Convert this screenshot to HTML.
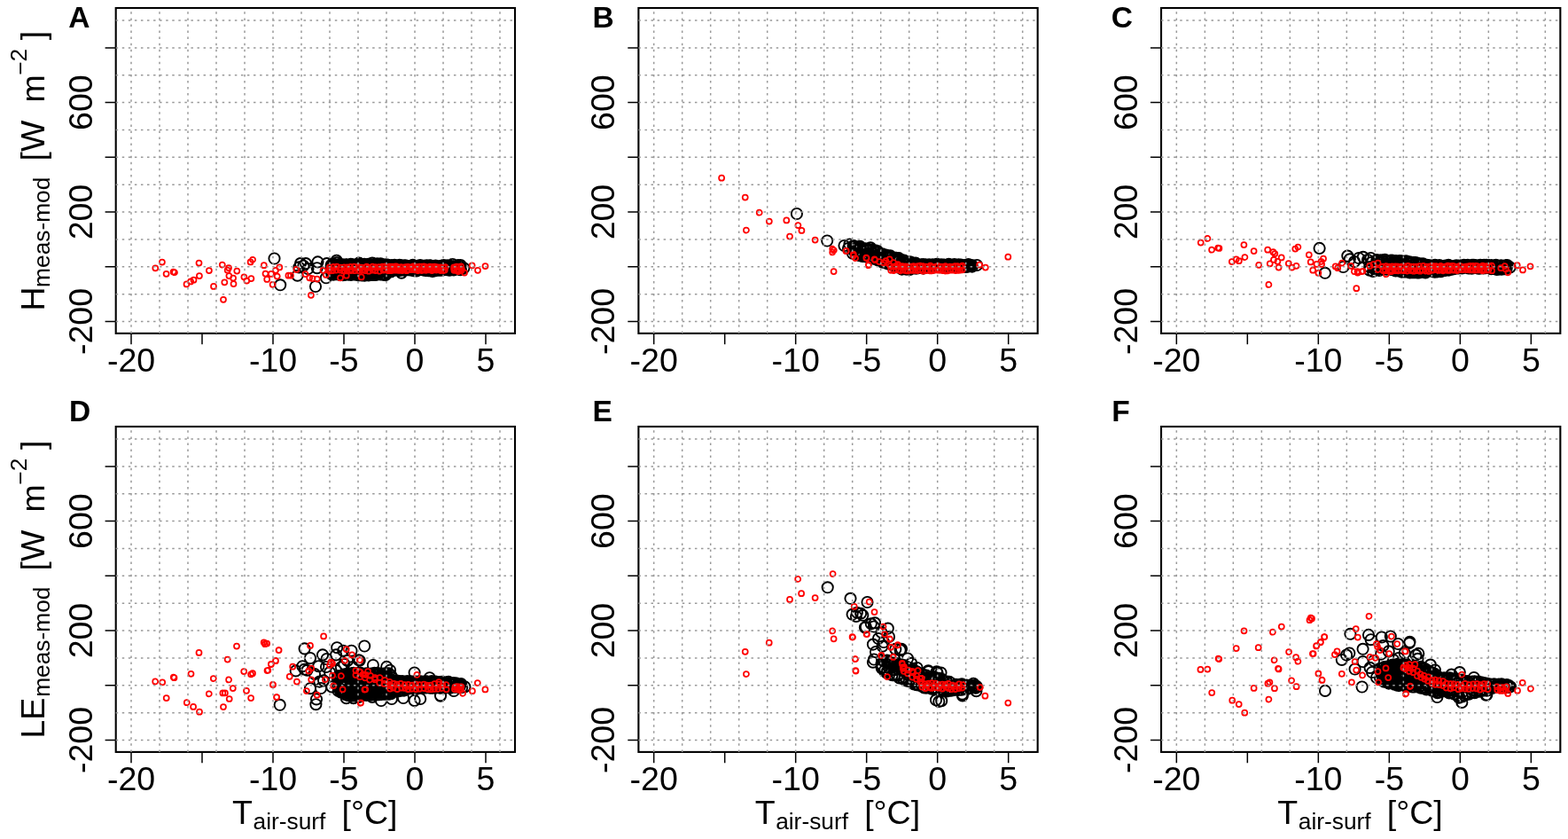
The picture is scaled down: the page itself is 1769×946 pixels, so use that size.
<!DOCTYPE html>
<html><head><meta charset="utf-8"><style>
html,body{margin:0;padding:0;background:#fff;}
svg{display:block;}
.t{font-family:'Liberation Sans', Arial, sans-serif;font-size:37.5px;fill:#000;}
.L{font-family:'Liberation Sans', Arial, sans-serif;font-size:33.5px;font-weight:bold;fill:#000;}
.s{font-family:'Liberation Sans', Arial, sans-serif;font-size:26.3px;fill:#000;}
</style></head><body>
<svg width="1769" height="946" viewBox="0 0 1769 946">
<rect width="1769" height="946" fill="#fff"/>
<path d="M148.00 375.90V388.30M228.00 375.90V388.30M308.00 375.90V388.30M388.00 375.90V388.30M468.00 375.90V388.30M548.00 375.90V388.30M130.70 362.50H118.60M130.70 300.78H118.60M130.70 239.06H118.60M130.70 177.34H118.60M130.70 115.62H118.60M130.70 53.90H118.60" stroke="#000" stroke-width="1.5" fill="none"/>
<rect x="130.70" y="9.00" width="450.30" height="366.90" stroke="#000" stroke-width="2.1" fill="none"/>
<text x="148.00" y="418.50" text-anchor="middle" class="t">-20</text>
<text x="308.00" y="418.50" text-anchor="middle" class="t">-10</text>
<text x="388.00" y="418.50" text-anchor="middle" class="t">-5</text>
<text x="468.00" y="418.50" text-anchor="middle" class="t">0</text>
<text x="548.00" y="418.50" text-anchor="middle" class="t">5</text>
<text transform="translate(103.70 362.50) rotate(-90)" text-anchor="middle" class="t">-200</text>
<text transform="translate(103.70 239.06) rotate(-90)" text-anchor="middle" class="t">200</text>
<text transform="translate(103.70 115.62) rotate(-90)" text-anchor="middle" class="t">600</text>
<path d="M737.67 375.90V388.30M817.67 375.90V388.30M897.67 375.90V388.30M977.67 375.90V388.30M1057.67 375.90V388.30M1137.67 375.90V388.30M720.37 362.50H708.27M720.37 300.78H708.27M720.37 239.06H708.27M720.37 177.34H708.27M720.37 115.62H708.27M720.37 53.90H708.27" stroke="#000" stroke-width="1.5" fill="none"/>
<rect x="720.37" y="9.00" width="450.30" height="366.90" stroke="#000" stroke-width="2.1" fill="none"/>
<text x="737.67" y="418.50" text-anchor="middle" class="t">-20</text>
<text x="897.67" y="418.50" text-anchor="middle" class="t">-10</text>
<text x="977.67" y="418.50" text-anchor="middle" class="t">-5</text>
<text x="1057.67" y="418.50" text-anchor="middle" class="t">0</text>
<text x="1137.67" y="418.50" text-anchor="middle" class="t">5</text>
<text transform="translate(693.37 362.50) rotate(-90)" text-anchor="middle" class="t">-200</text>
<text transform="translate(693.37 239.06) rotate(-90)" text-anchor="middle" class="t">200</text>
<text transform="translate(693.37 115.62) rotate(-90)" text-anchor="middle" class="t">600</text>
<path d="M1327.33 375.90V388.30M1407.33 375.90V388.30M1487.33 375.90V388.30M1567.33 375.90V388.30M1647.33 375.90V388.30M1727.33 375.90V388.30M1310.03 362.50H1297.93M1310.03 300.78H1297.93M1310.03 239.06H1297.93M1310.03 177.34H1297.93M1310.03 115.62H1297.93M1310.03 53.90H1297.93" stroke="#000" stroke-width="1.5" fill="none"/>
<rect x="1310.03" y="9.00" width="450.30" height="366.90" stroke="#000" stroke-width="2.1" fill="none"/>
<text x="1327.33" y="418.50" text-anchor="middle" class="t">-20</text>
<text x="1487.33" y="418.50" text-anchor="middle" class="t">-10</text>
<text x="1567.33" y="418.50" text-anchor="middle" class="t">-5</text>
<text x="1647.33" y="418.50" text-anchor="middle" class="t">0</text>
<text x="1727.33" y="418.50" text-anchor="middle" class="t">5</text>
<text transform="translate(1283.03 362.50) rotate(-90)" text-anchor="middle" class="t">-200</text>
<text transform="translate(1283.03 239.06) rotate(-90)" text-anchor="middle" class="t">200</text>
<text transform="translate(1283.03 115.62) rotate(-90)" text-anchor="middle" class="t">600</text>
<path d="M148.00 847.90V860.30M228.00 847.90V860.30M308.00 847.90V860.30M388.00 847.90V860.30M468.00 847.90V860.30M548.00 847.90V860.30M130.70 834.50H118.60M130.70 772.78H118.60M130.70 711.06H118.60M130.70 649.34H118.60M130.70 587.62H118.60M130.70 525.90H118.60" stroke="#000" stroke-width="1.5" fill="none"/>
<rect x="130.70" y="481.00" width="450.30" height="366.90" stroke="#000" stroke-width="2.1" fill="none"/>
<text x="148.00" y="890.50" text-anchor="middle" class="t">-20</text>
<text x="308.00" y="890.50" text-anchor="middle" class="t">-10</text>
<text x="388.00" y="890.50" text-anchor="middle" class="t">-5</text>
<text x="468.00" y="890.50" text-anchor="middle" class="t">0</text>
<text x="548.00" y="890.50" text-anchor="middle" class="t">5</text>
<text transform="translate(103.70 834.50) rotate(-90)" text-anchor="middle" class="t">-200</text>
<text transform="translate(103.70 711.06) rotate(-90)" text-anchor="middle" class="t">200</text>
<text transform="translate(103.70 587.62) rotate(-90)" text-anchor="middle" class="t">600</text>
<path d="M737.67 847.90V860.30M817.67 847.90V860.30M897.67 847.90V860.30M977.67 847.90V860.30M1057.67 847.90V860.30M1137.67 847.90V860.30M720.37 834.50H708.27M720.37 772.78H708.27M720.37 711.06H708.27M720.37 649.34H708.27M720.37 587.62H708.27M720.37 525.90H708.27" stroke="#000" stroke-width="1.5" fill="none"/>
<rect x="720.37" y="481.00" width="450.30" height="366.90" stroke="#000" stroke-width="2.1" fill="none"/>
<text x="737.67" y="890.50" text-anchor="middle" class="t">-20</text>
<text x="897.67" y="890.50" text-anchor="middle" class="t">-10</text>
<text x="977.67" y="890.50" text-anchor="middle" class="t">-5</text>
<text x="1057.67" y="890.50" text-anchor="middle" class="t">0</text>
<text x="1137.67" y="890.50" text-anchor="middle" class="t">5</text>
<text transform="translate(693.37 834.50) rotate(-90)" text-anchor="middle" class="t">-200</text>
<text transform="translate(693.37 711.06) rotate(-90)" text-anchor="middle" class="t">200</text>
<text transform="translate(693.37 587.62) rotate(-90)" text-anchor="middle" class="t">600</text>
<path d="M1327.33 847.90V860.30M1407.33 847.90V860.30M1487.33 847.90V860.30M1567.33 847.90V860.30M1647.33 847.90V860.30M1727.33 847.90V860.30M1310.03 834.50H1297.93M1310.03 772.78H1297.93M1310.03 711.06H1297.93M1310.03 649.34H1297.93M1310.03 587.62H1297.93M1310.03 525.90H1297.93" stroke="#000" stroke-width="1.5" fill="none"/>
<rect x="1310.03" y="481.00" width="450.30" height="366.90" stroke="#000" stroke-width="2.1" fill="none"/>
<text x="1327.33" y="890.50" text-anchor="middle" class="t">-20</text>
<text x="1487.33" y="890.50" text-anchor="middle" class="t">-10</text>
<text x="1567.33" y="890.50" text-anchor="middle" class="t">-5</text>
<text x="1647.33" y="890.50" text-anchor="middle" class="t">0</text>
<text x="1727.33" y="890.50" text-anchor="middle" class="t">5</text>
<text transform="translate(1283.03 834.50) rotate(-90)" text-anchor="middle" class="t">-200</text>
<text transform="translate(1283.03 711.06) rotate(-90)" text-anchor="middle" class="t">200</text>
<text transform="translate(1283.03 587.62) rotate(-90)" text-anchor="middle" class="t">600</text>
<path d="M303.4 291.5a6.1 6.1 0 1 0 12.2 0a6.1 6.1 0 1 0 -12.2 0M310.1 321.3a6.1 6.1 0 1 0 12.2 0a6.1 6.1 0 1 0 -12.2 0M332.9 297.1a6.1 6.1 0 1 0 12.2 0a6.1 6.1 0 1 0 -12.2 0M336.3 299.7a6.1 6.1 0 1 0 12.2 0a6.1 6.1 0 1 0 -12.2 0M338.9 297.1a6.1 6.1 0 1 0 12.2 0a6.1 6.1 0 1 0 -12.2 0M331.2 301.4a6.1 6.1 0 1 0 12.2 0a6.1 6.1 0 1 0 -12.2 0M329.5 310.7a6.1 6.1 0 1 0 12.2 0a6.1 6.1 0 1 0 -12.2 0M341.4 303.1a6.1 6.1 0 1 0 12.2 0a6.1 6.1 0 1 0 -12.2 0M349.9 323.0a6.1 6.1 0 1 0 12.2 0a6.1 6.1 0 1 0 -12.2 0M352.4 295.4a6.1 6.1 0 1 0 12.2 0a6.1 6.1 0 1 0 -12.2 0M351.6 302.2a6.1 6.1 0 1 0 12.2 0a6.1 6.1 0 1 0 -12.2 0M362.6 297.1a6.1 6.1 0 1 0 12.2 0a6.1 6.1 0 1 0 -12.2 0M361.8 313.3a6.1 6.1 0 1 0 12.2 0a6.1 6.1 0 1 0 -12.2 0M373.6 293.7a6.1 6.1 0 1 0 12.2 0a6.1 6.1 0 1 0 -12.2 0M428.9 306.5a6.1 6.1 0 1 0 12.2 0a6.1 6.1 0 1 0 -12.2 0M444.9 305.0a6.1 6.1 0 1 0 12.2 0a6.1 6.1 0 1 0 -12.2 0M504.5 298.0a6.1 6.1 0 1 0 12.2 0a6.1 6.1 0 1 0 -12.2 0M517.2 302.2a6.1 6.1 0 1 0 12.2 0a6.1 6.1 0 1 0 -12.2 0M513.9 304.0a6.1 6.1 0 1 0 12.2 0a6.1 6.1 0 1 0 -12.2 0M367.5 298.9a6.1 6.1 0 1 0 12.2 0a6.1 6.1 0 1 0 -12.2 0M368.2 309.4a6.1 6.1 0 1 0 12.2 0a6.1 6.1 0 1 0 -12.2 0M367.9 303.5a6.1 6.1 0 1 0 12.2 0a6.1 6.1 0 1 0 -12.2 0M368.4 307.2a6.1 6.1 0 1 0 12.2 0a6.1 6.1 0 1 0 -12.2 0M369.0 297.5a6.1 6.1 0 1 0 12.2 0a6.1 6.1 0 1 0 -12.2 0M369.9 309.7a6.1 6.1 0 1 0 12.2 0a6.1 6.1 0 1 0 -12.2 0M370.3 298.6a6.1 6.1 0 1 0 12.2 0a6.1 6.1 0 1 0 -12.2 0M369.3 306.5a6.1 6.1 0 1 0 12.2 0a6.1 6.1 0 1 0 -12.2 0M370.8 299.1a6.1 6.1 0 1 0 12.2 0a6.1 6.1 0 1 0 -12.2 0M371.6 309.0a6.1 6.1 0 1 0 12.2 0a6.1 6.1 0 1 0 -12.2 0M369.6 304.5a6.1 6.1 0 1 0 12.2 0a6.1 6.1 0 1 0 -12.2 0M372.5 302.8a6.1 6.1 0 1 0 12.2 0a6.1 6.1 0 1 0 -12.2 0M372.4 298.2a6.1 6.1 0 1 0 12.2 0a6.1 6.1 0 1 0 -12.2 0M372.1 309.3a6.1 6.1 0 1 0 12.2 0a6.1 6.1 0 1 0 -12.2 0M372.5 304.0a6.1 6.1 0 1 0 12.2 0a6.1 6.1 0 1 0 -12.2 0M371.8 301.1a6.1 6.1 0 1 0 12.2 0a6.1 6.1 0 1 0 -12.2 0M374.0 298.2a6.1 6.1 0 1 0 12.2 0a6.1 6.1 0 1 0 -12.2 0M374.0 308.9a6.1 6.1 0 1 0 12.2 0a6.1 6.1 0 1 0 -12.2 0M375.4 304.7a6.1 6.1 0 1 0 12.2 0a6.1 6.1 0 1 0 -12.2 0M374.8 300.6a6.1 6.1 0 1 0 12.2 0a6.1 6.1 0 1 0 -12.2 0M376.5 298.9a6.1 6.1 0 1 0 12.2 0a6.1 6.1 0 1 0 -12.2 0M375.4 309.5a6.1 6.1 0 1 0 12.2 0a6.1 6.1 0 1 0 -12.2 0M376.6 306.4a6.1 6.1 0 1 0 12.2 0a6.1 6.1 0 1 0 -12.2 0M377.3 303.2a6.1 6.1 0 1 0 12.2 0a6.1 6.1 0 1 0 -12.2 0M377.9 298.6a6.1 6.1 0 1 0 12.2 0a6.1 6.1 0 1 0 -12.2 0M377.3 310.0a6.1 6.1 0 1 0 12.2 0a6.1 6.1 0 1 0 -12.2 0M378.7 307.8a6.1 6.1 0 1 0 12.2 0a6.1 6.1 0 1 0 -12.2 0M377.5 305.0a6.1 6.1 0 1 0 12.2 0a6.1 6.1 0 1 0 -12.2 0M378.5 297.8a6.1 6.1 0 1 0 12.2 0a6.1 6.1 0 1 0 -12.2 0M379.5 309.6a6.1 6.1 0 1 0 12.2 0a6.1 6.1 0 1 0 -12.2 0M378.1 304.6a6.1 6.1 0 1 0 12.2 0a6.1 6.1 0 1 0 -12.2 0M379.7 306.0a6.1 6.1 0 1 0 12.2 0a6.1 6.1 0 1 0 -12.2 0M380.5 298.2a6.1 6.1 0 1 0 12.2 0a6.1 6.1 0 1 0 -12.2 0M380.7 310.3a6.1 6.1 0 1 0 12.2 0a6.1 6.1 0 1 0 -12.2 0M380.8 302.9a6.1 6.1 0 1 0 12.2 0a6.1 6.1 0 1 0 -12.2 0M380.7 298.9a6.1 6.1 0 1 0 12.2 0a6.1 6.1 0 1 0 -12.2 0M381.8 298.7a6.1 6.1 0 1 0 12.2 0a6.1 6.1 0 1 0 -12.2 0M382.9 310.0a6.1 6.1 0 1 0 12.2 0a6.1 6.1 0 1 0 -12.2 0M382.0 300.5a6.1 6.1 0 1 0 12.2 0a6.1 6.1 0 1 0 -12.2 0M382.3 309.3a6.1 6.1 0 1 0 12.2 0a6.1 6.1 0 1 0 -12.2 0M384.2 298.4a6.1 6.1 0 1 0 12.2 0a6.1 6.1 0 1 0 -12.2 0M384.3 309.3a6.1 6.1 0 1 0 12.2 0a6.1 6.1 0 1 0 -12.2 0M383.9 309.0a6.1 6.1 0 1 0 12.2 0a6.1 6.1 0 1 0 -12.2 0M384.1 303.6a6.1 6.1 0 1 0 12.2 0a6.1 6.1 0 1 0 -12.2 0M385.2 298.4a6.1 6.1 0 1 0 12.2 0a6.1 6.1 0 1 0 -12.2 0M386.0 308.9a6.1 6.1 0 1 0 12.2 0a6.1 6.1 0 1 0 -12.2 0M386.4 307.5a6.1 6.1 0 1 0 12.2 0a6.1 6.1 0 1 0 -12.2 0M386.7 306.7a6.1 6.1 0 1 0 12.2 0a6.1 6.1 0 1 0 -12.2 0M387.5 298.3a6.1 6.1 0 1 0 12.2 0a6.1 6.1 0 1 0 -12.2 0M387.2 309.7a6.1 6.1 0 1 0 12.2 0a6.1 6.1 0 1 0 -12.2 0M385.7 308.1a6.1 6.1 0 1 0 12.2 0a6.1 6.1 0 1 0 -12.2 0M387.3 300.8a6.1 6.1 0 1 0 12.2 0a6.1 6.1 0 1 0 -12.2 0M388.7 298.3a6.1 6.1 0 1 0 12.2 0a6.1 6.1 0 1 0 -12.2 0M388.5 309.5a6.1 6.1 0 1 0 12.2 0a6.1 6.1 0 1 0 -12.2 0M388.8 305.4a6.1 6.1 0 1 0 12.2 0a6.1 6.1 0 1 0 -12.2 0M389.1 303.6a6.1 6.1 0 1 0 12.2 0a6.1 6.1 0 1 0 -12.2 0M389.7 297.8a6.1 6.1 0 1 0 12.2 0a6.1 6.1 0 1 0 -12.2 0M389.9 310.0a6.1 6.1 0 1 0 12.2 0a6.1 6.1 0 1 0 -12.2 0M391.5 307.3a6.1 6.1 0 1 0 12.2 0a6.1 6.1 0 1 0 -12.2 0M391.3 307.5a6.1 6.1 0 1 0 12.2 0a6.1 6.1 0 1 0 -12.2 0M391.6 298.9a6.1 6.1 0 1 0 12.2 0a6.1 6.1 0 1 0 -12.2 0M392.1 309.0a6.1 6.1 0 1 0 12.2 0a6.1 6.1 0 1 0 -12.2 0M390.4 298.8a6.1 6.1 0 1 0 12.2 0a6.1 6.1 0 1 0 -12.2 0M392.7 301.3a6.1 6.1 0 1 0 12.2 0a6.1 6.1 0 1 0 -12.2 0M393.0 298.5a6.1 6.1 0 1 0 12.2 0a6.1 6.1 0 1 0 -12.2 0M393.3 309.0a6.1 6.1 0 1 0 12.2 0a6.1 6.1 0 1 0 -12.2 0M392.4 304.3a6.1 6.1 0 1 0 12.2 0a6.1 6.1 0 1 0 -12.2 0M392.4 301.6a6.1 6.1 0 1 0 12.2 0a6.1 6.1 0 1 0 -12.2 0M395.4 298.2a6.1 6.1 0 1 0 12.2 0a6.1 6.1 0 1 0 -12.2 0M394.9 309.8a6.1 6.1 0 1 0 12.2 0a6.1 6.1 0 1 0 -12.2 0M393.6 302.8a6.1 6.1 0 1 0 12.2 0a6.1 6.1 0 1 0 -12.2 0M394.8 300.6a6.1 6.1 0 1 0 12.2 0a6.1 6.1 0 1 0 -12.2 0M396.2 299.0a6.1 6.1 0 1 0 12.2 0a6.1 6.1 0 1 0 -12.2 0M396.7 309.3a6.1 6.1 0 1 0 12.2 0a6.1 6.1 0 1 0 -12.2 0M397.0 307.5a6.1 6.1 0 1 0 12.2 0a6.1 6.1 0 1 0 -12.2 0M395.2 298.8a6.1 6.1 0 1 0 12.2 0a6.1 6.1 0 1 0 -12.2 0M397.9 298.7a6.1 6.1 0 1 0 12.2 0a6.1 6.1 0 1 0 -12.2 0M397.9 310.2a6.1 6.1 0 1 0 12.2 0a6.1 6.1 0 1 0 -12.2 0M398.9 304.5a6.1 6.1 0 1 0 12.2 0a6.1 6.1 0 1 0 -12.2 0M397.4 309.2a6.1 6.1 0 1 0 12.2 0a6.1 6.1 0 1 0 -12.2 0M400.3 298.3a6.1 6.1 0 1 0 12.2 0a6.1 6.1 0 1 0 -12.2 0M399.6 310.1a6.1 6.1 0 1 0 12.2 0a6.1 6.1 0 1 0 -12.2 0M399.6 304.9a6.1 6.1 0 1 0 12.2 0a6.1 6.1 0 1 0 -12.2 0M399.3 305.5a6.1 6.1 0 1 0 12.2 0a6.1 6.1 0 1 0 -12.2 0M401.0 297.9a6.1 6.1 0 1 0 12.2 0a6.1 6.1 0 1 0 -12.2 0M402.1 310.5a6.1 6.1 0 1 0 12.2 0a6.1 6.1 0 1 0 -12.2 0M400.9 308.0a6.1 6.1 0 1 0 12.2 0a6.1 6.1 0 1 0 -12.2 0M400.9 308.8a6.1 6.1 0 1 0 12.2 0a6.1 6.1 0 1 0 -12.2 0M403.4 298.1a6.1 6.1 0 1 0 12.2 0a6.1 6.1 0 1 0 -12.2 0M402.8 308.9a6.1 6.1 0 1 0 12.2 0a6.1 6.1 0 1 0 -12.2 0M404.3 299.0a6.1 6.1 0 1 0 12.2 0a6.1 6.1 0 1 0 -12.2 0M404.1 309.1a6.1 6.1 0 1 0 12.2 0a6.1 6.1 0 1 0 -12.2 0M404.8 297.7a6.1 6.1 0 1 0 12.2 0a6.1 6.1 0 1 0 -12.2 0M405.1 310.7a6.1 6.1 0 1 0 12.2 0a6.1 6.1 0 1 0 -12.2 0M405.4 304.1a6.1 6.1 0 1 0 12.2 0a6.1 6.1 0 1 0 -12.2 0M404.3 302.4a6.1 6.1 0 1 0 12.2 0a6.1 6.1 0 1 0 -12.2 0M405.9 298.6a6.1 6.1 0 1 0 12.2 0a6.1 6.1 0 1 0 -12.2 0M406.2 309.2a6.1 6.1 0 1 0 12.2 0a6.1 6.1 0 1 0 -12.2 0M405.0 305.9a6.1 6.1 0 1 0 12.2 0a6.1 6.1 0 1 0 -12.2 0M405.6 304.0a6.1 6.1 0 1 0 12.2 0a6.1 6.1 0 1 0 -12.2 0M407.7 299.0a6.1 6.1 0 1 0 12.2 0a6.1 6.1 0 1 0 -12.2 0M408.4 308.9a6.1 6.1 0 1 0 12.2 0a6.1 6.1 0 1 0 -12.2 0M406.9 302.2a6.1 6.1 0 1 0 12.2 0a6.1 6.1 0 1 0 -12.2 0M409.5 307.1a6.1 6.1 0 1 0 12.2 0a6.1 6.1 0 1 0 -12.2 0M409.3 297.8a6.1 6.1 0 1 0 12.2 0a6.1 6.1 0 1 0 -12.2 0M409.7 310.4a6.1 6.1 0 1 0 12.2 0a6.1 6.1 0 1 0 -12.2 0M410.9 302.3a6.1 6.1 0 1 0 12.2 0a6.1 6.1 0 1 0 -12.2 0M410.7 306.1a6.1 6.1 0 1 0 12.2 0a6.1 6.1 0 1 0 -12.2 0M411.1 299.2a6.1 6.1 0 1 0 12.2 0a6.1 6.1 0 1 0 -12.2 0M410.8 310.2a6.1 6.1 0 1 0 12.2 0a6.1 6.1 0 1 0 -12.2 0M409.8 300.4a6.1 6.1 0 1 0 12.2 0a6.1 6.1 0 1 0 -12.2 0M412.4 300.9a6.1 6.1 0 1 0 12.2 0a6.1 6.1 0 1 0 -12.2 0M413.0 298.5a6.1 6.1 0 1 0 12.2 0a6.1 6.1 0 1 0 -12.2 0M413.1 309.6a6.1 6.1 0 1 0 12.2 0a6.1 6.1 0 1 0 -12.2 0M412.2 301.8a6.1 6.1 0 1 0 12.2 0a6.1 6.1 0 1 0 -12.2 0M413.9 305.2a6.1 6.1 0 1 0 12.2 0a6.1 6.1 0 1 0 -12.2 0M414.8 299.0a6.1 6.1 0 1 0 12.2 0a6.1 6.1 0 1 0 -12.2 0M413.9 309.9a6.1 6.1 0 1 0 12.2 0a6.1 6.1 0 1 0 -12.2 0M413.0 299.0a6.1 6.1 0 1 0 12.2 0a6.1 6.1 0 1 0 -12.2 0M412.9 308.0a6.1 6.1 0 1 0 12.2 0a6.1 6.1 0 1 0 -12.2 0M416.2 298.9a6.1 6.1 0 1 0 12.2 0a6.1 6.1 0 1 0 -12.2 0M415.7 310.0a6.1 6.1 0 1 0 12.2 0a6.1 6.1 0 1 0 -12.2 0M416.8 302.7a6.1 6.1 0 1 0 12.2 0a6.1 6.1 0 1 0 -12.2 0M416.1 301.0a6.1 6.1 0 1 0 12.2 0a6.1 6.1 0 1 0 -12.2 0M417.0 297.9a6.1 6.1 0 1 0 12.2 0a6.1 6.1 0 1 0 -12.2 0M418.0 309.9a6.1 6.1 0 1 0 12.2 0a6.1 6.1 0 1 0 -12.2 0M418.9 303.6a6.1 6.1 0 1 0 12.2 0a6.1 6.1 0 1 0 -12.2 0M416.8 307.2a6.1 6.1 0 1 0 12.2 0a6.1 6.1 0 1 0 -12.2 0M419.5 297.4a6.1 6.1 0 1 0 12.2 0a6.1 6.1 0 1 0 -12.2 0M419.3 309.1a6.1 6.1 0 1 0 12.2 0a6.1 6.1 0 1 0 -12.2 0M417.9 308.2a6.1 6.1 0 1 0 12.2 0a6.1 6.1 0 1 0 -12.2 0M417.6 301.2a6.1 6.1 0 1 0 12.2 0a6.1 6.1 0 1 0 -12.2 0M421.3 298.2a6.1 6.1 0 1 0 12.2 0a6.1 6.1 0 1 0 -12.2 0M420.2 309.2a6.1 6.1 0 1 0 12.2 0a6.1 6.1 0 1 0 -12.2 0M419.9 306.7a6.1 6.1 0 1 0 12.2 0a6.1 6.1 0 1 0 -12.2 0M419.4 308.5a6.1 6.1 0 1 0 12.2 0a6.1 6.1 0 1 0 -12.2 0M422.2 299.1a6.1 6.1 0 1 0 12.2 0a6.1 6.1 0 1 0 -12.2 0M422.8 309.4a6.1 6.1 0 1 0 12.2 0a6.1 6.1 0 1 0 -12.2 0M421.5 303.8a6.1 6.1 0 1 0 12.2 0a6.1 6.1 0 1 0 -12.2 0M421.0 305.7a6.1 6.1 0 1 0 12.2 0a6.1 6.1 0 1 0 -12.2 0M423.3 297.4a6.1 6.1 0 1 0 12.2 0a6.1 6.1 0 1 0 -12.2 0M424.5 309.4a6.1 6.1 0 1 0 12.2 0a6.1 6.1 0 1 0 -12.2 0M424.2 303.5a6.1 6.1 0 1 0 12.2 0a6.1 6.1 0 1 0 -12.2 0M423.3 299.3a6.1 6.1 0 1 0 12.2 0a6.1 6.1 0 1 0 -12.2 0M426.0 299.1a6.1 6.1 0 1 0 12.2 0a6.1 6.1 0 1 0 -12.2 0M426.1 309.1a6.1 6.1 0 1 0 12.2 0a6.1 6.1 0 1 0 -12.2 0M424.6 305.3a6.1 6.1 0 1 0 12.2 0a6.1 6.1 0 1 0 -12.2 0M427.0 304.5a6.1 6.1 0 1 0 12.2 0a6.1 6.1 0 1 0 -12.2 0M427.3 298.6a6.1 6.1 0 1 0 12.2 0a6.1 6.1 0 1 0 -12.2 0M426.8 309.9a6.1 6.1 0 1 0 12.2 0a6.1 6.1 0 1 0 -12.2 0M426.5 301.3a6.1 6.1 0 1 0 12.2 0a6.1 6.1 0 1 0 -12.2 0M425.8 301.7a6.1 6.1 0 1 0 12.2 0a6.1 6.1 0 1 0 -12.2 0M429.3 298.2a6.1 6.1 0 1 0 12.2 0a6.1 6.1 0 1 0 -12.2 0M428.9 310.1a6.1 6.1 0 1 0 12.2 0a6.1 6.1 0 1 0 -12.2 0M430.1 302.9a6.1 6.1 0 1 0 12.2 0a6.1 6.1 0 1 0 -12.2 0M428.1 302.2a6.1 6.1 0 1 0 12.2 0a6.1 6.1 0 1 0 -12.2 0M428.7 300.3a6.1 6.1 0 1 0 12.2 0a6.1 6.1 0 1 0 -12.2 0M429.4 303.9a6.1 6.1 0 1 0 12.2 0a6.1 6.1 0 1 0 -12.2 0M428.4 302.2a6.1 6.1 0 1 0 12.2 0a6.1 6.1 0 1 0 -12.2 0M430.6 299.9a6.1 6.1 0 1 0 12.2 0a6.1 6.1 0 1 0 -12.2 0M430.2 303.4a6.1 6.1 0 1 0 12.2 0a6.1 6.1 0 1 0 -12.2 0M429.7 300.3a6.1 6.1 0 1 0 12.2 0a6.1 6.1 0 1 0 -12.2 0M432.2 298.9a6.1 6.1 0 1 0 12.2 0a6.1 6.1 0 1 0 -12.2 0M431.6 304.5a6.1 6.1 0 1 0 12.2 0a6.1 6.1 0 1 0 -12.2 0M431.4 303.2a6.1 6.1 0 1 0 12.2 0a6.1 6.1 0 1 0 -12.2 0M433.7 300.4a6.1 6.1 0 1 0 12.2 0a6.1 6.1 0 1 0 -12.2 0M433.3 304.3a6.1 6.1 0 1 0 12.2 0a6.1 6.1 0 1 0 -12.2 0M434.6 300.3a6.1 6.1 0 1 0 12.2 0a6.1 6.1 0 1 0 -12.2 0M435.8 299.1a6.1 6.1 0 1 0 12.2 0a6.1 6.1 0 1 0 -12.2 0M435.6 305.2a6.1 6.1 0 1 0 12.2 0a6.1 6.1 0 1 0 -12.2 0M436.3 301.3a6.1 6.1 0 1 0 12.2 0a6.1 6.1 0 1 0 -12.2 0M436.4 299.7a6.1 6.1 0 1 0 12.2 0a6.1 6.1 0 1 0 -12.2 0M437.4 303.9a6.1 6.1 0 1 0 12.2 0a6.1 6.1 0 1 0 -12.2 0M438.2 300.6a6.1 6.1 0 1 0 12.2 0a6.1 6.1 0 1 0 -12.2 0M439.0 298.9a6.1 6.1 0 1 0 12.2 0a6.1 6.1 0 1 0 -12.2 0M438.3 305.0a6.1 6.1 0 1 0 12.2 0a6.1 6.1 0 1 0 -12.2 0M439.5 303.6a6.1 6.1 0 1 0 12.2 0a6.1 6.1 0 1 0 -12.2 0M440.5 300.1a6.1 6.1 0 1 0 12.2 0a6.1 6.1 0 1 0 -12.2 0M440.3 303.7a6.1 6.1 0 1 0 12.2 0a6.1 6.1 0 1 0 -12.2 0M439.9 300.6a6.1 6.1 0 1 0 12.2 0a6.1 6.1 0 1 0 -12.2 0M442.0 300.0a6.1 6.1 0 1 0 12.2 0a6.1 6.1 0 1 0 -12.2 0M441.4 303.5a6.1 6.1 0 1 0 12.2 0a6.1 6.1 0 1 0 -12.2 0M443.2 303.2a6.1 6.1 0 1 0 12.2 0a6.1 6.1 0 1 0 -12.2 0M443.4 299.8a6.1 6.1 0 1 0 12.2 0a6.1 6.1 0 1 0 -12.2 0M443.7 304.2a6.1 6.1 0 1 0 12.2 0a6.1 6.1 0 1 0 -12.2 0M443.0 301.4a6.1 6.1 0 1 0 12.2 0a6.1 6.1 0 1 0 -12.2 0M444.6 298.8a6.1 6.1 0 1 0 12.2 0a6.1 6.1 0 1 0 -12.2 0M445.1 304.2a6.1 6.1 0 1 0 12.2 0a6.1 6.1 0 1 0 -12.2 0M445.1 300.2a6.1 6.1 0 1 0 12.2 0a6.1 6.1 0 1 0 -12.2 0M446.3 299.0a6.1 6.1 0 1 0 12.2 0a6.1 6.1 0 1 0 -12.2 0M446.1 303.9a6.1 6.1 0 1 0 12.2 0a6.1 6.1 0 1 0 -12.2 0M447.6 301.6a6.1 6.1 0 1 0 12.2 0a6.1 6.1 0 1 0 -12.2 0M448.0 299.9a6.1 6.1 0 1 0 12.2 0a6.1 6.1 0 1 0 -12.2 0M447.8 303.4a6.1 6.1 0 1 0 12.2 0a6.1 6.1 0 1 0 -12.2 0M448.2 302.0a6.1 6.1 0 1 0 12.2 0a6.1 6.1 0 1 0 -12.2 0M449.9 299.6a6.1 6.1 0 1 0 12.2 0a6.1 6.1 0 1 0 -12.2 0M449.9 304.7a6.1 6.1 0 1 0 12.2 0a6.1 6.1 0 1 0 -12.2 0M448.9 302.0a6.1 6.1 0 1 0 12.2 0a6.1 6.1 0 1 0 -12.2 0M451.3 299.2a6.1 6.1 0 1 0 12.2 0a6.1 6.1 0 1 0 -12.2 0M451.2 304.4a6.1 6.1 0 1 0 12.2 0a6.1 6.1 0 1 0 -12.2 0M452.6 303.7a6.1 6.1 0 1 0 12.2 0a6.1 6.1 0 1 0 -12.2 0M452.6 300.0a6.1 6.1 0 1 0 12.2 0a6.1 6.1 0 1 0 -12.2 0M452.4 303.5a6.1 6.1 0 1 0 12.2 0a6.1 6.1 0 1 0 -12.2 0M452.9 303.5a6.1 6.1 0 1 0 12.2 0a6.1 6.1 0 1 0 -12.2 0M454.1 300.2a6.1 6.1 0 1 0 12.2 0a6.1 6.1 0 1 0 -12.2 0M455.0 304.0a6.1 6.1 0 1 0 12.2 0a6.1 6.1 0 1 0 -12.2 0M455.1 303.4a6.1 6.1 0 1 0 12.2 0a6.1 6.1 0 1 0 -12.2 0M455.9 300.1a6.1 6.1 0 1 0 12.2 0a6.1 6.1 0 1 0 -12.2 0M456.4 304.5a6.1 6.1 0 1 0 12.2 0a6.1 6.1 0 1 0 -12.2 0M457.2 303.6a6.1 6.1 0 1 0 12.2 0a6.1 6.1 0 1 0 -12.2 0M458.3 299.8a6.1 6.1 0 1 0 12.2 0a6.1 6.1 0 1 0 -12.2 0M457.3 303.9a6.1 6.1 0 1 0 12.2 0a6.1 6.1 0 1 0 -12.2 0M456.8 302.3a6.1 6.1 0 1 0 12.2 0a6.1 6.1 0 1 0 -12.2 0M459.6 298.9a6.1 6.1 0 1 0 12.2 0a6.1 6.1 0 1 0 -12.2 0M459.5 304.7a6.1 6.1 0 1 0 12.2 0a6.1 6.1 0 1 0 -12.2 0M458.8 302.1a6.1 6.1 0 1 0 12.2 0a6.1 6.1 0 1 0 -12.2 0M460.5 300.1a6.1 6.1 0 1 0 12.2 0a6.1 6.1 0 1 0 -12.2 0M460.3 305.2a6.1 6.1 0 1 0 12.2 0a6.1 6.1 0 1 0 -12.2 0M461.9 302.5a6.1 6.1 0 1 0 12.2 0a6.1 6.1 0 1 0 -12.2 0M462.2 300.4a6.1 6.1 0 1 0 12.2 0a6.1 6.1 0 1 0 -12.2 0M463.1 303.7a6.1 6.1 0 1 0 12.2 0a6.1 6.1 0 1 0 -12.2 0M463.4 303.4a6.1 6.1 0 1 0 12.2 0a6.1 6.1 0 1 0 -12.2 0M464.3 300.1a6.1 6.1 0 1 0 12.2 0a6.1 6.1 0 1 0 -12.2 0M464.0 305.1a6.1 6.1 0 1 0 12.2 0a6.1 6.1 0 1 0 -12.2 0M465.6 301.5a6.1 6.1 0 1 0 12.2 0a6.1 6.1 0 1 0 -12.2 0M466.1 299.6a6.1 6.1 0 1 0 12.2 0a6.1 6.1 0 1 0 -12.2 0M465.3 304.0a6.1 6.1 0 1 0 12.2 0a6.1 6.1 0 1 0 -12.2 0M464.5 303.6a6.1 6.1 0 1 0 12.2 0a6.1 6.1 0 1 0 -12.2 0M467.9 299.0a6.1 6.1 0 1 0 12.2 0a6.1 6.1 0 1 0 -12.2 0M467.4 304.1a6.1 6.1 0 1 0 12.2 0a6.1 6.1 0 1 0 -12.2 0M466.1 301.2a6.1 6.1 0 1 0 12.2 0a6.1 6.1 0 1 0 -12.2 0M468.6 300.1a6.1 6.1 0 1 0 12.2 0a6.1 6.1 0 1 0 -12.2 0M468.3 303.7a6.1 6.1 0 1 0 12.2 0a6.1 6.1 0 1 0 -12.2 0M468.7 300.1a6.1 6.1 0 1 0 12.2 0a6.1 6.1 0 1 0 -12.2 0M470.7 299.9a6.1 6.1 0 1 0 12.2 0a6.1 6.1 0 1 0 -12.2 0M470.9 303.8a6.1 6.1 0 1 0 12.2 0a6.1 6.1 0 1 0 -12.2 0M469.8 302.2a6.1 6.1 0 1 0 12.2 0a6.1 6.1 0 1 0 -12.2 0M471.8 299.9a6.1 6.1 0 1 0 12.2 0a6.1 6.1 0 1 0 -12.2 0M471.8 304.6a6.1 6.1 0 1 0 12.2 0a6.1 6.1 0 1 0 -12.2 0M473.0 303.2a6.1 6.1 0 1 0 12.2 0a6.1 6.1 0 1 0 -12.2 0M474.3 299.8a6.1 6.1 0 1 0 12.2 0a6.1 6.1 0 1 0 -12.2 0M473.7 304.9a6.1 6.1 0 1 0 12.2 0a6.1 6.1 0 1 0 -12.2 0M474.6 302.3a6.1 6.1 0 1 0 12.2 0a6.1 6.1 0 1 0 -12.2 0M475.2 299.3a6.1 6.1 0 1 0 12.2 0a6.1 6.1 0 1 0 -12.2 0M474.8 304.9a6.1 6.1 0 1 0 12.2 0a6.1 6.1 0 1 0 -12.2 0M474.1 303.0a6.1 6.1 0 1 0 12.2 0a6.1 6.1 0 1 0 -12.2 0M477.0 300.5a6.1 6.1 0 1 0 12.2 0a6.1 6.1 0 1 0 -12.2 0M477.2 305.2a6.1 6.1 0 1 0 12.2 0a6.1 6.1 0 1 0 -12.2 0M475.7 302.0a6.1 6.1 0 1 0 12.2 0a6.1 6.1 0 1 0 -12.2 0M478.6 299.4a6.1 6.1 0 1 0 12.2 0a6.1 6.1 0 1 0 -12.2 0M478.5 304.0a6.1 6.1 0 1 0 12.2 0a6.1 6.1 0 1 0 -12.2 0M478.6 300.0a6.1 6.1 0 1 0 12.2 0a6.1 6.1 0 1 0 -12.2 0M480.0 299.6a6.1 6.1 0 1 0 12.2 0a6.1 6.1 0 1 0 -12.2 0M479.9 304.1a6.1 6.1 0 1 0 12.2 0a6.1 6.1 0 1 0 -12.2 0M481.0 302.7a6.1 6.1 0 1 0 12.2 0a6.1 6.1 0 1 0 -12.2 0M481.7 300.0a6.1 6.1 0 1 0 12.2 0a6.1 6.1 0 1 0 -12.2 0M481.6 303.8a6.1 6.1 0 1 0 12.2 0a6.1 6.1 0 1 0 -12.2 0M480.1 301.1a6.1 6.1 0 1 0 12.2 0a6.1 6.1 0 1 0 -12.2 0M483.4 300.4a6.1 6.1 0 1 0 12.2 0a6.1 6.1 0 1 0 -12.2 0M483.7 304.3a6.1 6.1 0 1 0 12.2 0a6.1 6.1 0 1 0 -12.2 0M484.9 301.8a6.1 6.1 0 1 0 12.2 0a6.1 6.1 0 1 0 -12.2 0M485.3 299.5a6.1 6.1 0 1 0 12.2 0a6.1 6.1 0 1 0 -12.2 0M485.2 305.2a6.1 6.1 0 1 0 12.2 0a6.1 6.1 0 1 0 -12.2 0M484.3 300.7a6.1 6.1 0 1 0 12.2 0a6.1 6.1 0 1 0 -12.2 0M486.6 299.8a6.1 6.1 0 1 0 12.2 0a6.1 6.1 0 1 0 -12.2 0M486.3 303.4a6.1 6.1 0 1 0 12.2 0a6.1 6.1 0 1 0 -12.2 0M486.1 301.7a6.1 6.1 0 1 0 12.2 0a6.1 6.1 0 1 0 -12.2 0M488.0 300.4a6.1 6.1 0 1 0 12.2 0a6.1 6.1 0 1 0 -12.2 0M488.2 304.7a6.1 6.1 0 1 0 12.2 0a6.1 6.1 0 1 0 -12.2 0M489.4 303.0a6.1 6.1 0 1 0 12.2 0a6.1 6.1 0 1 0 -12.2 0M489.7 300.1a6.1 6.1 0 1 0 12.2 0a6.1 6.1 0 1 0 -12.2 0M489.9 304.6a6.1 6.1 0 1 0 12.2 0a6.1 6.1 0 1 0 -12.2 0M490.1 301.6a6.1 6.1 0 1 0 12.2 0a6.1 6.1 0 1 0 -12.2 0M491.5 299.9a6.1 6.1 0 1 0 12.2 0a6.1 6.1 0 1 0 -12.2 0M491.8 304.8a6.1 6.1 0 1 0 12.2 0a6.1 6.1 0 1 0 -12.2 0M492.4 303.1a6.1 6.1 0 1 0 12.2 0a6.1 6.1 0 1 0 -12.2 0M493.3 299.9a6.1 6.1 0 1 0 12.2 0a6.1 6.1 0 1 0 -12.2 0M492.7 303.9a6.1 6.1 0 1 0 12.2 0a6.1 6.1 0 1 0 -12.2 0M493.6 303.5a6.1 6.1 0 1 0 12.2 0a6.1 6.1 0 1 0 -12.2 0M494.6 299.1a6.1 6.1 0 1 0 12.2 0a6.1 6.1 0 1 0 -12.2 0M494.9 304.3a6.1 6.1 0 1 0 12.2 0a6.1 6.1 0 1 0 -12.2 0M494.4 300.2a6.1 6.1 0 1 0 12.2 0a6.1 6.1 0 1 0 -12.2 0M496.1 300.1a6.1 6.1 0 1 0 12.2 0a6.1 6.1 0 1 0 -12.2 0M496.0 304.0a6.1 6.1 0 1 0 12.2 0a6.1 6.1 0 1 0 -12.2 0M496.6 300.1a6.1 6.1 0 1 0 12.2 0a6.1 6.1 0 1 0 -12.2 0M497.7 300.5a6.1 6.1 0 1 0 12.2 0a6.1 6.1 0 1 0 -12.2 0M497.9 304.1a6.1 6.1 0 1 0 12.2 0a6.1 6.1 0 1 0 -12.2 0M498.3 302.4a6.1 6.1 0 1 0 12.2 0a6.1 6.1 0 1 0 -12.2 0M499.0 299.2a6.1 6.1 0 1 0 12.2 0a6.1 6.1 0 1 0 -12.2 0M499.8 303.9a6.1 6.1 0 1 0 12.2 0a6.1 6.1 0 1 0 -12.2 0M497.9 303.3a6.1 6.1 0 1 0 12.2 0a6.1 6.1 0 1 0 -12.2 0M500.9 299.5a6.1 6.1 0 1 0 12.2 0a6.1 6.1 0 1 0 -12.2 0M500.9 304.7a6.1 6.1 0 1 0 12.2 0a6.1 6.1 0 1 0 -12.2 0M499.8 302.6a6.1 6.1 0 1 0 12.2 0a6.1 6.1 0 1 0 -12.2 0M502.8 300.3a6.1 6.1 0 1 0 12.2 0a6.1 6.1 0 1 0 -12.2 0M502.2 304.5a6.1 6.1 0 1 0 12.2 0a6.1 6.1 0 1 0 -12.2 0M501.6 302.2a6.1 6.1 0 1 0 12.2 0a6.1 6.1 0 1 0 -12.2 0M503.5 300.2a6.1 6.1 0 1 0 12.2 0a6.1 6.1 0 1 0 -12.2 0M504.3 303.5a6.1 6.1 0 1 0 12.2 0a6.1 6.1 0 1 0 -12.2 0M505.2 300.5a6.1 6.1 0 1 0 12.2 0a6.1 6.1 0 1 0 -12.2 0M505.7 304.4a6.1 6.1 0 1 0 12.2 0a6.1 6.1 0 1 0 -12.2 0M506.5 300.4a6.1 6.1 0 1 0 12.2 0a6.1 6.1 0 1 0 -12.2 0M507.2 303.5a6.1 6.1 0 1 0 12.2 0a6.1 6.1 0 1 0 -12.2 0M508.6 300.2a6.1 6.1 0 1 0 12.2 0a6.1 6.1 0 1 0 -12.2 0M509.0 303.2a6.1 6.1 0 1 0 12.2 0a6.1 6.1 0 1 0 -12.2 0M510.5 299.1a6.1 6.1 0 1 0 12.2 0a6.1 6.1 0 1 0 -12.2 0M510.9 303.7a6.1 6.1 0 1 0 12.2 0a6.1 6.1 0 1 0 -12.2 0M512.4 300.1a6.1 6.1 0 1 0 12.2 0a6.1 6.1 0 1 0 -12.2 0M512.0 303.4a6.1 6.1 0 1 0 12.2 0a6.1 6.1 0 1 0 -12.2 0M513.5 299.0a6.1 6.1 0 1 0 12.2 0a6.1 6.1 0 1 0 -12.2 0M513.1 304.2a6.1 6.1 0 1 0 12.2 0a6.1 6.1 0 1 0 -12.2 0M446.9 307.7a6.1 6.1 0 1 0 12.2 0a6.1 6.1 0 1 0 -12.2 0M434.9 306.5a6.1 6.1 0 1 0 12.2 0a6.1 6.1 0 1 0 -12.2 0M463.9 305.5a6.1 6.1 0 1 0 12.2 0a6.1 6.1 0 1 0 -12.2 0M481.9 306.0a6.1 6.1 0 1 0 12.2 0a6.1 6.1 0 1 0 -12.2 0M388.9 300.0a6.1 6.1 0 1 0 12.2 0a6.1 6.1 0 1 0 -12.2 0M373.9 296.0a6.1 6.1 0 1 0 12.2 0a6.1 6.1 0 1 0 -12.2 0M398.9 296.5a6.1 6.1 0 1 0 12.2 0a6.1 6.1 0 1 0 -12.2 0M413.9 296.5a6.1 6.1 0 1 0 12.2 0a6.1 6.1 0 1 0 -12.2 0" stroke="#000" stroke-width="1.9" fill="none"/>
<path d="M892.8 241.0a6.1 6.1 0 1 0 12.2 0a6.1 6.1 0 1 0 -12.2 0M927.1 271.5a6.1 6.1 0 1 0 12.2 0a6.1 6.1 0 1 0 -12.2 0M946.4 277.0a6.1 6.1 0 1 0 12.2 0a6.1 6.1 0 1 0 -12.2 0M952.3 275.5a6.1 6.1 0 1 0 12.2 0a6.1 6.1 0 1 0 -12.2 0M956.9 277.0a6.1 6.1 0 1 0 12.2 0a6.1 6.1 0 1 0 -12.2 0M964.1 277.7a6.1 6.1 0 1 0 12.2 0a6.1 6.1 0 1 0 -12.2 0M976.0 279.2a6.1 6.1 0 1 0 12.2 0a6.1 6.1 0 1 0 -12.2 0M950.9 280.0a6.1 6.1 0 1 0 12.2 0a6.1 6.1 0 1 0 -12.2 0M1088.4 299.9a6.1 6.1 0 1 0 12.2 0a6.1 6.1 0 1 0 -12.2 0M1096.0 299.0a6.1 6.1 0 1 0 12.2 0a6.1 6.1 0 1 0 -12.2 0M968.9 282.0a6.1 6.1 0 1 0 12.2 0a6.1 6.1 0 1 0 -12.2 0M983.9 283.0a6.1 6.1 0 1 0 12.2 0a6.1 6.1 0 1 0 -12.2 0M956.4 277.4a6.1 6.1 0 1 0 12.2 0a6.1 6.1 0 1 0 -12.2 0M955.8 285.7a6.1 6.1 0 1 0 12.2 0a6.1 6.1 0 1 0 -12.2 0M958.2 277.7a6.1 6.1 0 1 0 12.2 0a6.1 6.1 0 1 0 -12.2 0M958.8 285.6a6.1 6.1 0 1 0 12.2 0a6.1 6.1 0 1 0 -12.2 0M961.0 278.5a6.1 6.1 0 1 0 12.2 0a6.1 6.1 0 1 0 -12.2 0M961.7 286.8a6.1 6.1 0 1 0 12.2 0a6.1 6.1 0 1 0 -12.2 0M959.1 279.7a6.1 6.1 0 1 0 12.2 0a6.1 6.1 0 1 0 -12.2 0M964.7 279.6a6.1 6.1 0 1 0 12.2 0a6.1 6.1 0 1 0 -12.2 0M963.9 288.2a6.1 6.1 0 1 0 12.2 0a6.1 6.1 0 1 0 -12.2 0M961.6 282.5a6.1 6.1 0 1 0 12.2 0a6.1 6.1 0 1 0 -12.2 0M967.5 280.2a6.1 6.1 0 1 0 12.2 0a6.1 6.1 0 1 0 -12.2 0M966.8 289.0a6.1 6.1 0 1 0 12.2 0a6.1 6.1 0 1 0 -12.2 0M967.6 287.0a6.1 6.1 0 1 0 12.2 0a6.1 6.1 0 1 0 -12.2 0M970.4 280.2a6.1 6.1 0 1 0 12.2 0a6.1 6.1 0 1 0 -12.2 0M970.1 289.2a6.1 6.1 0 1 0 12.2 0a6.1 6.1 0 1 0 -12.2 0M972.4 287.2a6.1 6.1 0 1 0 12.2 0a6.1 6.1 0 1 0 -12.2 0M973.0 281.4a6.1 6.1 0 1 0 12.2 0a6.1 6.1 0 1 0 -12.2 0M973.3 289.4a6.1 6.1 0 1 0 12.2 0a6.1 6.1 0 1 0 -12.2 0M971.0 287.4a6.1 6.1 0 1 0 12.2 0a6.1 6.1 0 1 0 -12.2 0M975.8 281.3a6.1 6.1 0 1 0 12.2 0a6.1 6.1 0 1 0 -12.2 0M975.5 290.5a6.1 6.1 0 1 0 12.2 0a6.1 6.1 0 1 0 -12.2 0M977.6 288.6a6.1 6.1 0 1 0 12.2 0a6.1 6.1 0 1 0 -12.2 0M978.4 281.4a6.1 6.1 0 1 0 12.2 0a6.1 6.1 0 1 0 -12.2 0M978.7 291.4a6.1 6.1 0 1 0 12.2 0a6.1 6.1 0 1 0 -12.2 0M976.6 285.1a6.1 6.1 0 1 0 12.2 0a6.1 6.1 0 1 0 -12.2 0M981.3 282.3a6.1 6.1 0 1 0 12.2 0a6.1 6.1 0 1 0 -12.2 0M980.6 292.0a6.1 6.1 0 1 0 12.2 0a6.1 6.1 0 1 0 -12.2 0M983.3 289.8a6.1 6.1 0 1 0 12.2 0a6.1 6.1 0 1 0 -12.2 0M984.5 284.2a6.1 6.1 0 1 0 12.2 0a6.1 6.1 0 1 0 -12.2 0M984.0 293.2a6.1 6.1 0 1 0 12.2 0a6.1 6.1 0 1 0 -12.2 0M984.0 289.0a6.1 6.1 0 1 0 12.2 0a6.1 6.1 0 1 0 -12.2 0M987.1 285.9a6.1 6.1 0 1 0 12.2 0a6.1 6.1 0 1 0 -12.2 0M986.6 294.2a6.1 6.1 0 1 0 12.2 0a6.1 6.1 0 1 0 -12.2 0M985.6 287.9a6.1 6.1 0 1 0 12.2 0a6.1 6.1 0 1 0 -12.2 0M989.5 286.2a6.1 6.1 0 1 0 12.2 0a6.1 6.1 0 1 0 -12.2 0M989.6 295.7a6.1 6.1 0 1 0 12.2 0a6.1 6.1 0 1 0 -12.2 0M987.6 291.6a6.1 6.1 0 1 0 12.2 0a6.1 6.1 0 1 0 -12.2 0M992.9 287.5a6.1 6.1 0 1 0 12.2 0a6.1 6.1 0 1 0 -12.2 0M992.4 295.4a6.1 6.1 0 1 0 12.2 0a6.1 6.1 0 1 0 -12.2 0M991.8 294.9a6.1 6.1 0 1 0 12.2 0a6.1 6.1 0 1 0 -12.2 0M994.4 287.9a6.1 6.1 0 1 0 12.2 0a6.1 6.1 0 1 0 -12.2 0M994.4 297.0a6.1 6.1 0 1 0 12.2 0a6.1 6.1 0 1 0 -12.2 0M995.4 291.0a6.1 6.1 0 1 0 12.2 0a6.1 6.1 0 1 0 -12.2 0M996.1 288.7a6.1 6.1 0 1 0 12.2 0a6.1 6.1 0 1 0 -12.2 0M995.9 297.6a6.1 6.1 0 1 0 12.2 0a6.1 6.1 0 1 0 -12.2 0M996.0 291.3a6.1 6.1 0 1 0 12.2 0a6.1 6.1 0 1 0 -12.2 0M998.2 288.2a6.1 6.1 0 1 0 12.2 0a6.1 6.1 0 1 0 -12.2 0M998.1 297.9a6.1 6.1 0 1 0 12.2 0a6.1 6.1 0 1 0 -12.2 0M996.2 290.6a6.1 6.1 0 1 0 12.2 0a6.1 6.1 0 1 0 -12.2 0M1000.2 290.2a6.1 6.1 0 1 0 12.2 0a6.1 6.1 0 1 0 -12.2 0M1000.6 298.6a6.1 6.1 0 1 0 12.2 0a6.1 6.1 0 1 0 -12.2 0M1002.7 292.1a6.1 6.1 0 1 0 12.2 0a6.1 6.1 0 1 0 -12.2 0M1002.7 290.6a6.1 6.1 0 1 0 12.2 0a6.1 6.1 0 1 0 -12.2 0M1002.9 299.7a6.1 6.1 0 1 0 12.2 0a6.1 6.1 0 1 0 -12.2 0M1003.9 294.9a6.1 6.1 0 1 0 12.2 0a6.1 6.1 0 1 0 -12.2 0M1005.2 290.8a6.1 6.1 0 1 0 12.2 0a6.1 6.1 0 1 0 -12.2 0M1005.5 301.1a6.1 6.1 0 1 0 12.2 0a6.1 6.1 0 1 0 -12.2 0M1003.1 292.4a6.1 6.1 0 1 0 12.2 0a6.1 6.1 0 1 0 -12.2 0M1007.7 291.0a6.1 6.1 0 1 0 12.2 0a6.1 6.1 0 1 0 -12.2 0M1006.5 301.2a6.1 6.1 0 1 0 12.2 0a6.1 6.1 0 1 0 -12.2 0M1007.0 300.9a6.1 6.1 0 1 0 12.2 0a6.1 6.1 0 1 0 -12.2 0M1009.2 292.6a6.1 6.1 0 1 0 12.2 0a6.1 6.1 0 1 0 -12.2 0M1009.7 301.8a6.1 6.1 0 1 0 12.2 0a6.1 6.1 0 1 0 -12.2 0M1009.8 302.2a6.1 6.1 0 1 0 12.2 0a6.1 6.1 0 1 0 -12.2 0M1011.6 293.0a6.1 6.1 0 1 0 12.2 0a6.1 6.1 0 1 0 -12.2 0M1011.3 303.6a6.1 6.1 0 1 0 12.2 0a6.1 6.1 0 1 0 -12.2 0M1013.6 294.2a6.1 6.1 0 1 0 12.2 0a6.1 6.1 0 1 0 -12.2 0M1013.8 293.6a6.1 6.1 0 1 0 12.2 0a6.1 6.1 0 1 0 -12.2 0M1013.9 302.3a6.1 6.1 0 1 0 12.2 0a6.1 6.1 0 1 0 -12.2 0M1012.7 296.5a6.1 6.1 0 1 0 12.2 0a6.1 6.1 0 1 0 -12.2 0M1015.9 295.1a6.1 6.1 0 1 0 12.2 0a6.1 6.1 0 1 0 -12.2 0M1016.3 303.6a6.1 6.1 0 1 0 12.2 0a6.1 6.1 0 1 0 -12.2 0M1016.7 295.6a6.1 6.1 0 1 0 12.2 0a6.1 6.1 0 1 0 -12.2 0M1018.0 295.8a6.1 6.1 0 1 0 12.2 0a6.1 6.1 0 1 0 -12.2 0M1017.9 303.2a6.1 6.1 0 1 0 12.2 0a6.1 6.1 0 1 0 -12.2 0M1019.9 296.6a6.1 6.1 0 1 0 12.2 0a6.1 6.1 0 1 0 -12.2 0M1020.7 295.3a6.1 6.1 0 1 0 12.2 0a6.1 6.1 0 1 0 -12.2 0M1020.2 303.9a6.1 6.1 0 1 0 12.2 0a6.1 6.1 0 1 0 -12.2 0M1019.0 299.7a6.1 6.1 0 1 0 12.2 0a6.1 6.1 0 1 0 -12.2 0M1022.4 297.2a6.1 6.1 0 1 0 12.2 0a6.1 6.1 0 1 0 -12.2 0M1023.1 302.6a6.1 6.1 0 1 0 12.2 0a6.1 6.1 0 1 0 -12.2 0M1022.5 302.0a6.1 6.1 0 1 0 12.2 0a6.1 6.1 0 1 0 -12.2 0M1024.8 296.5a6.1 6.1 0 1 0 12.2 0a6.1 6.1 0 1 0 -12.2 0M1025.0 302.4a6.1 6.1 0 1 0 12.2 0a6.1 6.1 0 1 0 -12.2 0M1026.9 296.6a6.1 6.1 0 1 0 12.2 0a6.1 6.1 0 1 0 -12.2 0M1027.5 302.8a6.1 6.1 0 1 0 12.2 0a6.1 6.1 0 1 0 -12.2 0M1029.6 298.4a6.1 6.1 0 1 0 12.2 0a6.1 6.1 0 1 0 -12.2 0M1028.8 302.4a6.1 6.1 0 1 0 12.2 0a6.1 6.1 0 1 0 -12.2 0M1031.2 298.2a6.1 6.1 0 1 0 12.2 0a6.1 6.1 0 1 0 -12.2 0M1031.7 301.7a6.1 6.1 0 1 0 12.2 0a6.1 6.1 0 1 0 -12.2 0M1033.2 298.2a6.1 6.1 0 1 0 12.2 0a6.1 6.1 0 1 0 -12.2 0M1033.4 301.3a6.1 6.1 0 1 0 12.2 0a6.1 6.1 0 1 0 -12.2 0M1035.3 298.1a6.1 6.1 0 1 0 12.2 0a6.1 6.1 0 1 0 -12.2 0M1035.8 302.6a6.1 6.1 0 1 0 12.2 0a6.1 6.1 0 1 0 -12.2 0M1037.9 298.4a6.1 6.1 0 1 0 12.2 0a6.1 6.1 0 1 0 -12.2 0M1037.5 301.5a6.1 6.1 0 1 0 12.2 0a6.1 6.1 0 1 0 -12.2 0M1039.8 298.7a6.1 6.1 0 1 0 12.2 0a6.1 6.1 0 1 0 -12.2 0M1039.8 301.0a6.1 6.1 0 1 0 12.2 0a6.1 6.1 0 1 0 -12.2 0M1042.1 298.4a6.1 6.1 0 1 0 12.2 0a6.1 6.1 0 1 0 -12.2 0M1042.1 301.6a6.1 6.1 0 1 0 12.2 0a6.1 6.1 0 1 0 -12.2 0M1044.1 299.2a6.1 6.1 0 1 0 12.2 0a6.1 6.1 0 1 0 -12.2 0M1044.7 301.4a6.1 6.1 0 1 0 12.2 0a6.1 6.1 0 1 0 -12.2 0M1046.2 298.3a6.1 6.1 0 1 0 12.2 0a6.1 6.1 0 1 0 -12.2 0M1046.9 301.5a6.1 6.1 0 1 0 12.2 0a6.1 6.1 0 1 0 -12.2 0M1049.3 299.3a6.1 6.1 0 1 0 12.2 0a6.1 6.1 0 1 0 -12.2 0M1048.7 301.1a6.1 6.1 0 1 0 12.2 0a6.1 6.1 0 1 0 -12.2 0M1050.9 297.9a6.1 6.1 0 1 0 12.2 0a6.1 6.1 0 1 0 -12.2 0M1050.7 300.6a6.1 6.1 0 1 0 12.2 0a6.1 6.1 0 1 0 -12.2 0M1052.8 298.7a6.1 6.1 0 1 0 12.2 0a6.1 6.1 0 1 0 -12.2 0M1053.5 301.1a6.1 6.1 0 1 0 12.2 0a6.1 6.1 0 1 0 -12.2 0M1055.7 298.2a6.1 6.1 0 1 0 12.2 0a6.1 6.1 0 1 0 -12.2 0M1055.1 301.1a6.1 6.1 0 1 0 12.2 0a6.1 6.1 0 1 0 -12.2 0M1058.2 298.5a6.1 6.1 0 1 0 12.2 0a6.1 6.1 0 1 0 -12.2 0M1057.1 300.1a6.1 6.1 0 1 0 12.2 0a6.1 6.1 0 1 0 -12.2 0M1059.7 298.9a6.1 6.1 0 1 0 12.2 0a6.1 6.1 0 1 0 -12.2 0M1059.4 300.4a6.1 6.1 0 1 0 12.2 0a6.1 6.1 0 1 0 -12.2 0M1062.3 299.6a6.1 6.1 0 1 0 12.2 0a6.1 6.1 0 1 0 -12.2 0M1061.9 301.1a6.1 6.1 0 1 0 12.2 0a6.1 6.1 0 1 0 -12.2 0M1064.3 297.9a6.1 6.1 0 1 0 12.2 0a6.1 6.1 0 1 0 -12.2 0M1064.1 300.2a6.1 6.1 0 1 0 12.2 0a6.1 6.1 0 1 0 -12.2 0M1066.2 299.2a6.1 6.1 0 1 0 12.2 0a6.1 6.1 0 1 0 -12.2 0M1066.7 300.0a6.1 6.1 0 1 0 12.2 0a6.1 6.1 0 1 0 -12.2 0M1068.2 299.2a6.1 6.1 0 1 0 12.2 0a6.1 6.1 0 1 0 -12.2 0M1068.2 300.5a6.1 6.1 0 1 0 12.2 0a6.1 6.1 0 1 0 -12.2 0M1070.6 298.0a6.1 6.1 0 1 0 12.2 0a6.1 6.1 0 1 0 -12.2 0M1070.3 300.2a6.1 6.1 0 1 0 12.2 0a6.1 6.1 0 1 0 -12.2 0M1073.0 299.6a6.1 6.1 0 1 0 12.2 0a6.1 6.1 0 1 0 -12.2 0M1073.3 300.4a6.1 6.1 0 1 0 12.2 0a6.1 6.1 0 1 0 -12.2 0M1075.5 298.4a6.1 6.1 0 1 0 12.2 0a6.1 6.1 0 1 0 -12.2 0M1075.3 300.5a6.1 6.1 0 1 0 12.2 0a6.1 6.1 0 1 0 -12.2 0M1078.0 298.6a6.1 6.1 0 1 0 12.2 0a6.1 6.1 0 1 0 -12.2 0M1077.9 301.1a6.1 6.1 0 1 0 12.2 0a6.1 6.1 0 1 0 -12.2 0M1080.1 299.1a6.1 6.1 0 1 0 12.2 0a6.1 6.1 0 1 0 -12.2 0M1080.1 300.6a6.1 6.1 0 1 0 12.2 0a6.1 6.1 0 1 0 -12.2 0M1082.1 299.1a6.1 6.1 0 1 0 12.2 0a6.1 6.1 0 1 0 -12.2 0M1081.9 300.9a6.1 6.1 0 1 0 12.2 0a6.1 6.1 0 1 0 -12.2 0M1084.1 298.7a6.1 6.1 0 1 0 12.2 0a6.1 6.1 0 1 0 -12.2 0M1084.6 301.0a6.1 6.1 0 1 0 12.2 0a6.1 6.1 0 1 0 -12.2 0M1086.4 298.1a6.1 6.1 0 1 0 12.2 0a6.1 6.1 0 1 0 -12.2 0M1086.3 300.2a6.1 6.1 0 1 0 12.2 0a6.1 6.1 0 1 0 -12.2 0M1088.2 298.8a6.1 6.1 0 1 0 12.2 0a6.1 6.1 0 1 0 -12.2 0M1088.6 300.3a6.1 6.1 0 1 0 12.2 0a6.1 6.1 0 1 0 -12.2 0M1090.4 299.0a6.1 6.1 0 1 0 12.2 0a6.1 6.1 0 1 0 -12.2 0M1090.7 300.6a6.1 6.1 0 1 0 12.2 0a6.1 6.1 0 1 0 -12.2 0" stroke="#000" stroke-width="1.9" fill="none"/>
<path d="M1482.5 279.9a6.1 6.1 0 1 0 12.2 0a6.1 6.1 0 1 0 -12.2 0M1488.8 307.8a6.1 6.1 0 1 0 12.2 0a6.1 6.1 0 1 0 -12.2 0M1514.2 288.6a6.1 6.1 0 1 0 12.2 0a6.1 6.1 0 1 0 -12.2 0M1516.7 292.3a6.1 6.1 0 1 0 12.2 0a6.1 6.1 0 1 0 -12.2 0M1509.3 301.0a6.1 6.1 0 1 0 12.2 0a6.1 6.1 0 1 0 -12.2 0M1531.7 289.8a6.1 6.1 0 1 0 12.2 0a6.1 6.1 0 1 0 -12.2 0M1540.4 291.0a6.1 6.1 0 1 0 12.2 0a6.1 6.1 0 1 0 -12.2 0M1539.1 304.7a6.1 6.1 0 1 0 12.2 0a6.1 6.1 0 1 0 -12.2 0M1521.9 295.0a6.1 6.1 0 1 0 12.2 0a6.1 6.1 0 1 0 -12.2 0M1526.9 291.0a6.1 6.1 0 1 0 12.2 0a6.1 6.1 0 1 0 -12.2 0M1697.5 301.4a6.1 6.1 0 1 0 12.2 0a6.1 6.1 0 1 0 -12.2 0M1693.9 299.0a6.1 6.1 0 1 0 12.2 0a6.1 6.1 0 1 0 -12.2 0M1543.9 303.0a6.1 6.1 0 1 0 12.2 0a6.1 6.1 0 1 0 -12.2 0M1551.9 298.0a6.1 6.1 0 1 0 12.2 0a6.1 6.1 0 1 0 -12.2 0M1547.2 293.1a6.1 6.1 0 1 0 12.2 0a6.1 6.1 0 1 0 -12.2 0M1547.3 303.4a6.1 6.1 0 1 0 12.2 0a6.1 6.1 0 1 0 -12.2 0M1545.4 303.2a6.1 6.1 0 1 0 12.2 0a6.1 6.1 0 1 0 -12.2 0M1549.5 293.9a6.1 6.1 0 1 0 12.2 0a6.1 6.1 0 1 0 -12.2 0M1548.5 303.5a6.1 6.1 0 1 0 12.2 0a6.1 6.1 0 1 0 -12.2 0M1549.7 300.7a6.1 6.1 0 1 0 12.2 0a6.1 6.1 0 1 0 -12.2 0M1551.8 293.3a6.1 6.1 0 1 0 12.2 0a6.1 6.1 0 1 0 -12.2 0M1551.2 302.7a6.1 6.1 0 1 0 12.2 0a6.1 6.1 0 1 0 -12.2 0M1552.6 303.1a6.1 6.1 0 1 0 12.2 0a6.1 6.1 0 1 0 -12.2 0M1554.0 293.6a6.1 6.1 0 1 0 12.2 0a6.1 6.1 0 1 0 -12.2 0M1553.3 303.0a6.1 6.1 0 1 0 12.2 0a6.1 6.1 0 1 0 -12.2 0M1554.7 302.6a6.1 6.1 0 1 0 12.2 0a6.1 6.1 0 1 0 -12.2 0M1556.3 292.9a6.1 6.1 0 1 0 12.2 0a6.1 6.1 0 1 0 -12.2 0M1555.8 303.4a6.1 6.1 0 1 0 12.2 0a6.1 6.1 0 1 0 -12.2 0M1555.4 301.2a6.1 6.1 0 1 0 12.2 0a6.1 6.1 0 1 0 -12.2 0M1558.4 294.0a6.1 6.1 0 1 0 12.2 0a6.1 6.1 0 1 0 -12.2 0M1558.1 303.7a6.1 6.1 0 1 0 12.2 0a6.1 6.1 0 1 0 -12.2 0M1558.6 298.8a6.1 6.1 0 1 0 12.2 0a6.1 6.1 0 1 0 -12.2 0M1559.8 294.2a6.1 6.1 0 1 0 12.2 0a6.1 6.1 0 1 0 -12.2 0M1559.6 303.5a6.1 6.1 0 1 0 12.2 0a6.1 6.1 0 1 0 -12.2 0M1559.6 299.0a6.1 6.1 0 1 0 12.2 0a6.1 6.1 0 1 0 -12.2 0M1562.5 293.8a6.1 6.1 0 1 0 12.2 0a6.1 6.1 0 1 0 -12.2 0M1562.9 303.2a6.1 6.1 0 1 0 12.2 0a6.1 6.1 0 1 0 -12.2 0M1560.2 303.0a6.1 6.1 0 1 0 12.2 0a6.1 6.1 0 1 0 -12.2 0M1564.3 293.6a6.1 6.1 0 1 0 12.2 0a6.1 6.1 0 1 0 -12.2 0M1564.4 304.2a6.1 6.1 0 1 0 12.2 0a6.1 6.1 0 1 0 -12.2 0M1566.6 301.0a6.1 6.1 0 1 0 12.2 0a6.1 6.1 0 1 0 -12.2 0M1566.5 294.2a6.1 6.1 0 1 0 12.2 0a6.1 6.1 0 1 0 -12.2 0M1566.6 304.5a6.1 6.1 0 1 0 12.2 0a6.1 6.1 0 1 0 -12.2 0M1566.3 296.1a6.1 6.1 0 1 0 12.2 0a6.1 6.1 0 1 0 -12.2 0M1568.8 294.1a6.1 6.1 0 1 0 12.2 0a6.1 6.1 0 1 0 -12.2 0M1568.5 305.4a6.1 6.1 0 1 0 12.2 0a6.1 6.1 0 1 0 -12.2 0M1568.3 296.1a6.1 6.1 0 1 0 12.2 0a6.1 6.1 0 1 0 -12.2 0M1571.2 295.0a6.1 6.1 0 1 0 12.2 0a6.1 6.1 0 1 0 -12.2 0M1571.4 305.5a6.1 6.1 0 1 0 12.2 0a6.1 6.1 0 1 0 -12.2 0M1572.1 298.1a6.1 6.1 0 1 0 12.2 0a6.1 6.1 0 1 0 -12.2 0M1572.9 294.1a6.1 6.1 0 1 0 12.2 0a6.1 6.1 0 1 0 -12.2 0M1573.1 305.3a6.1 6.1 0 1 0 12.2 0a6.1 6.1 0 1 0 -12.2 0M1573.2 296.4a6.1 6.1 0 1 0 12.2 0a6.1 6.1 0 1 0 -12.2 0M1575.1 294.2a6.1 6.1 0 1 0 12.2 0a6.1 6.1 0 1 0 -12.2 0M1575.1 306.6a6.1 6.1 0 1 0 12.2 0a6.1 6.1 0 1 0 -12.2 0M1575.7 297.1a6.1 6.1 0 1 0 12.2 0a6.1 6.1 0 1 0 -12.2 0M1577.6 295.5a6.1 6.1 0 1 0 12.2 0a6.1 6.1 0 1 0 -12.2 0M1577.8 306.5a6.1 6.1 0 1 0 12.2 0a6.1 6.1 0 1 0 -12.2 0M1577.2 297.3a6.1 6.1 0 1 0 12.2 0a6.1 6.1 0 1 0 -12.2 0M1580.1 294.3a6.1 6.1 0 1 0 12.2 0a6.1 6.1 0 1 0 -12.2 0M1580.2 305.9a6.1 6.1 0 1 0 12.2 0a6.1 6.1 0 1 0 -12.2 0M1581.0 299.6a6.1 6.1 0 1 0 12.2 0a6.1 6.1 0 1 0 -12.2 0M1582.3 295.5a6.1 6.1 0 1 0 12.2 0a6.1 6.1 0 1 0 -12.2 0M1581.7 306.7a6.1 6.1 0 1 0 12.2 0a6.1 6.1 0 1 0 -12.2 0M1580.2 298.2a6.1 6.1 0 1 0 12.2 0a6.1 6.1 0 1 0 -12.2 0M1584.2 295.2a6.1 6.1 0 1 0 12.2 0a6.1 6.1 0 1 0 -12.2 0M1584.5 307.5a6.1 6.1 0 1 0 12.2 0a6.1 6.1 0 1 0 -12.2 0M1583.7 304.7a6.1 6.1 0 1 0 12.2 0a6.1 6.1 0 1 0 -12.2 0M1586.2 296.3a6.1 6.1 0 1 0 12.2 0a6.1 6.1 0 1 0 -12.2 0M1586.3 306.7a6.1 6.1 0 1 0 12.2 0a6.1 6.1 0 1 0 -12.2 0M1584.7 304.6a6.1 6.1 0 1 0 12.2 0a6.1 6.1 0 1 0 -12.2 0M1588.4 296.1a6.1 6.1 0 1 0 12.2 0a6.1 6.1 0 1 0 -12.2 0M1588.4 307.2a6.1 6.1 0 1 0 12.2 0a6.1 6.1 0 1 0 -12.2 0M1589.1 302.5a6.1 6.1 0 1 0 12.2 0a6.1 6.1 0 1 0 -12.2 0M1591.2 296.0a6.1 6.1 0 1 0 12.2 0a6.1 6.1 0 1 0 -12.2 0M1590.4 307.2a6.1 6.1 0 1 0 12.2 0a6.1 6.1 0 1 0 -12.2 0M1590.1 304.5a6.1 6.1 0 1 0 12.2 0a6.1 6.1 0 1 0 -12.2 0M1593.6 296.9a6.1 6.1 0 1 0 12.2 0a6.1 6.1 0 1 0 -12.2 0M1592.6 307.3a6.1 6.1 0 1 0 12.2 0a6.1 6.1 0 1 0 -12.2 0M1593.7 299.3a6.1 6.1 0 1 0 12.2 0a6.1 6.1 0 1 0 -12.2 0M1594.9 297.0a6.1 6.1 0 1 0 12.2 0a6.1 6.1 0 1 0 -12.2 0M1594.8 307.4a6.1 6.1 0 1 0 12.2 0a6.1 6.1 0 1 0 -12.2 0M1596.2 304.7a6.1 6.1 0 1 0 12.2 0a6.1 6.1 0 1 0 -12.2 0M1597.4 298.2a6.1 6.1 0 1 0 12.2 0a6.1 6.1 0 1 0 -12.2 0M1597.1 307.0a6.1 6.1 0 1 0 12.2 0a6.1 6.1 0 1 0 -12.2 0M1596.4 297.7a6.1 6.1 0 1 0 12.2 0a6.1 6.1 0 1 0 -12.2 0M1599.2 297.3a6.1 6.1 0 1 0 12.2 0a6.1 6.1 0 1 0 -12.2 0M1600.0 306.4a6.1 6.1 0 1 0 12.2 0a6.1 6.1 0 1 0 -12.2 0M1599.6 303.2a6.1 6.1 0 1 0 12.2 0a6.1 6.1 0 1 0 -12.2 0M1601.6 298.4a6.1 6.1 0 1 0 12.2 0a6.1 6.1 0 1 0 -12.2 0M1602.1 307.4a6.1 6.1 0 1 0 12.2 0a6.1 6.1 0 1 0 -12.2 0M1601.9 305.2a6.1 6.1 0 1 0 12.2 0a6.1 6.1 0 1 0 -12.2 0M1604.7 299.1a6.1 6.1 0 1 0 12.2 0a6.1 6.1 0 1 0 -12.2 0M1604.0 306.2a6.1 6.1 0 1 0 12.2 0a6.1 6.1 0 1 0 -12.2 0M1602.3 305.1a6.1 6.1 0 1 0 12.2 0a6.1 6.1 0 1 0 -12.2 0M1605.9 299.1a6.1 6.1 0 1 0 12.2 0a6.1 6.1 0 1 0 -12.2 0M1606.2 305.8a6.1 6.1 0 1 0 12.2 0a6.1 6.1 0 1 0 -12.2 0M1605.0 305.1a6.1 6.1 0 1 0 12.2 0a6.1 6.1 0 1 0 -12.2 0M1608.5 300.1a6.1 6.1 0 1 0 12.2 0a6.1 6.1 0 1 0 -12.2 0M1609.0 305.7a6.1 6.1 0 1 0 12.2 0a6.1 6.1 0 1 0 -12.2 0M1609.3 300.0a6.1 6.1 0 1 0 12.2 0a6.1 6.1 0 1 0 -12.2 0M1610.6 299.4a6.1 6.1 0 1 0 12.2 0a6.1 6.1 0 1 0 -12.2 0M1611.2 306.4a6.1 6.1 0 1 0 12.2 0a6.1 6.1 0 1 0 -12.2 0M1609.3 302.9a6.1 6.1 0 1 0 12.2 0a6.1 6.1 0 1 0 -12.2 0M1612.9 298.9a6.1 6.1 0 1 0 12.2 0a6.1 6.1 0 1 0 -12.2 0M1612.7 306.7a6.1 6.1 0 1 0 12.2 0a6.1 6.1 0 1 0 -12.2 0M1615.0 304.4a6.1 6.1 0 1 0 12.2 0a6.1 6.1 0 1 0 -12.2 0M1614.6 300.2a6.1 6.1 0 1 0 12.2 0a6.1 6.1 0 1 0 -12.2 0M1615.1 306.4a6.1 6.1 0 1 0 12.2 0a6.1 6.1 0 1 0 -12.2 0M1613.7 300.6a6.1 6.1 0 1 0 12.2 0a6.1 6.1 0 1 0 -12.2 0M1617.8 299.1a6.1 6.1 0 1 0 12.2 0a6.1 6.1 0 1 0 -12.2 0M1616.8 305.6a6.1 6.1 0 1 0 12.2 0a6.1 6.1 0 1 0 -12.2 0M1620.1 300.1a6.1 6.1 0 1 0 12.2 0a6.1 6.1 0 1 0 -12.2 0M1619.4 306.3a6.1 6.1 0 1 0 12.2 0a6.1 6.1 0 1 0 -12.2 0M1622.1 300.1a6.1 6.1 0 1 0 12.2 0a6.1 6.1 0 1 0 -12.2 0M1621.9 305.0a6.1 6.1 0 1 0 12.2 0a6.1 6.1 0 1 0 -12.2 0M1624.4 299.5a6.1 6.1 0 1 0 12.2 0a6.1 6.1 0 1 0 -12.2 0M1624.4 305.0a6.1 6.1 0 1 0 12.2 0a6.1 6.1 0 1 0 -12.2 0M1626.6 299.5a6.1 6.1 0 1 0 12.2 0a6.1 6.1 0 1 0 -12.2 0M1626.0 304.6a6.1 6.1 0 1 0 12.2 0a6.1 6.1 0 1 0 -12.2 0M1628.1 298.9a6.1 6.1 0 1 0 12.2 0a6.1 6.1 0 1 0 -12.2 0M1628.4 304.6a6.1 6.1 0 1 0 12.2 0a6.1 6.1 0 1 0 -12.2 0M1630.2 300.2a6.1 6.1 0 1 0 12.2 0a6.1 6.1 0 1 0 -12.2 0M1630.8 304.0a6.1 6.1 0 1 0 12.2 0a6.1 6.1 0 1 0 -12.2 0M1632.6 300.4a6.1 6.1 0 1 0 12.2 0a6.1 6.1 0 1 0 -12.2 0M1633.0 303.2a6.1 6.1 0 1 0 12.2 0a6.1 6.1 0 1 0 -12.2 0M1634.4 299.7a6.1 6.1 0 1 0 12.2 0a6.1 6.1 0 1 0 -12.2 0M1634.3 303.3a6.1 6.1 0 1 0 12.2 0a6.1 6.1 0 1 0 -12.2 0M1636.9 299.3a6.1 6.1 0 1 0 12.2 0a6.1 6.1 0 1 0 -12.2 0M1637.2 302.4a6.1 6.1 0 1 0 12.2 0a6.1 6.1 0 1 0 -12.2 0M1639.4 299.5a6.1 6.1 0 1 0 12.2 0a6.1 6.1 0 1 0 -12.2 0M1639.5 302.4a6.1 6.1 0 1 0 12.2 0a6.1 6.1 0 1 0 -12.2 0M1641.4 299.6a6.1 6.1 0 1 0 12.2 0a6.1 6.1 0 1 0 -12.2 0M1641.9 300.9a6.1 6.1 0 1 0 12.2 0a6.1 6.1 0 1 0 -12.2 0M1643.3 299.3a6.1 6.1 0 1 0 12.2 0a6.1 6.1 0 1 0 -12.2 0M1643.4 302.5a6.1 6.1 0 1 0 12.2 0a6.1 6.1 0 1 0 -12.2 0M1645.5 298.9a6.1 6.1 0 1 0 12.2 0a6.1 6.1 0 1 0 -12.2 0M1645.7 301.8a6.1 6.1 0 1 0 12.2 0a6.1 6.1 0 1 0 -12.2 0M1648.5 300.5a6.1 6.1 0 1 0 12.2 0a6.1 6.1 0 1 0 -12.2 0M1648.5 302.0a6.1 6.1 0 1 0 12.2 0a6.1 6.1 0 1 0 -12.2 0M1649.7 298.8a6.1 6.1 0 1 0 12.2 0a6.1 6.1 0 1 0 -12.2 0M1650.5 302.4a6.1 6.1 0 1 0 12.2 0a6.1 6.1 0 1 0 -12.2 0M1652.2 300.4a6.1 6.1 0 1 0 12.2 0a6.1 6.1 0 1 0 -12.2 0M1652.6 302.0a6.1 6.1 0 1 0 12.2 0a6.1 6.1 0 1 0 -12.2 0M1654.8 298.8a6.1 6.1 0 1 0 12.2 0a6.1 6.1 0 1 0 -12.2 0M1654.3 302.7a6.1 6.1 0 1 0 12.2 0a6.1 6.1 0 1 0 -12.2 0M1656.6 298.9a6.1 6.1 0 1 0 12.2 0a6.1 6.1 0 1 0 -12.2 0M1656.6 302.3a6.1 6.1 0 1 0 12.2 0a6.1 6.1 0 1 0 -12.2 0M1658.8 299.1a6.1 6.1 0 1 0 12.2 0a6.1 6.1 0 1 0 -12.2 0M1658.8 301.9a6.1 6.1 0 1 0 12.2 0a6.1 6.1 0 1 0 -12.2 0M1661.6 299.3a6.1 6.1 0 1 0 12.2 0a6.1 6.1 0 1 0 -12.2 0M1661.7 302.8a6.1 6.1 0 1 0 12.2 0a6.1 6.1 0 1 0 -12.2 0M1663.9 298.9a6.1 6.1 0 1 0 12.2 0a6.1 6.1 0 1 0 -12.2 0M1663.3 302.7a6.1 6.1 0 1 0 12.2 0a6.1 6.1 0 1 0 -12.2 0M1666.1 299.0a6.1 6.1 0 1 0 12.2 0a6.1 6.1 0 1 0 -12.2 0M1665.6 301.7a6.1 6.1 0 1 0 12.2 0a6.1 6.1 0 1 0 -12.2 0M1668.2 298.8a6.1 6.1 0 1 0 12.2 0a6.1 6.1 0 1 0 -12.2 0M1667.7 302.4a6.1 6.1 0 1 0 12.2 0a6.1 6.1 0 1 0 -12.2 0M1670.6 298.8a6.1 6.1 0 1 0 12.2 0a6.1 6.1 0 1 0 -12.2 0M1670.2 302.3a6.1 6.1 0 1 0 12.2 0a6.1 6.1 0 1 0 -12.2 0M1672.7 299.5a6.1 6.1 0 1 0 12.2 0a6.1 6.1 0 1 0 -12.2 0M1672.9 301.5a6.1 6.1 0 1 0 12.2 0a6.1 6.1 0 1 0 -12.2 0M1674.0 299.0a6.1 6.1 0 1 0 12.2 0a6.1 6.1 0 1 0 -12.2 0M1674.6 301.5a6.1 6.1 0 1 0 12.2 0a6.1 6.1 0 1 0 -12.2 0M1676.4 299.1a6.1 6.1 0 1 0 12.2 0a6.1 6.1 0 1 0 -12.2 0M1676.2 303.3a6.1 6.1 0 1 0 12.2 0a6.1 6.1 0 1 0 -12.2 0M1678.7 300.5a6.1 6.1 0 1 0 12.2 0a6.1 6.1 0 1 0 -12.2 0M1679.2 302.3a6.1 6.1 0 1 0 12.2 0a6.1 6.1 0 1 0 -12.2 0M1681.6 298.8a6.1 6.1 0 1 0 12.2 0a6.1 6.1 0 1 0 -12.2 0M1681.7 302.3a6.1 6.1 0 1 0 12.2 0a6.1 6.1 0 1 0 -12.2 0M1683.0 299.8a6.1 6.1 0 1 0 12.2 0a6.1 6.1 0 1 0 -12.2 0M1682.7 303.9a6.1 6.1 0 1 0 12.2 0a6.1 6.1 0 1 0 -12.2 0M1685.0 300.3a6.1 6.1 0 1 0 12.2 0a6.1 6.1 0 1 0 -12.2 0M1684.9 303.8a6.1 6.1 0 1 0 12.2 0a6.1 6.1 0 1 0 -12.2 0M1687.4 299.3a6.1 6.1 0 1 0 12.2 0a6.1 6.1 0 1 0 -12.2 0M1687.7 303.8a6.1 6.1 0 1 0 12.2 0a6.1 6.1 0 1 0 -12.2 0M1689.8 300.0a6.1 6.1 0 1 0 12.2 0a6.1 6.1 0 1 0 -12.2 0M1689.5 303.4a6.1 6.1 0 1 0 12.2 0a6.1 6.1 0 1 0 -12.2 0M1692.3 299.4a6.1 6.1 0 1 0 12.2 0a6.1 6.1 0 1 0 -12.2 0M1692.6 303.2a6.1 6.1 0 1 0 12.2 0a6.1 6.1 0 1 0 -12.2 0M1694.3 299.0a6.1 6.1 0 1 0 12.2 0a6.1 6.1 0 1 0 -12.2 0M1693.7 301.9a6.1 6.1 0 1 0 12.2 0a6.1 6.1 0 1 0 -12.2 0M1536.9 293.0a6.1 6.1 0 1 0 12.2 0a6.1 6.1 0 1 0 -12.2 0M1540.9 296.0a6.1 6.1 0 1 0 12.2 0a6.1 6.1 0 1 0 -12.2 0M1544.9 300.0a6.1 6.1 0 1 0 12.2 0a6.1 6.1 0 1 0 -12.2 0M1538.9 301.0a6.1 6.1 0 1 0 12.2 0a6.1 6.1 0 1 0 -12.2 0M1549.9 305.0a6.1 6.1 0 1 0 12.2 0a6.1 6.1 0 1 0 -12.2 0M1542.9 306.0a6.1 6.1 0 1 0 12.2 0a6.1 6.1 0 1 0 -12.2 0" stroke="#000" stroke-width="1.9" fill="none"/>
<path d="M309.6 794.8a6.1 6.1 0 1 0 12.2 0a6.1 6.1 0 1 0 -12.2 0M337.5 731.4a6.1 6.1 0 1 0 12.2 0a6.1 6.1 0 1 0 -12.2 0M335.2 751.2a6.1 6.1 0 1 0 12.2 0a6.1 6.1 0 1 0 -12.2 0M337.5 754.7a6.1 6.1 0 1 0 12.2 0a6.1 6.1 0 1 0 -12.2 0M340.4 755.8a6.1 6.1 0 1 0 12.2 0a6.1 6.1 0 1 0 -12.2 0M327.6 756.4a6.1 6.1 0 1 0 12.2 0a6.1 6.1 0 1 0 -12.2 0M343.9 776.2a6.1 6.1 0 1 0 12.2 0a6.1 6.1 0 1 0 -12.2 0M350.9 788.4a6.1 6.1 0 1 0 12.2 0a6.1 6.1 0 1 0 -12.2 0M350.3 794.2a6.1 6.1 0 1 0 12.2 0a6.1 6.1 0 1 0 -12.2 0M353.2 751.2a6.1 6.1 0 1 0 12.2 0a6.1 6.1 0 1 0 -12.2 0M357.9 738.4a6.1 6.1 0 1 0 12.2 0a6.1 6.1 0 1 0 -12.2 0M362.5 743.0a6.1 6.1 0 1 0 12.2 0a6.1 6.1 0 1 0 -12.2 0M359.0 767.4a6.1 6.1 0 1 0 12.2 0a6.1 6.1 0 1 0 -12.2 0M354.4 768.6a6.1 6.1 0 1 0 12.2 0a6.1 6.1 0 1 0 -12.2 0M374.1 730.2a6.1 6.1 0 1 0 12.2 0a6.1 6.1 0 1 0 -12.2 0M381.1 733.7a6.1 6.1 0 1 0 12.2 0a6.1 6.1 0 1 0 -12.2 0M373.0 738.4a6.1 6.1 0 1 0 12.2 0a6.1 6.1 0 1 0 -12.2 0M390.4 733.7a6.1 6.1 0 1 0 12.2 0a6.1 6.1 0 1 0 -12.2 0M405.1 728.5a6.1 6.1 0 1 0 12.2 0a6.1 6.1 0 1 0 -12.2 0M398.6 744.2a6.1 6.1 0 1 0 12.2 0a6.1 6.1 0 1 0 -12.2 0M378.8 752.3a6.1 6.1 0 1 0 12.2 0a6.1 6.1 0 1 0 -12.2 0M382.3 748.8a6.1 6.1 0 1 0 12.2 0a6.1 6.1 0 1 0 -12.2 0M373.0 755.8a6.1 6.1 0 1 0 12.2 0a6.1 6.1 0 1 0 -12.2 0M366.0 758.1a6.1 6.1 0 1 0 12.2 0a6.1 6.1 0 1 0 -12.2 0M384.6 787.2a6.1 6.1 0 1 0 12.2 0a6.1 6.1 0 1 0 -12.2 0M392.7 787.2a6.1 6.1 0 1 0 12.2 0a6.1 6.1 0 1 0 -12.2 0M398.6 786.0a6.1 6.1 0 1 0 12.2 0a6.1 6.1 0 1 0 -12.2 0M406.7 783.7a6.1 6.1 0 1 0 12.2 0a6.1 6.1 0 1 0 -12.2 0M368.3 774.4a6.1 6.1 0 1 0 12.2 0a6.1 6.1 0 1 0 -12.2 0M375.3 774.4a6.1 6.1 0 1 0 12.2 0a6.1 6.1 0 1 0 -12.2 0M399.6 744.7a6.1 6.1 0 1 0 12.2 0a6.1 6.1 0 1 0 -12.2 0M414.8 750.0a6.1 6.1 0 1 0 12.2 0a6.1 6.1 0 1 0 -12.2 0M430.1 751.9a6.1 6.1 0 1 0 12.2 0a6.1 6.1 0 1 0 -12.2 0M433.9 755.7a6.1 6.1 0 1 0 12.2 0a6.1 6.1 0 1 0 -12.2 0M461.5 758.5a6.1 6.1 0 1 0 12.2 0a6.1 6.1 0 1 0 -12.2 0M478.6 764.2a6.1 6.1 0 1 0 12.2 0a6.1 6.1 0 1 0 -12.2 0M461.5 789.9a6.1 6.1 0 1 0 12.2 0a6.1 6.1 0 1 0 -12.2 0M468.1 788.0a6.1 6.1 0 1 0 12.2 0a6.1 6.1 0 1 0 -12.2 0M490.9 784.2a6.1 6.1 0 1 0 12.2 0a6.1 6.1 0 1 0 -12.2 0M435.8 788.0a6.1 6.1 0 1 0 12.2 0a6.1 6.1 0 1 0 -12.2 0M518.3 774.4a6.1 6.1 0 1 0 12.2 0a6.1 6.1 0 1 0 -12.2 0M490.9 784.8a6.1 6.1 0 1 0 12.2 0a6.1 6.1 0 1 0 -12.2 0M348.9 760.0a6.1 6.1 0 1 0 12.2 0a6.1 6.1 0 1 0 -12.2 0M361.9 752.0a6.1 6.1 0 1 0 12.2 0a6.1 6.1 0 1 0 -12.2 0M385.9 745.0a6.1 6.1 0 1 0 12.2 0a6.1 6.1 0 1 0 -12.2 0M391.9 752.0a6.1 6.1 0 1 0 12.2 0a6.1 6.1 0 1 0 -12.2 0M376.9 765.0a6.1 6.1 0 1 0 12.2 0a6.1 6.1 0 1 0 -12.2 0M388.9 778.0a6.1 6.1 0 1 0 12.2 0a6.1 6.1 0 1 0 -12.2 0M413.9 786.0a6.1 6.1 0 1 0 12.2 0a6.1 6.1 0 1 0 -12.2 0M423.9 790.0a6.1 6.1 0 1 0 12.2 0a6.1 6.1 0 1 0 -12.2 0M448.9 787.0a6.1 6.1 0 1 0 12.2 0a6.1 6.1 0 1 0 -12.2 0M505.9 779.0a6.1 6.1 0 1 0 12.2 0a6.1 6.1 0 1 0 -12.2 0M343.9 742.0a6.1 6.1 0 1 0 12.2 0a6.1 6.1 0 1 0 -12.2 0M355.9 776.0a6.1 6.1 0 1 0 12.2 0a6.1 6.1 0 1 0 -12.2 0M375.6 762.4a6.1 6.1 0 1 0 12.2 0a6.1 6.1 0 1 0 -12.2 0M375.6 779.1a6.1 6.1 0 1 0 12.2 0a6.1 6.1 0 1 0 -12.2 0M374.8 763.6a6.1 6.1 0 1 0 12.2 0a6.1 6.1 0 1 0 -12.2 0M374.9 766.1a6.1 6.1 0 1 0 12.2 0a6.1 6.1 0 1 0 -12.2 0M377.8 761.9a6.1 6.1 0 1 0 12.2 0a6.1 6.1 0 1 0 -12.2 0M378.4 780.6a6.1 6.1 0 1 0 12.2 0a6.1 6.1 0 1 0 -12.2 0M378.5 777.6a6.1 6.1 0 1 0 12.2 0a6.1 6.1 0 1 0 -12.2 0M377.5 769.8a6.1 6.1 0 1 0 12.2 0a6.1 6.1 0 1 0 -12.2 0M376.9 777.0a6.1 6.1 0 1 0 12.2 0a6.1 6.1 0 1 0 -12.2 0M380.6 761.9a6.1 6.1 0 1 0 12.2 0a6.1 6.1 0 1 0 -12.2 0M380.2 780.7a6.1 6.1 0 1 0 12.2 0a6.1 6.1 0 1 0 -12.2 0M378.3 777.1a6.1 6.1 0 1 0 12.2 0a6.1 6.1 0 1 0 -12.2 0M381.7 771.9a6.1 6.1 0 1 0 12.2 0a6.1 6.1 0 1 0 -12.2 0M381.9 779.7a6.1 6.1 0 1 0 12.2 0a6.1 6.1 0 1 0 -12.2 0M382.5 760.2a6.1 6.1 0 1 0 12.2 0a6.1 6.1 0 1 0 -12.2 0M382.1 782.1a6.1 6.1 0 1 0 12.2 0a6.1 6.1 0 1 0 -12.2 0M381.8 770.8a6.1 6.1 0 1 0 12.2 0a6.1 6.1 0 1 0 -12.2 0M380.2 763.4a6.1 6.1 0 1 0 12.2 0a6.1 6.1 0 1 0 -12.2 0M380.8 772.8a6.1 6.1 0 1 0 12.2 0a6.1 6.1 0 1 0 -12.2 0M384.7 760.1a6.1 6.1 0 1 0 12.2 0a6.1 6.1 0 1 0 -12.2 0M383.9 783.2a6.1 6.1 0 1 0 12.2 0a6.1 6.1 0 1 0 -12.2 0M384.8 763.1a6.1 6.1 0 1 0 12.2 0a6.1 6.1 0 1 0 -12.2 0M382.5 774.1a6.1 6.1 0 1 0 12.2 0a6.1 6.1 0 1 0 -12.2 0M383.2 774.8a6.1 6.1 0 1 0 12.2 0a6.1 6.1 0 1 0 -12.2 0M382.9 779.7a6.1 6.1 0 1 0 12.2 0a6.1 6.1 0 1 0 -12.2 0M386.2 759.6a6.1 6.1 0 1 0 12.2 0a6.1 6.1 0 1 0 -12.2 0M386.5 784.2a6.1 6.1 0 1 0 12.2 0a6.1 6.1 0 1 0 -12.2 0M388.1 779.6a6.1 6.1 0 1 0 12.2 0a6.1 6.1 0 1 0 -12.2 0M387.2 761.6a6.1 6.1 0 1 0 12.2 0a6.1 6.1 0 1 0 -12.2 0M385.1 772.4a6.1 6.1 0 1 0 12.2 0a6.1 6.1 0 1 0 -12.2 0M388.4 776.8a6.1 6.1 0 1 0 12.2 0a6.1 6.1 0 1 0 -12.2 0M388.1 759.4a6.1 6.1 0 1 0 12.2 0a6.1 6.1 0 1 0 -12.2 0M389.1 783.7a6.1 6.1 0 1 0 12.2 0a6.1 6.1 0 1 0 -12.2 0M390.1 780.0a6.1 6.1 0 1 0 12.2 0a6.1 6.1 0 1 0 -12.2 0M389.7 774.6a6.1 6.1 0 1 0 12.2 0a6.1 6.1 0 1 0 -12.2 0M389.2 768.0a6.1 6.1 0 1 0 12.2 0a6.1 6.1 0 1 0 -12.2 0M386.9 782.2a6.1 6.1 0 1 0 12.2 0a6.1 6.1 0 1 0 -12.2 0M390.0 759.2a6.1 6.1 0 1 0 12.2 0a6.1 6.1 0 1 0 -12.2 0M390.7 784.7a6.1 6.1 0 1 0 12.2 0a6.1 6.1 0 1 0 -12.2 0M389.4 765.8a6.1 6.1 0 1 0 12.2 0a6.1 6.1 0 1 0 -12.2 0M392.1 767.6a6.1 6.1 0 1 0 12.2 0a6.1 6.1 0 1 0 -12.2 0M390.2 768.4a6.1 6.1 0 1 0 12.2 0a6.1 6.1 0 1 0 -12.2 0M388.7 782.2a6.1 6.1 0 1 0 12.2 0a6.1 6.1 0 1 0 -12.2 0M392.9 758.7a6.1 6.1 0 1 0 12.2 0a6.1 6.1 0 1 0 -12.2 0M392.2 783.4a6.1 6.1 0 1 0 12.2 0a6.1 6.1 0 1 0 -12.2 0M392.1 781.1a6.1 6.1 0 1 0 12.2 0a6.1 6.1 0 1 0 -12.2 0M391.2 765.3a6.1 6.1 0 1 0 12.2 0a6.1 6.1 0 1 0 -12.2 0M391.9 772.1a6.1 6.1 0 1 0 12.2 0a6.1 6.1 0 1 0 -12.2 0M394.4 772.7a6.1 6.1 0 1 0 12.2 0a6.1 6.1 0 1 0 -12.2 0M395.3 759.6a6.1 6.1 0 1 0 12.2 0a6.1 6.1 0 1 0 -12.2 0M394.7 784.8a6.1 6.1 0 1 0 12.2 0a6.1 6.1 0 1 0 -12.2 0M395.1 771.2a6.1 6.1 0 1 0 12.2 0a6.1 6.1 0 1 0 -12.2 0M394.9 768.4a6.1 6.1 0 1 0 12.2 0a6.1 6.1 0 1 0 -12.2 0M394.5 761.6a6.1 6.1 0 1 0 12.2 0a6.1 6.1 0 1 0 -12.2 0M393.6 778.1a6.1 6.1 0 1 0 12.2 0a6.1 6.1 0 1 0 -12.2 0M396.5 759.0a6.1 6.1 0 1 0 12.2 0a6.1 6.1 0 1 0 -12.2 0M396.5 783.8a6.1 6.1 0 1 0 12.2 0a6.1 6.1 0 1 0 -12.2 0M395.0 768.5a6.1 6.1 0 1 0 12.2 0a6.1 6.1 0 1 0 -12.2 0M397.4 776.1a6.1 6.1 0 1 0 12.2 0a6.1 6.1 0 1 0 -12.2 0M398.4 761.9a6.1 6.1 0 1 0 12.2 0a6.1 6.1 0 1 0 -12.2 0M397.5 764.6a6.1 6.1 0 1 0 12.2 0a6.1 6.1 0 1 0 -12.2 0M398.8 759.7a6.1 6.1 0 1 0 12.2 0a6.1 6.1 0 1 0 -12.2 0M399.4 784.3a6.1 6.1 0 1 0 12.2 0a6.1 6.1 0 1 0 -12.2 0M401.0 760.3a6.1 6.1 0 1 0 12.2 0a6.1 6.1 0 1 0 -12.2 0M398.2 771.3a6.1 6.1 0 1 0 12.2 0a6.1 6.1 0 1 0 -12.2 0M397.1 761.1a6.1 6.1 0 1 0 12.2 0a6.1 6.1 0 1 0 -12.2 0M398.4 773.2a6.1 6.1 0 1 0 12.2 0a6.1 6.1 0 1 0 -12.2 0M400.7 758.8a6.1 6.1 0 1 0 12.2 0a6.1 6.1 0 1 0 -12.2 0M400.9 784.4a6.1 6.1 0 1 0 12.2 0a6.1 6.1 0 1 0 -12.2 0M401.4 783.6a6.1 6.1 0 1 0 12.2 0a6.1 6.1 0 1 0 -12.2 0M401.5 781.1a6.1 6.1 0 1 0 12.2 0a6.1 6.1 0 1 0 -12.2 0M401.4 771.3a6.1 6.1 0 1 0 12.2 0a6.1 6.1 0 1 0 -12.2 0M400.7 761.6a6.1 6.1 0 1 0 12.2 0a6.1 6.1 0 1 0 -12.2 0M402.7 759.9a6.1 6.1 0 1 0 12.2 0a6.1 6.1 0 1 0 -12.2 0M403.6 783.1a6.1 6.1 0 1 0 12.2 0a6.1 6.1 0 1 0 -12.2 0M401.9 767.7a6.1 6.1 0 1 0 12.2 0a6.1 6.1 0 1 0 -12.2 0M402.4 779.7a6.1 6.1 0 1 0 12.2 0a6.1 6.1 0 1 0 -12.2 0M402.2 767.2a6.1 6.1 0 1 0 12.2 0a6.1 6.1 0 1 0 -12.2 0M403.1 782.5a6.1 6.1 0 1 0 12.2 0a6.1 6.1 0 1 0 -12.2 0M405.1 759.8a6.1 6.1 0 1 0 12.2 0a6.1 6.1 0 1 0 -12.2 0M404.8 783.8a6.1 6.1 0 1 0 12.2 0a6.1 6.1 0 1 0 -12.2 0M407.1 765.1a6.1 6.1 0 1 0 12.2 0a6.1 6.1 0 1 0 -12.2 0M404.7 775.4a6.1 6.1 0 1 0 12.2 0a6.1 6.1 0 1 0 -12.2 0M405.6 773.6a6.1 6.1 0 1 0 12.2 0a6.1 6.1 0 1 0 -12.2 0M405.8 775.9a6.1 6.1 0 1 0 12.2 0a6.1 6.1 0 1 0 -12.2 0M407.2 759.4a6.1 6.1 0 1 0 12.2 0a6.1 6.1 0 1 0 -12.2 0M407.3 783.9a6.1 6.1 0 1 0 12.2 0a6.1 6.1 0 1 0 -12.2 0M407.7 780.6a6.1 6.1 0 1 0 12.2 0a6.1 6.1 0 1 0 -12.2 0M407.0 770.5a6.1 6.1 0 1 0 12.2 0a6.1 6.1 0 1 0 -12.2 0M408.8 782.9a6.1 6.1 0 1 0 12.2 0a6.1 6.1 0 1 0 -12.2 0M406.3 777.2a6.1 6.1 0 1 0 12.2 0a6.1 6.1 0 1 0 -12.2 0M409.2 760.1a6.1 6.1 0 1 0 12.2 0a6.1 6.1 0 1 0 -12.2 0M408.9 783.8a6.1 6.1 0 1 0 12.2 0a6.1 6.1 0 1 0 -12.2 0M409.8 776.4a6.1 6.1 0 1 0 12.2 0a6.1 6.1 0 1 0 -12.2 0M411.3 778.7a6.1 6.1 0 1 0 12.2 0a6.1 6.1 0 1 0 -12.2 0M409.8 771.6a6.1 6.1 0 1 0 12.2 0a6.1 6.1 0 1 0 -12.2 0M407.5 773.0a6.1 6.1 0 1 0 12.2 0a6.1 6.1 0 1 0 -12.2 0M411.7 760.1a6.1 6.1 0 1 0 12.2 0a6.1 6.1 0 1 0 -12.2 0M411.2 783.9a6.1 6.1 0 1 0 12.2 0a6.1 6.1 0 1 0 -12.2 0M409.7 777.0a6.1 6.1 0 1 0 12.2 0a6.1 6.1 0 1 0 -12.2 0M413.0 770.2a6.1 6.1 0 1 0 12.2 0a6.1 6.1 0 1 0 -12.2 0M412.4 775.5a6.1 6.1 0 1 0 12.2 0a6.1 6.1 0 1 0 -12.2 0M410.8 762.0a6.1 6.1 0 1 0 12.2 0a6.1 6.1 0 1 0 -12.2 0M414.0 759.4a6.1 6.1 0 1 0 12.2 0a6.1 6.1 0 1 0 -12.2 0M413.3 783.6a6.1 6.1 0 1 0 12.2 0a6.1 6.1 0 1 0 -12.2 0M415.1 782.3a6.1 6.1 0 1 0 12.2 0a6.1 6.1 0 1 0 -12.2 0M414.0 782.7a6.1 6.1 0 1 0 12.2 0a6.1 6.1 0 1 0 -12.2 0M412.3 771.5a6.1 6.1 0 1 0 12.2 0a6.1 6.1 0 1 0 -12.2 0M411.6 765.4a6.1 6.1 0 1 0 12.2 0a6.1 6.1 0 1 0 -12.2 0M416.3 758.9a6.1 6.1 0 1 0 12.2 0a6.1 6.1 0 1 0 -12.2 0M416.0 783.7a6.1 6.1 0 1 0 12.2 0a6.1 6.1 0 1 0 -12.2 0M417.8 783.2a6.1 6.1 0 1 0 12.2 0a6.1 6.1 0 1 0 -12.2 0M414.2 766.1a6.1 6.1 0 1 0 12.2 0a6.1 6.1 0 1 0 -12.2 0M417.9 767.7a6.1 6.1 0 1 0 12.2 0a6.1 6.1 0 1 0 -12.2 0M414.5 781.3a6.1 6.1 0 1 0 12.2 0a6.1 6.1 0 1 0 -12.2 0M418.0 759.3a6.1 6.1 0 1 0 12.2 0a6.1 6.1 0 1 0 -12.2 0M418.0 783.5a6.1 6.1 0 1 0 12.2 0a6.1 6.1 0 1 0 -12.2 0M417.7 772.9a6.1 6.1 0 1 0 12.2 0a6.1 6.1 0 1 0 -12.2 0M416.5 774.3a6.1 6.1 0 1 0 12.2 0a6.1 6.1 0 1 0 -12.2 0M419.8 773.8a6.1 6.1 0 1 0 12.2 0a6.1 6.1 0 1 0 -12.2 0M419.1 766.6a6.1 6.1 0 1 0 12.2 0a6.1 6.1 0 1 0 -12.2 0M419.6 758.8a6.1 6.1 0 1 0 12.2 0a6.1 6.1 0 1 0 -12.2 0M420.6 782.9a6.1 6.1 0 1 0 12.2 0a6.1 6.1 0 1 0 -12.2 0M419.5 775.2a6.1 6.1 0 1 0 12.2 0a6.1 6.1 0 1 0 -12.2 0M421.0 774.4a6.1 6.1 0 1 0 12.2 0a6.1 6.1 0 1 0 -12.2 0M419.7 779.0a6.1 6.1 0 1 0 12.2 0a6.1 6.1 0 1 0 -12.2 0M419.8 779.4a6.1 6.1 0 1 0 12.2 0a6.1 6.1 0 1 0 -12.2 0M421.6 760.1a6.1 6.1 0 1 0 12.2 0a6.1 6.1 0 1 0 -12.2 0M421.6 783.3a6.1 6.1 0 1 0 12.2 0a6.1 6.1 0 1 0 -12.2 0M421.9 764.2a6.1 6.1 0 1 0 12.2 0a6.1 6.1 0 1 0 -12.2 0M421.9 779.8a6.1 6.1 0 1 0 12.2 0a6.1 6.1 0 1 0 -12.2 0M420.2 764.5a6.1 6.1 0 1 0 12.2 0a6.1 6.1 0 1 0 -12.2 0M424.1 770.4a6.1 6.1 0 1 0 12.2 0a6.1 6.1 0 1 0 -12.2 0M424.1 760.4a6.1 6.1 0 1 0 12.2 0a6.1 6.1 0 1 0 -12.2 0M424.5 782.9a6.1 6.1 0 1 0 12.2 0a6.1 6.1 0 1 0 -12.2 0M424.6 764.2a6.1 6.1 0 1 0 12.2 0a6.1 6.1 0 1 0 -12.2 0M425.4 772.9a6.1 6.1 0 1 0 12.2 0a6.1 6.1 0 1 0 -12.2 0M425.5 761.5a6.1 6.1 0 1 0 12.2 0a6.1 6.1 0 1 0 -12.2 0M426.0 765.3a6.1 6.1 0 1 0 12.2 0a6.1 6.1 0 1 0 -12.2 0M426.7 759.6a6.1 6.1 0 1 0 12.2 0a6.1 6.1 0 1 0 -12.2 0M426.8 782.7a6.1 6.1 0 1 0 12.2 0a6.1 6.1 0 1 0 -12.2 0M424.4 770.8a6.1 6.1 0 1 0 12.2 0a6.1 6.1 0 1 0 -12.2 0M428.1 770.8a6.1 6.1 0 1 0 12.2 0a6.1 6.1 0 1 0 -12.2 0M426.3 763.8a6.1 6.1 0 1 0 12.2 0a6.1 6.1 0 1 0 -12.2 0M426.5 769.9a6.1 6.1 0 1 0 12.2 0a6.1 6.1 0 1 0 -12.2 0M428.9 760.2a6.1 6.1 0 1 0 12.2 0a6.1 6.1 0 1 0 -12.2 0M428.4 782.7a6.1 6.1 0 1 0 12.2 0a6.1 6.1 0 1 0 -12.2 0M426.9 782.4a6.1 6.1 0 1 0 12.2 0a6.1 6.1 0 1 0 -12.2 0M428.9 765.2a6.1 6.1 0 1 0 12.2 0a6.1 6.1 0 1 0 -12.2 0M429.7 765.0a6.1 6.1 0 1 0 12.2 0a6.1 6.1 0 1 0 -12.2 0M428.2 780.2a6.1 6.1 0 1 0 12.2 0a6.1 6.1 0 1 0 -12.2 0M430.0 759.0a6.1 6.1 0 1 0 12.2 0a6.1 6.1 0 1 0 -12.2 0M430.0 782.7a6.1 6.1 0 1 0 12.2 0a6.1 6.1 0 1 0 -12.2 0M430.0 767.4a6.1 6.1 0 1 0 12.2 0a6.1 6.1 0 1 0 -12.2 0M429.6 760.4a6.1 6.1 0 1 0 12.2 0a6.1 6.1 0 1 0 -12.2 0M430.4 770.3a6.1 6.1 0 1 0 12.2 0a6.1 6.1 0 1 0 -12.2 0M431.5 767.0a6.1 6.1 0 1 0 12.2 0a6.1 6.1 0 1 0 -12.2 0M432.7 759.4a6.1 6.1 0 1 0 12.2 0a6.1 6.1 0 1 0 -12.2 0M432.9 782.7a6.1 6.1 0 1 0 12.2 0a6.1 6.1 0 1 0 -12.2 0M432.6 770.3a6.1 6.1 0 1 0 12.2 0a6.1 6.1 0 1 0 -12.2 0M432.4 772.4a6.1 6.1 0 1 0 12.2 0a6.1 6.1 0 1 0 -12.2 0M432.8 767.3a6.1 6.1 0 1 0 12.2 0a6.1 6.1 0 1 0 -12.2 0M434.0 781.9a6.1 6.1 0 1 0 12.2 0a6.1 6.1 0 1 0 -12.2 0M434.8 761.3a6.1 6.1 0 1 0 12.2 0a6.1 6.1 0 1 0 -12.2 0M435.0 782.3a6.1 6.1 0 1 0 12.2 0a6.1 6.1 0 1 0 -12.2 0M435.1 771.1a6.1 6.1 0 1 0 12.2 0a6.1 6.1 0 1 0 -12.2 0M434.6 769.6a6.1 6.1 0 1 0 12.2 0a6.1 6.1 0 1 0 -12.2 0M434.9 766.0a6.1 6.1 0 1 0 12.2 0a6.1 6.1 0 1 0 -12.2 0M436.5 764.1a6.1 6.1 0 1 0 12.2 0a6.1 6.1 0 1 0 -12.2 0M436.9 780.5a6.1 6.1 0 1 0 12.2 0a6.1 6.1 0 1 0 -12.2 0M438.0 779.2a6.1 6.1 0 1 0 12.2 0a6.1 6.1 0 1 0 -12.2 0M437.9 770.1a6.1 6.1 0 1 0 12.2 0a6.1 6.1 0 1 0 -12.2 0M439.4 767.9a6.1 6.1 0 1 0 12.2 0a6.1 6.1 0 1 0 -12.2 0M438.7 779.5a6.1 6.1 0 1 0 12.2 0a6.1 6.1 0 1 0 -12.2 0M439.6 772.8a6.1 6.1 0 1 0 12.2 0a6.1 6.1 0 1 0 -12.2 0M441.3 768.9a6.1 6.1 0 1 0 12.2 0a6.1 6.1 0 1 0 -12.2 0M440.7 778.5a6.1 6.1 0 1 0 12.2 0a6.1 6.1 0 1 0 -12.2 0M440.6 775.7a6.1 6.1 0 1 0 12.2 0a6.1 6.1 0 1 0 -12.2 0M443.3 767.7a6.1 6.1 0 1 0 12.2 0a6.1 6.1 0 1 0 -12.2 0M443.0 779.4a6.1 6.1 0 1 0 12.2 0a6.1 6.1 0 1 0 -12.2 0M445.0 774.5a6.1 6.1 0 1 0 12.2 0a6.1 6.1 0 1 0 -12.2 0M445.5 769.0a6.1 6.1 0 1 0 12.2 0a6.1 6.1 0 1 0 -12.2 0M444.9 777.6a6.1 6.1 0 1 0 12.2 0a6.1 6.1 0 1 0 -12.2 0M445.7 772.3a6.1 6.1 0 1 0 12.2 0a6.1 6.1 0 1 0 -12.2 0M447.6 768.1a6.1 6.1 0 1 0 12.2 0a6.1 6.1 0 1 0 -12.2 0M447.2 778.6a6.1 6.1 0 1 0 12.2 0a6.1 6.1 0 1 0 -12.2 0M445.6 772.4a6.1 6.1 0 1 0 12.2 0a6.1 6.1 0 1 0 -12.2 0M449.0 768.6a6.1 6.1 0 1 0 12.2 0a6.1 6.1 0 1 0 -12.2 0M449.7 778.6a6.1 6.1 0 1 0 12.2 0a6.1 6.1 0 1 0 -12.2 0M450.5 770.1a6.1 6.1 0 1 0 12.2 0a6.1 6.1 0 1 0 -12.2 0M451.4 768.7a6.1 6.1 0 1 0 12.2 0a6.1 6.1 0 1 0 -12.2 0M451.7 777.8a6.1 6.1 0 1 0 12.2 0a6.1 6.1 0 1 0 -12.2 0M453.5 776.7a6.1 6.1 0 1 0 12.2 0a6.1 6.1 0 1 0 -12.2 0M453.3 768.1a6.1 6.1 0 1 0 12.2 0a6.1 6.1 0 1 0 -12.2 0M454.2 776.5a6.1 6.1 0 1 0 12.2 0a6.1 6.1 0 1 0 -12.2 0M455.6 769.9a6.1 6.1 0 1 0 12.2 0a6.1 6.1 0 1 0 -12.2 0M455.8 768.1a6.1 6.1 0 1 0 12.2 0a6.1 6.1 0 1 0 -12.2 0M455.3 776.5a6.1 6.1 0 1 0 12.2 0a6.1 6.1 0 1 0 -12.2 0M456.9 774.3a6.1 6.1 0 1 0 12.2 0a6.1 6.1 0 1 0 -12.2 0M457.6 768.2a6.1 6.1 0 1 0 12.2 0a6.1 6.1 0 1 0 -12.2 0M457.6 775.9a6.1 6.1 0 1 0 12.2 0a6.1 6.1 0 1 0 -12.2 0M456.7 772.6a6.1 6.1 0 1 0 12.2 0a6.1 6.1 0 1 0 -12.2 0M459.9 769.7a6.1 6.1 0 1 0 12.2 0a6.1 6.1 0 1 0 -12.2 0M459.4 776.2a6.1 6.1 0 1 0 12.2 0a6.1 6.1 0 1 0 -12.2 0M460.2 770.2a6.1 6.1 0 1 0 12.2 0a6.1 6.1 0 1 0 -12.2 0M461.8 768.3a6.1 6.1 0 1 0 12.2 0a6.1 6.1 0 1 0 -12.2 0M462.5 775.6a6.1 6.1 0 1 0 12.2 0a6.1 6.1 0 1 0 -12.2 0M460.2 772.3a6.1 6.1 0 1 0 12.2 0a6.1 6.1 0 1 0 -12.2 0M464.1 769.7a6.1 6.1 0 1 0 12.2 0a6.1 6.1 0 1 0 -12.2 0M464.4 775.0a6.1 6.1 0 1 0 12.2 0a6.1 6.1 0 1 0 -12.2 0M465.8 769.4a6.1 6.1 0 1 0 12.2 0a6.1 6.1 0 1 0 -12.2 0M466.4 768.2a6.1 6.1 0 1 0 12.2 0a6.1 6.1 0 1 0 -12.2 0M466.6 775.0a6.1 6.1 0 1 0 12.2 0a6.1 6.1 0 1 0 -12.2 0M467.4 774.1a6.1 6.1 0 1 0 12.2 0a6.1 6.1 0 1 0 -12.2 0M468.6 768.3a6.1 6.1 0 1 0 12.2 0a6.1 6.1 0 1 0 -12.2 0M468.2 774.8a6.1 6.1 0 1 0 12.2 0a6.1 6.1 0 1 0 -12.2 0M469.2 775.2a6.1 6.1 0 1 0 12.2 0a6.1 6.1 0 1 0 -12.2 0M470.4 769.3a6.1 6.1 0 1 0 12.2 0a6.1 6.1 0 1 0 -12.2 0M470.6 774.8a6.1 6.1 0 1 0 12.2 0a6.1 6.1 0 1 0 -12.2 0M469.9 771.3a6.1 6.1 0 1 0 12.2 0a6.1 6.1 0 1 0 -12.2 0M472.8 768.8a6.1 6.1 0 1 0 12.2 0a6.1 6.1 0 1 0 -12.2 0M472.3 775.6a6.1 6.1 0 1 0 12.2 0a6.1 6.1 0 1 0 -12.2 0M471.3 769.6a6.1 6.1 0 1 0 12.2 0a6.1 6.1 0 1 0 -12.2 0M474.3 768.1a6.1 6.1 0 1 0 12.2 0a6.1 6.1 0 1 0 -12.2 0M474.8 775.4a6.1 6.1 0 1 0 12.2 0a6.1 6.1 0 1 0 -12.2 0M475.1 772.6a6.1 6.1 0 1 0 12.2 0a6.1 6.1 0 1 0 -12.2 0M476.2 769.5a6.1 6.1 0 1 0 12.2 0a6.1 6.1 0 1 0 -12.2 0M477.1 774.5a6.1 6.1 0 1 0 12.2 0a6.1 6.1 0 1 0 -12.2 0M476.4 773.9a6.1 6.1 0 1 0 12.2 0a6.1 6.1 0 1 0 -12.2 0M478.7 769.5a6.1 6.1 0 1 0 12.2 0a6.1 6.1 0 1 0 -12.2 0M479.0 775.7a6.1 6.1 0 1 0 12.2 0a6.1 6.1 0 1 0 -12.2 0M480.5 773.8a6.1 6.1 0 1 0 12.2 0a6.1 6.1 0 1 0 -12.2 0M481.0 768.1a6.1 6.1 0 1 0 12.2 0a6.1 6.1 0 1 0 -12.2 0M480.8 775.7a6.1 6.1 0 1 0 12.2 0a6.1 6.1 0 1 0 -12.2 0M481.0 772.6a6.1 6.1 0 1 0 12.2 0a6.1 6.1 0 1 0 -12.2 0M482.8 769.5a6.1 6.1 0 1 0 12.2 0a6.1 6.1 0 1 0 -12.2 0M482.7 775.6a6.1 6.1 0 1 0 12.2 0a6.1 6.1 0 1 0 -12.2 0M482.7 770.0a6.1 6.1 0 1 0 12.2 0a6.1 6.1 0 1 0 -12.2 0M484.5 768.2a6.1 6.1 0 1 0 12.2 0a6.1 6.1 0 1 0 -12.2 0M484.8 775.3a6.1 6.1 0 1 0 12.2 0a6.1 6.1 0 1 0 -12.2 0M483.1 769.5a6.1 6.1 0 1 0 12.2 0a6.1 6.1 0 1 0 -12.2 0M487.6 769.7a6.1 6.1 0 1 0 12.2 0a6.1 6.1 0 1 0 -12.2 0M487.1 775.3a6.1 6.1 0 1 0 12.2 0a6.1 6.1 0 1 0 -12.2 0M487.6 769.7a6.1 6.1 0 1 0 12.2 0a6.1 6.1 0 1 0 -12.2 0M489.3 769.1a6.1 6.1 0 1 0 12.2 0a6.1 6.1 0 1 0 -12.2 0M489.8 775.6a6.1 6.1 0 1 0 12.2 0a6.1 6.1 0 1 0 -12.2 0M489.5 771.5a6.1 6.1 0 1 0 12.2 0a6.1 6.1 0 1 0 -12.2 0M491.9 768.8a6.1 6.1 0 1 0 12.2 0a6.1 6.1 0 1 0 -12.2 0M491.4 775.7a6.1 6.1 0 1 0 12.2 0a6.1 6.1 0 1 0 -12.2 0M491.1 769.5a6.1 6.1 0 1 0 12.2 0a6.1 6.1 0 1 0 -12.2 0M493.6 769.4a6.1 6.1 0 1 0 12.2 0a6.1 6.1 0 1 0 -12.2 0M493.3 774.5a6.1 6.1 0 1 0 12.2 0a6.1 6.1 0 1 0 -12.2 0M491.8 774.4a6.1 6.1 0 1 0 12.2 0a6.1 6.1 0 1 0 -12.2 0M495.1 769.3a6.1 6.1 0 1 0 12.2 0a6.1 6.1 0 1 0 -12.2 0M495.1 775.2a6.1 6.1 0 1 0 12.2 0a6.1 6.1 0 1 0 -12.2 0M497.3 770.6a6.1 6.1 0 1 0 12.2 0a6.1 6.1 0 1 0 -12.2 0M497.5 769.5a6.1 6.1 0 1 0 12.2 0a6.1 6.1 0 1 0 -12.2 0M497.8 775.2a6.1 6.1 0 1 0 12.2 0a6.1 6.1 0 1 0 -12.2 0M499.7 768.8a6.1 6.1 0 1 0 12.2 0a6.1 6.1 0 1 0 -12.2 0M499.9 774.6a6.1 6.1 0 1 0 12.2 0a6.1 6.1 0 1 0 -12.2 0M502.0 769.8a6.1 6.1 0 1 0 12.2 0a6.1 6.1 0 1 0 -12.2 0M501.6 775.7a6.1 6.1 0 1 0 12.2 0a6.1 6.1 0 1 0 -12.2 0M503.8 771.1a6.1 6.1 0 1 0 12.2 0a6.1 6.1 0 1 0 -12.2 0M504.0 774.8a6.1 6.1 0 1 0 12.2 0a6.1 6.1 0 1 0 -12.2 0M505.8 770.0a6.1 6.1 0 1 0 12.2 0a6.1 6.1 0 1 0 -12.2 0M506.3 774.6a6.1 6.1 0 1 0 12.2 0a6.1 6.1 0 1 0 -12.2 0M508.3 770.3a6.1 6.1 0 1 0 12.2 0a6.1 6.1 0 1 0 -12.2 0M508.2 774.8a6.1 6.1 0 1 0 12.2 0a6.1 6.1 0 1 0 -12.2 0M510.6 771.5a6.1 6.1 0 1 0 12.2 0a6.1 6.1 0 1 0 -12.2 0M510.2 774.8a6.1 6.1 0 1 0 12.2 0a6.1 6.1 0 1 0 -12.2 0M512.5 771.5a6.1 6.1 0 1 0 12.2 0a6.1 6.1 0 1 0 -12.2 0M512.6 774.0a6.1 6.1 0 1 0 12.2 0a6.1 6.1 0 1 0 -12.2 0M514.0 771.1a6.1 6.1 0 1 0 12.2 0a6.1 6.1 0 1 0 -12.2 0M515.1 775.0a6.1 6.1 0 1 0 12.2 0a6.1 6.1 0 1 0 -12.2 0" stroke="#000" stroke-width="1.9" fill="none"/>
<path d="M927.6 662.3a6.1 6.1 0 1 0 12.2 0a6.1 6.1 0 1 0 -12.2 0M970.8 707.0a6.1 6.1 0 1 0 12.2 0a6.1 6.1 0 1 0 -12.2 0M953.4 674.8a6.1 6.1 0 1 0 12.2 0a6.1 6.1 0 1 0 -12.2 0M972.4 679.0a6.1 6.1 0 1 0 12.2 0a6.1 6.1 0 1 0 -12.2 0M955.5 692.8a6.1 6.1 0 1 0 12.2 0a6.1 6.1 0 1 0 -12.2 0M960.8 690.7a6.1 6.1 0 1 0 12.2 0a6.1 6.1 0 1 0 -12.2 0M965.0 691.7a6.1 6.1 0 1 0 12.2 0a6.1 6.1 0 1 0 -12.2 0M967.2 693.8a6.1 6.1 0 1 0 12.2 0a6.1 6.1 0 1 0 -12.2 0M959.8 694.9a6.1 6.1 0 1 0 12.2 0a6.1 6.1 0 1 0 -12.2 0M969.8 707.6a6.1 6.1 0 1 0 12.2 0a6.1 6.1 0 1 0 -12.2 0M976.7 703.3a6.1 6.1 0 1 0 12.2 0a6.1 6.1 0 1 0 -12.2 0M980.9 702.3a6.1 6.1 0 1 0 12.2 0a6.1 6.1 0 1 0 -12.2 0M979.8 706.5a6.1 6.1 0 1 0 12.2 0a6.1 6.1 0 1 0 -12.2 0M988.3 712.9a6.1 6.1 0 1 0 12.2 0a6.1 6.1 0 1 0 -12.2 0M995.7 708.6a6.1 6.1 0 1 0 12.2 0a6.1 6.1 0 1 0 -12.2 0M978.8 726.6a6.1 6.1 0 1 0 12.2 0a6.1 6.1 0 1 0 -12.2 0M989.4 728.7a6.1 6.1 0 1 0 12.2 0a6.1 6.1 0 1 0 -12.2 0M1009.5 733.0a6.1 6.1 0 1 0 12.2 0a6.1 6.1 0 1 0 -12.2 0M1004.2 731.9a6.1 6.1 0 1 0 12.2 0a6.1 6.1 0 1 0 -12.2 0M979.9 743.5a6.1 6.1 0 1 0 12.2 0a6.1 6.1 0 1 0 -12.2 0M978.8 746.7a6.1 6.1 0 1 0 12.2 0a6.1 6.1 0 1 0 -12.2 0M988.3 748.8a6.1 6.1 0 1 0 12.2 0a6.1 6.1 0 1 0 -12.2 0M994.7 744.6a6.1 6.1 0 1 0 12.2 0a6.1 6.1 0 1 0 -12.2 0M1003.1 743.5a6.1 6.1 0 1 0 12.2 0a6.1 6.1 0 1 0 -12.2 0M1017.9 742.5a6.1 6.1 0 1 0 12.2 0a6.1 6.1 0 1 0 -12.2 0M1022.1 747.8a6.1 6.1 0 1 0 12.2 0a6.1 6.1 0 1 0 -12.2 0M1028.5 753.0a6.1 6.1 0 1 0 12.2 0a6.1 6.1 0 1 0 -12.2 0M1041.2 756.2a6.1 6.1 0 1 0 12.2 0a6.1 6.1 0 1 0 -12.2 0M1050.7 757.3a6.1 6.1 0 1 0 12.2 0a6.1 6.1 0 1 0 -12.2 0M996.8 753.0a6.1 6.1 0 1 0 12.2 0a6.1 6.1 0 1 0 -12.2 0M1003.1 755.2a6.1 6.1 0 1 0 12.2 0a6.1 6.1 0 1 0 -12.2 0M1009.5 750.9a6.1 6.1 0 1 0 12.2 0a6.1 6.1 0 1 0 -12.2 0M1041.4 757.2a6.1 6.1 0 1 0 12.2 0a6.1 6.1 0 1 0 -12.2 0M1051.6 758.9a6.1 6.1 0 1 0 12.2 0a6.1 6.1 0 1 0 -12.2 0M1049.9 789.3a6.1 6.1 0 1 0 12.2 0a6.1 6.1 0 1 0 -12.2 0M1053.2 791.0a6.1 6.1 0 1 0 12.2 0a6.1 6.1 0 1 0 -12.2 0M1079.5 782.6a6.1 6.1 0 1 0 12.2 0a6.1 6.1 0 1 0 -12.2 0M1094.7 775.8a6.1 6.1 0 1 0 12.2 0a6.1 6.1 0 1 0 -12.2 0M1092.1 770.7a6.1 6.1 0 1 0 12.2 0a6.1 6.1 0 1 0 -12.2 0M1010.9 731.8a6.1 6.1 0 1 0 12.2 0a6.1 6.1 0 1 0 -12.2 0M1079.8 784.4a6.1 6.1 0 1 0 12.2 0a6.1 6.1 0 1 0 -12.2 0M1093.9 774.8a6.1 6.1 0 1 0 12.2 0a6.1 6.1 0 1 0 -12.2 0M1095.3 779.2a6.1 6.1 0 1 0 12.2 0a6.1 6.1 0 1 0 -12.2 0M1055.4 758.5a6.1 6.1 0 1 0 12.2 0a6.1 6.1 0 1 0 -12.2 0M1056.1 790.3a6.1 6.1 0 1 0 12.2 0a6.1 6.1 0 1 0 -12.2 0M981.9 735.0a6.1 6.1 0 1 0 12.2 0a6.1 6.1 0 1 0 -12.2 0M984.9 720.0a6.1 6.1 0 1 0 12.2 0a6.1 6.1 0 1 0 -12.2 0M990.9 724.0a6.1 6.1 0 1 0 12.2 0a6.1 6.1 0 1 0 -12.2 0M996.9 718.0a6.1 6.1 0 1 0 12.2 0a6.1 6.1 0 1 0 -12.2 0M989.0 744.2a6.1 6.1 0 1 0 12.2 0a6.1 6.1 0 1 0 -12.2 0M988.7 753.5a6.1 6.1 0 1 0 12.2 0a6.1 6.1 0 1 0 -12.2 0M989.4 752.1a6.1 6.1 0 1 0 12.2 0a6.1 6.1 0 1 0 -12.2 0M991.6 745.4a6.1 6.1 0 1 0 12.2 0a6.1 6.1 0 1 0 -12.2 0M991.6 756.5a6.1 6.1 0 1 0 12.2 0a6.1 6.1 0 1 0 -12.2 0M992.4 755.2a6.1 6.1 0 1 0 12.2 0a6.1 6.1 0 1 0 -12.2 0M994.1 745.2a6.1 6.1 0 1 0 12.2 0a6.1 6.1 0 1 0 -12.2 0M994.3 758.7a6.1 6.1 0 1 0 12.2 0a6.1 6.1 0 1 0 -12.2 0M995.3 748.6a6.1 6.1 0 1 0 12.2 0a6.1 6.1 0 1 0 -12.2 0M997.0 746.6a6.1 6.1 0 1 0 12.2 0a6.1 6.1 0 1 0 -12.2 0M997.0 760.1a6.1 6.1 0 1 0 12.2 0a6.1 6.1 0 1 0 -12.2 0M995.1 756.5a6.1 6.1 0 1 0 12.2 0a6.1 6.1 0 1 0 -12.2 0M999.7 747.4a6.1 6.1 0 1 0 12.2 0a6.1 6.1 0 1 0 -12.2 0M1000.4 761.3a6.1 6.1 0 1 0 12.2 0a6.1 6.1 0 1 0 -12.2 0M1002.4 747.6a6.1 6.1 0 1 0 12.2 0a6.1 6.1 0 1 0 -12.2 0M1003.1 748.3a6.1 6.1 0 1 0 12.2 0a6.1 6.1 0 1 0 -12.2 0M1003.2 761.4a6.1 6.1 0 1 0 12.2 0a6.1 6.1 0 1 0 -12.2 0M1004.3 751.6a6.1 6.1 0 1 0 12.2 0a6.1 6.1 0 1 0 -12.2 0M1006.1 748.0a6.1 6.1 0 1 0 12.2 0a6.1 6.1 0 1 0 -12.2 0M1006.3 761.7a6.1 6.1 0 1 0 12.2 0a6.1 6.1 0 1 0 -12.2 0M1006.2 750.3a6.1 6.1 0 1 0 12.2 0a6.1 6.1 0 1 0 -12.2 0M1008.8 749.7a6.1 6.1 0 1 0 12.2 0a6.1 6.1 0 1 0 -12.2 0M1008.5 764.4a6.1 6.1 0 1 0 12.2 0a6.1 6.1 0 1 0 -12.2 0M1007.0 749.6a6.1 6.1 0 1 0 12.2 0a6.1 6.1 0 1 0 -12.2 0M1010.2 755.1a6.1 6.1 0 1 0 12.2 0a6.1 6.1 0 1 0 -12.2 0M1010.8 749.9a6.1 6.1 0 1 0 12.2 0a6.1 6.1 0 1 0 -12.2 0M1011.8 764.2a6.1 6.1 0 1 0 12.2 0a6.1 6.1 0 1 0 -12.2 0M1011.9 755.0a6.1 6.1 0 1 0 12.2 0a6.1 6.1 0 1 0 -12.2 0M1008.7 751.0a6.1 6.1 0 1 0 12.2 0a6.1 6.1 0 1 0 -12.2 0M1013.6 750.0a6.1 6.1 0 1 0 12.2 0a6.1 6.1 0 1 0 -12.2 0M1013.9 766.3a6.1 6.1 0 1 0 12.2 0a6.1 6.1 0 1 0 -12.2 0M1014.8 763.6a6.1 6.1 0 1 0 12.2 0a6.1 6.1 0 1 0 -12.2 0M1016.1 753.2a6.1 6.1 0 1 0 12.2 0a6.1 6.1 0 1 0 -12.2 0M1017.1 751.9a6.1 6.1 0 1 0 12.2 0a6.1 6.1 0 1 0 -12.2 0M1016.6 767.6a6.1 6.1 0 1 0 12.2 0a6.1 6.1 0 1 0 -12.2 0M1019.6 761.4a6.1 6.1 0 1 0 12.2 0a6.1 6.1 0 1 0 -12.2 0M1018.0 756.4a6.1 6.1 0 1 0 12.2 0a6.1 6.1 0 1 0 -12.2 0M1020.3 753.2a6.1 6.1 0 1 0 12.2 0a6.1 6.1 0 1 0 -12.2 0M1019.5 768.2a6.1 6.1 0 1 0 12.2 0a6.1 6.1 0 1 0 -12.2 0M1016.9 760.3a6.1 6.1 0 1 0 12.2 0a6.1 6.1 0 1 0 -12.2 0M1021.8 765.0a6.1 6.1 0 1 0 12.2 0a6.1 6.1 0 1 0 -12.2 0M1022.1 753.6a6.1 6.1 0 1 0 12.2 0a6.1 6.1 0 1 0 -12.2 0M1022.1 769.3a6.1 6.1 0 1 0 12.2 0a6.1 6.1 0 1 0 -12.2 0M1020.8 756.8a6.1 6.1 0 1 0 12.2 0a6.1 6.1 0 1 0 -12.2 0M1022.8 768.1a6.1 6.1 0 1 0 12.2 0a6.1 6.1 0 1 0 -12.2 0M1025.7 756.0a6.1 6.1 0 1 0 12.2 0a6.1 6.1 0 1 0 -12.2 0M1025.1 771.5a6.1 6.1 0 1 0 12.2 0a6.1 6.1 0 1 0 -12.2 0M1023.7 756.6a6.1 6.1 0 1 0 12.2 0a6.1 6.1 0 1 0 -12.2 0M1023.7 767.5a6.1 6.1 0 1 0 12.2 0a6.1 6.1 0 1 0 -12.2 0M1028.3 757.4a6.1 6.1 0 1 0 12.2 0a6.1 6.1 0 1 0 -12.2 0M1027.8 772.2a6.1 6.1 0 1 0 12.2 0a6.1 6.1 0 1 0 -12.2 0M1028.2 768.8a6.1 6.1 0 1 0 12.2 0a6.1 6.1 0 1 0 -12.2 0M1030.8 759.0a6.1 6.1 0 1 0 12.2 0a6.1 6.1 0 1 0 -12.2 0M1030.4 772.6a6.1 6.1 0 1 0 12.2 0a6.1 6.1 0 1 0 -12.2 0M1031.0 769.1a6.1 6.1 0 1 0 12.2 0a6.1 6.1 0 1 0 -12.2 0M1033.8 759.7a6.1 6.1 0 1 0 12.2 0a6.1 6.1 0 1 0 -12.2 0M1034.2 774.1a6.1 6.1 0 1 0 12.2 0a6.1 6.1 0 1 0 -12.2 0M1033.9 763.4a6.1 6.1 0 1 0 12.2 0a6.1 6.1 0 1 0 -12.2 0M1036.2 761.0a6.1 6.1 0 1 0 12.2 0a6.1 6.1 0 1 0 -12.2 0M1036.6 775.5a6.1 6.1 0 1 0 12.2 0a6.1 6.1 0 1 0 -12.2 0M1035.2 766.2a6.1 6.1 0 1 0 12.2 0a6.1 6.1 0 1 0 -12.2 0M1039.0 761.5a6.1 6.1 0 1 0 12.2 0a6.1 6.1 0 1 0 -12.2 0M1038.7 775.8a6.1 6.1 0 1 0 12.2 0a6.1 6.1 0 1 0 -12.2 0M1042.0 763.2a6.1 6.1 0 1 0 12.2 0a6.1 6.1 0 1 0 -12.2 0M1041.6 763.1a6.1 6.1 0 1 0 12.2 0a6.1 6.1 0 1 0 -12.2 0M1041.9 775.4a6.1 6.1 0 1 0 12.2 0a6.1 6.1 0 1 0 -12.2 0M1044.2 765.8a6.1 6.1 0 1 0 12.2 0a6.1 6.1 0 1 0 -12.2 0M1044.5 764.6a6.1 6.1 0 1 0 12.2 0a6.1 6.1 0 1 0 -12.2 0M1045.0 776.8a6.1 6.1 0 1 0 12.2 0a6.1 6.1 0 1 0 -12.2 0M1045.8 764.5a6.1 6.1 0 1 0 12.2 0a6.1 6.1 0 1 0 -12.2 0M1048.3 763.5a6.1 6.1 0 1 0 12.2 0a6.1 6.1 0 1 0 -12.2 0M1047.4 776.9a6.1 6.1 0 1 0 12.2 0a6.1 6.1 0 1 0 -12.2 0M1049.6 776.1a6.1 6.1 0 1 0 12.2 0a6.1 6.1 0 1 0 -12.2 0M1049.9 764.2a6.1 6.1 0 1 0 12.2 0a6.1 6.1 0 1 0 -12.2 0M1049.9 776.8a6.1 6.1 0 1 0 12.2 0a6.1 6.1 0 1 0 -12.2 0M1052.8 766.2a6.1 6.1 0 1 0 12.2 0a6.1 6.1 0 1 0 -12.2 0M1053.3 764.8a6.1 6.1 0 1 0 12.2 0a6.1 6.1 0 1 0 -12.2 0M1052.7 777.6a6.1 6.1 0 1 0 12.2 0a6.1 6.1 0 1 0 -12.2 0M1052.0 772.2a6.1 6.1 0 1 0 12.2 0a6.1 6.1 0 1 0 -12.2 0M1056.5 765.9a6.1 6.1 0 1 0 12.2 0a6.1 6.1 0 1 0 -12.2 0M1056.1 778.1a6.1 6.1 0 1 0 12.2 0a6.1 6.1 0 1 0 -12.2 0M1054.3 771.9a6.1 6.1 0 1 0 12.2 0a6.1 6.1 0 1 0 -12.2 0M1058.8 767.9a6.1 6.1 0 1 0 12.2 0a6.1 6.1 0 1 0 -12.2 0M1058.5 778.2a6.1 6.1 0 1 0 12.2 0a6.1 6.1 0 1 0 -12.2 0M1056.4 771.0a6.1 6.1 0 1 0 12.2 0a6.1 6.1 0 1 0 -12.2 0M1061.4 768.2a6.1 6.1 0 1 0 12.2 0a6.1 6.1 0 1 0 -12.2 0M1062.2 779.4a6.1 6.1 0 1 0 12.2 0a6.1 6.1 0 1 0 -12.2 0M1062.2 777.1a6.1 6.1 0 1 0 12.2 0a6.1 6.1 0 1 0 -12.2 0M1065.0 768.9a6.1 6.1 0 1 0 12.2 0a6.1 6.1 0 1 0 -12.2 0M1064.7 778.0a6.1 6.1 0 1 0 12.2 0a6.1 6.1 0 1 0 -12.2 0M1064.0 773.3a6.1 6.1 0 1 0 12.2 0a6.1 6.1 0 1 0 -12.2 0M1067.0 770.2a6.1 6.1 0 1 0 12.2 0a6.1 6.1 0 1 0 -12.2 0M1066.9 778.8a6.1 6.1 0 1 0 12.2 0a6.1 6.1 0 1 0 -12.2 0M1070.6 772.5a6.1 6.1 0 1 0 12.2 0a6.1 6.1 0 1 0 -12.2 0M1069.5 778.2a6.1 6.1 0 1 0 12.2 0a6.1 6.1 0 1 0 -12.2 0M1072.5 771.9a6.1 6.1 0 1 0 12.2 0a6.1 6.1 0 1 0 -12.2 0M1072.9 777.1a6.1 6.1 0 1 0 12.2 0a6.1 6.1 0 1 0 -12.2 0M1075.2 772.0a6.1 6.1 0 1 0 12.2 0a6.1 6.1 0 1 0 -12.2 0M1075.2 778.0a6.1 6.1 0 1 0 12.2 0a6.1 6.1 0 1 0 -12.2 0M1079.0 771.3a6.1 6.1 0 1 0 12.2 0a6.1 6.1 0 1 0 -12.2 0M1078.9 777.7a6.1 6.1 0 1 0 12.2 0a6.1 6.1 0 1 0 -12.2 0M1080.7 772.4a6.1 6.1 0 1 0 12.2 0a6.1 6.1 0 1 0 -12.2 0M1081.3 776.1a6.1 6.1 0 1 0 12.2 0a6.1 6.1 0 1 0 -12.2 0M1084.5 772.5a6.1 6.1 0 1 0 12.2 0a6.1 6.1 0 1 0 -12.2 0M1084.5 777.2a6.1 6.1 0 1 0 12.2 0a6.1 6.1 0 1 0 -12.2 0M1087.5 772.8a6.1 6.1 0 1 0 12.2 0a6.1 6.1 0 1 0 -12.2 0M1087.3 775.3a6.1 6.1 0 1 0 12.2 0a6.1 6.1 0 1 0 -12.2 0M1089.5 772.5a6.1 6.1 0 1 0 12.2 0a6.1 6.1 0 1 0 -12.2 0M1089.7 775.5a6.1 6.1 0 1 0 12.2 0a6.1 6.1 0 1 0 -12.2 0M1092.9 772.8a6.1 6.1 0 1 0 12.2 0a6.1 6.1 0 1 0 -12.2 0M1092.9 775.3a6.1 6.1 0 1 0 12.2 0a6.1 6.1 0 1 0 -12.2 0M1095.8 773.9a6.1 6.1 0 1 0 12.2 0a6.1 6.1 0 1 0 -12.2 0M1095.9 774.8a6.1 6.1 0 1 0 12.2 0a6.1 6.1 0 1 0 -12.2 0" stroke="#000" stroke-width="1.9" fill="none"/>
<path d="M1488.9 778.9a6.1 6.1 0 1 0 12.2 0a6.1 6.1 0 1 0 -12.2 0M1517.3 714.8a6.1 6.1 0 1 0 12.2 0a6.1 6.1 0 1 0 -12.2 0M1537.9 715.9a6.1 6.1 0 1 0 12.2 0a6.1 6.1 0 1 0 -12.2 0M1540.5 721.2a6.1 6.1 0 1 0 12.2 0a6.1 6.1 0 1 0 -12.2 0M1552.7 718.5a6.1 6.1 0 1 0 12.2 0a6.1 6.1 0 1 0 -12.2 0M1562.7 717.5a6.1 6.1 0 1 0 12.2 0a6.1 6.1 0 1 0 -12.2 0M1584.4 723.8a6.1 6.1 0 1 0 12.2 0a6.1 6.1 0 1 0 -12.2 0M1571.2 726.0a6.1 6.1 0 1 0 12.2 0a6.1 6.1 0 1 0 -12.2 0M1531.5 731.8a6.1 6.1 0 1 0 12.2 0a6.1 6.1 0 1 0 -12.2 0M1516.2 736.5a6.1 6.1 0 1 0 12.2 0a6.1 6.1 0 1 0 -12.2 0M1513.0 738.6a6.1 6.1 0 1 0 12.2 0a6.1 6.1 0 1 0 -12.2 0M1507.7 743.9a6.1 6.1 0 1 0 12.2 0a6.1 6.1 0 1 0 -12.2 0M1522.5 754.5a6.1 6.1 0 1 0 12.2 0a6.1 6.1 0 1 0 -12.2 0M1531.5 746.0a6.1 6.1 0 1 0 12.2 0a6.1 6.1 0 1 0 -12.2 0M1539.5 752.9a6.1 6.1 0 1 0 12.2 0a6.1 6.1 0 1 0 -12.2 0M1530.5 774.5a6.1 6.1 0 1 0 12.2 0a6.1 6.1 0 1 0 -12.2 0M1554.3 728.1a6.1 6.1 0 1 0 12.2 0a6.1 6.1 0 1 0 -12.2 0M1552.1 737.6a6.1 6.1 0 1 0 12.2 0a6.1 6.1 0 1 0 -12.2 0M1560.6 734.4a6.1 6.1 0 1 0 12.2 0a6.1 6.1 0 1 0 -12.2 0M1578.6 736.5a6.1 6.1 0 1 0 12.2 0a6.1 6.1 0 1 0 -12.2 0M1591.3 738.6a6.1 6.1 0 1 0 12.2 0a6.1 6.1 0 1 0 -12.2 0M1552.1 759.8a6.1 6.1 0 1 0 12.2 0a6.1 6.1 0 1 0 -12.2 0M1556.4 763.0a6.1 6.1 0 1 0 12.2 0a6.1 6.1 0 1 0 -12.2 0M1584.0 725.1a6.1 6.1 0 1 0 12.2 0a6.1 6.1 0 1 0 -12.2 0M1594.2 736.9a6.1 6.1 0 1 0 12.2 0a6.1 6.1 0 1 0 -12.2 0M1593.4 742.8a6.1 6.1 0 1 0 12.2 0a6.1 6.1 0 1 0 -12.2 0M1607.7 749.6a6.1 6.1 0 1 0 12.2 0a6.1 6.1 0 1 0 -12.2 0M1612.8 755.5a6.1 6.1 0 1 0 12.2 0a6.1 6.1 0 1 0 -12.2 0M1631.4 760.6a6.1 6.1 0 1 0 12.2 0a6.1 6.1 0 1 0 -12.2 0M1640.7 758.1a6.1 6.1 0 1 0 12.2 0a6.1 6.1 0 1 0 -12.2 0M1656.8 764.0a6.1 6.1 0 1 0 12.2 0a6.1 6.1 0 1 0 -12.2 0M1615.3 786.0a6.1 6.1 0 1 0 12.2 0a6.1 6.1 0 1 0 -12.2 0M1639.9 786.8a6.1 6.1 0 1 0 12.2 0a6.1 6.1 0 1 0 -12.2 0M1643.2 791.9a6.1 6.1 0 1 0 12.2 0a6.1 6.1 0 1 0 -12.2 0M1671.2 783.4a6.1 6.1 0 1 0 12.2 0a6.1 6.1 0 1 0 -12.2 0M1670.4 783.8a6.1 6.1 0 1 0 12.2 0a6.1 6.1 0 1 0 -12.2 0M1697.9 774.2a6.1 6.1 0 1 0 12.2 0a6.1 6.1 0 1 0 -12.2 0M1693.9 772.0a6.1 6.1 0 1 0 12.2 0a6.1 6.1 0 1 0 -12.2 0M1543.9 745.0a6.1 6.1 0 1 0 12.2 0a6.1 6.1 0 1 0 -12.2 0M1546.9 764.0a6.1 6.1 0 1 0 12.2 0a6.1 6.1 0 1 0 -12.2 0M1541.9 758.0a6.1 6.1 0 1 0 12.2 0a6.1 6.1 0 1 0 -12.2 0M1565.9 744.0a6.1 6.1 0 1 0 12.2 0a6.1 6.1 0 1 0 -12.2 0M1571.9 742.0a6.1 6.1 0 1 0 12.2 0a6.1 6.1 0 1 0 -12.2 0M1550.3 754.0a6.1 6.1 0 1 0 12.2 0a6.1 6.1 0 1 0 -12.2 0M1551.0 764.8a6.1 6.1 0 1 0 12.2 0a6.1 6.1 0 1 0 -12.2 0M1552.5 756.7a6.1 6.1 0 1 0 12.2 0a6.1 6.1 0 1 0 -12.2 0M1553.8 753.3a6.1 6.1 0 1 0 12.2 0a6.1 6.1 0 1 0 -12.2 0M1553.9 766.8a6.1 6.1 0 1 0 12.2 0a6.1 6.1 0 1 0 -12.2 0M1554.9 761.3a6.1 6.1 0 1 0 12.2 0a6.1 6.1 0 1 0 -12.2 0M1554.3 758.8a6.1 6.1 0 1 0 12.2 0a6.1 6.1 0 1 0 -12.2 0M1555.7 752.0a6.1 6.1 0 1 0 12.2 0a6.1 6.1 0 1 0 -12.2 0M1555.5 768.7a6.1 6.1 0 1 0 12.2 0a6.1 6.1 0 1 0 -12.2 0M1553.7 765.2a6.1 6.1 0 1 0 12.2 0a6.1 6.1 0 1 0 -12.2 0M1556.9 755.1a6.1 6.1 0 1 0 12.2 0a6.1 6.1 0 1 0 -12.2 0M1558.0 752.5a6.1 6.1 0 1 0 12.2 0a6.1 6.1 0 1 0 -12.2 0M1558.1 768.9a6.1 6.1 0 1 0 12.2 0a6.1 6.1 0 1 0 -12.2 0M1558.1 755.0a6.1 6.1 0 1 0 12.2 0a6.1 6.1 0 1 0 -12.2 0M1560.5 764.5a6.1 6.1 0 1 0 12.2 0a6.1 6.1 0 1 0 -12.2 0M1560.2 751.2a6.1 6.1 0 1 0 12.2 0a6.1 6.1 0 1 0 -12.2 0M1560.7 770.6a6.1 6.1 0 1 0 12.2 0a6.1 6.1 0 1 0 -12.2 0M1560.7 756.8a6.1 6.1 0 1 0 12.2 0a6.1 6.1 0 1 0 -12.2 0M1559.8 761.5a6.1 6.1 0 1 0 12.2 0a6.1 6.1 0 1 0 -12.2 0M1563.4 751.3a6.1 6.1 0 1 0 12.2 0a6.1 6.1 0 1 0 -12.2 0M1562.6 770.0a6.1 6.1 0 1 0 12.2 0a6.1 6.1 0 1 0 -12.2 0M1563.7 756.3a6.1 6.1 0 1 0 12.2 0a6.1 6.1 0 1 0 -12.2 0M1564.7 754.3a6.1 6.1 0 1 0 12.2 0a6.1 6.1 0 1 0 -12.2 0M1565.3 766.7a6.1 6.1 0 1 0 12.2 0a6.1 6.1 0 1 0 -12.2 0M1565.0 749.6a6.1 6.1 0 1 0 12.2 0a6.1 6.1 0 1 0 -12.2 0M1565.7 770.7a6.1 6.1 0 1 0 12.2 0a6.1 6.1 0 1 0 -12.2 0M1563.6 758.6a6.1 6.1 0 1 0 12.2 0a6.1 6.1 0 1 0 -12.2 0M1563.7 752.7a6.1 6.1 0 1 0 12.2 0a6.1 6.1 0 1 0 -12.2 0M1565.5 764.1a6.1 6.1 0 1 0 12.2 0a6.1 6.1 0 1 0 -12.2 0M1568.0 749.2a6.1 6.1 0 1 0 12.2 0a6.1 6.1 0 1 0 -12.2 0M1567.2 771.7a6.1 6.1 0 1 0 12.2 0a6.1 6.1 0 1 0 -12.2 0M1568.9 754.7a6.1 6.1 0 1 0 12.2 0a6.1 6.1 0 1 0 -12.2 0M1568.2 752.6a6.1 6.1 0 1 0 12.2 0a6.1 6.1 0 1 0 -12.2 0M1569.6 768.7a6.1 6.1 0 1 0 12.2 0a6.1 6.1 0 1 0 -12.2 0M1570.6 749.3a6.1 6.1 0 1 0 12.2 0a6.1 6.1 0 1 0 -12.2 0M1569.6 772.6a6.1 6.1 0 1 0 12.2 0a6.1 6.1 0 1 0 -12.2 0M1569.8 757.5a6.1 6.1 0 1 0 12.2 0a6.1 6.1 0 1 0 -12.2 0M1569.8 765.3a6.1 6.1 0 1 0 12.2 0a6.1 6.1 0 1 0 -12.2 0M1571.2 759.3a6.1 6.1 0 1 0 12.2 0a6.1 6.1 0 1 0 -12.2 0M1572.2 748.4a6.1 6.1 0 1 0 12.2 0a6.1 6.1 0 1 0 -12.2 0M1572.0 773.1a6.1 6.1 0 1 0 12.2 0a6.1 6.1 0 1 0 -12.2 0M1574.7 750.8a6.1 6.1 0 1 0 12.2 0a6.1 6.1 0 1 0 -12.2 0M1572.9 771.4a6.1 6.1 0 1 0 12.2 0a6.1 6.1 0 1 0 -12.2 0M1572.9 771.3a6.1 6.1 0 1 0 12.2 0a6.1 6.1 0 1 0 -12.2 0M1574.5 748.9a6.1 6.1 0 1 0 12.2 0a6.1 6.1 0 1 0 -12.2 0M1575.3 771.9a6.1 6.1 0 1 0 12.2 0a6.1 6.1 0 1 0 -12.2 0M1573.5 771.0a6.1 6.1 0 1 0 12.2 0a6.1 6.1 0 1 0 -12.2 0M1573.6 763.3a6.1 6.1 0 1 0 12.2 0a6.1 6.1 0 1 0 -12.2 0M1576.9 765.5a6.1 6.1 0 1 0 12.2 0a6.1 6.1 0 1 0 -12.2 0M1577.6 747.7a6.1 6.1 0 1 0 12.2 0a6.1 6.1 0 1 0 -12.2 0M1577.7 772.1a6.1 6.1 0 1 0 12.2 0a6.1 6.1 0 1 0 -12.2 0M1576.8 760.1a6.1 6.1 0 1 0 12.2 0a6.1 6.1 0 1 0 -12.2 0M1578.3 749.1a6.1 6.1 0 1 0 12.2 0a6.1 6.1 0 1 0 -12.2 0M1575.3 757.2a6.1 6.1 0 1 0 12.2 0a6.1 6.1 0 1 0 -12.2 0M1575.6 770.3a6.1 6.1 0 1 0 12.2 0a6.1 6.1 0 1 0 -12.2 0M1579.6 747.9a6.1 6.1 0 1 0 12.2 0a6.1 6.1 0 1 0 -12.2 0M1579.6 773.7a6.1 6.1 0 1 0 12.2 0a6.1 6.1 0 1 0 -12.2 0M1581.7 770.3a6.1 6.1 0 1 0 12.2 0a6.1 6.1 0 1 0 -12.2 0M1577.7 763.1a6.1 6.1 0 1 0 12.2 0a6.1 6.1 0 1 0 -12.2 0M1581.0 770.7a6.1 6.1 0 1 0 12.2 0a6.1 6.1 0 1 0 -12.2 0M1580.0 759.6a6.1 6.1 0 1 0 12.2 0a6.1 6.1 0 1 0 -12.2 0M1581.7 750.8a6.1 6.1 0 1 0 12.2 0a6.1 6.1 0 1 0 -12.2 0M1581.5 772.9a6.1 6.1 0 1 0 12.2 0a6.1 6.1 0 1 0 -12.2 0M1583.2 760.4a6.1 6.1 0 1 0 12.2 0a6.1 6.1 0 1 0 -12.2 0M1582.3 757.7a6.1 6.1 0 1 0 12.2 0a6.1 6.1 0 1 0 -12.2 0M1584.4 771.3a6.1 6.1 0 1 0 12.2 0a6.1 6.1 0 1 0 -12.2 0M1584.2 751.9a6.1 6.1 0 1 0 12.2 0a6.1 6.1 0 1 0 -12.2 0M1584.0 773.3a6.1 6.1 0 1 0 12.2 0a6.1 6.1 0 1 0 -12.2 0M1583.3 767.5a6.1 6.1 0 1 0 12.2 0a6.1 6.1 0 1 0 -12.2 0M1583.6 766.7a6.1 6.1 0 1 0 12.2 0a6.1 6.1 0 1 0 -12.2 0M1582.2 767.1a6.1 6.1 0 1 0 12.2 0a6.1 6.1 0 1 0 -12.2 0M1587.1 751.8a6.1 6.1 0 1 0 12.2 0a6.1 6.1 0 1 0 -12.2 0M1587.2 774.4a6.1 6.1 0 1 0 12.2 0a6.1 6.1 0 1 0 -12.2 0M1588.8 767.0a6.1 6.1 0 1 0 12.2 0a6.1 6.1 0 1 0 -12.2 0M1586.6 764.7a6.1 6.1 0 1 0 12.2 0a6.1 6.1 0 1 0 -12.2 0M1588.2 759.1a6.1 6.1 0 1 0 12.2 0a6.1 6.1 0 1 0 -12.2 0M1589.8 752.7a6.1 6.1 0 1 0 12.2 0a6.1 6.1 0 1 0 -12.2 0M1589.5 774.5a6.1 6.1 0 1 0 12.2 0a6.1 6.1 0 1 0 -12.2 0M1587.1 769.7a6.1 6.1 0 1 0 12.2 0a6.1 6.1 0 1 0 -12.2 0M1589.0 767.0a6.1 6.1 0 1 0 12.2 0a6.1 6.1 0 1 0 -12.2 0M1590.0 761.4a6.1 6.1 0 1 0 12.2 0a6.1 6.1 0 1 0 -12.2 0M1592.0 752.8a6.1 6.1 0 1 0 12.2 0a6.1 6.1 0 1 0 -12.2 0M1592.3 773.5a6.1 6.1 0 1 0 12.2 0a6.1 6.1 0 1 0 -12.2 0M1593.7 769.2a6.1 6.1 0 1 0 12.2 0a6.1 6.1 0 1 0 -12.2 0M1592.2 768.9a6.1 6.1 0 1 0 12.2 0a6.1 6.1 0 1 0 -12.2 0M1591.0 761.2a6.1 6.1 0 1 0 12.2 0a6.1 6.1 0 1 0 -12.2 0M1593.5 752.9a6.1 6.1 0 1 0 12.2 0a6.1 6.1 0 1 0 -12.2 0M1594.5 774.8a6.1 6.1 0 1 0 12.2 0a6.1 6.1 0 1 0 -12.2 0M1594.6 770.6a6.1 6.1 0 1 0 12.2 0a6.1 6.1 0 1 0 -12.2 0M1592.5 765.0a6.1 6.1 0 1 0 12.2 0a6.1 6.1 0 1 0 -12.2 0M1595.2 765.3a6.1 6.1 0 1 0 12.2 0a6.1 6.1 0 1 0 -12.2 0M1597.1 751.7a6.1 6.1 0 1 0 12.2 0a6.1 6.1 0 1 0 -12.2 0M1596.7 775.8a6.1 6.1 0 1 0 12.2 0a6.1 6.1 0 1 0 -12.2 0M1596.0 773.6a6.1 6.1 0 1 0 12.2 0a6.1 6.1 0 1 0 -12.2 0M1596.1 755.8a6.1 6.1 0 1 0 12.2 0a6.1 6.1 0 1 0 -12.2 0M1594.9 761.3a6.1 6.1 0 1 0 12.2 0a6.1 6.1 0 1 0 -12.2 0M1599.5 752.9a6.1 6.1 0 1 0 12.2 0a6.1 6.1 0 1 0 -12.2 0M1599.4 776.1a6.1 6.1 0 1 0 12.2 0a6.1 6.1 0 1 0 -12.2 0M1598.9 767.2a6.1 6.1 0 1 0 12.2 0a6.1 6.1 0 1 0 -12.2 0M1599.4 774.4a6.1 6.1 0 1 0 12.2 0a6.1 6.1 0 1 0 -12.2 0M1598.4 761.5a6.1 6.1 0 1 0 12.2 0a6.1 6.1 0 1 0 -12.2 0M1601.6 754.0a6.1 6.1 0 1 0 12.2 0a6.1 6.1 0 1 0 -12.2 0M1601.6 775.6a6.1 6.1 0 1 0 12.2 0a6.1 6.1 0 1 0 -12.2 0M1601.9 759.7a6.1 6.1 0 1 0 12.2 0a6.1 6.1 0 1 0 -12.2 0M1600.2 759.4a6.1 6.1 0 1 0 12.2 0a6.1 6.1 0 1 0 -12.2 0M1598.9 756.4a6.1 6.1 0 1 0 12.2 0a6.1 6.1 0 1 0 -12.2 0M1603.9 755.6a6.1 6.1 0 1 0 12.2 0a6.1 6.1 0 1 0 -12.2 0M1603.2 777.5a6.1 6.1 0 1 0 12.2 0a6.1 6.1 0 1 0 -12.2 0M1603.5 771.9a6.1 6.1 0 1 0 12.2 0a6.1 6.1 0 1 0 -12.2 0M1601.5 757.1a6.1 6.1 0 1 0 12.2 0a6.1 6.1 0 1 0 -12.2 0M1605.2 757.4a6.1 6.1 0 1 0 12.2 0a6.1 6.1 0 1 0 -12.2 0M1603.3 755.5a6.1 6.1 0 1 0 12.2 0a6.1 6.1 0 1 0 -12.2 0M1603.4 776.6a6.1 6.1 0 1 0 12.2 0a6.1 6.1 0 1 0 -12.2 0M1605.7 757.9a6.1 6.1 0 1 0 12.2 0a6.1 6.1 0 1 0 -12.2 0M1605.8 774.6a6.1 6.1 0 1 0 12.2 0a6.1 6.1 0 1 0 -12.2 0M1607.3 757.3a6.1 6.1 0 1 0 12.2 0a6.1 6.1 0 1 0 -12.2 0M1607.1 776.7a6.1 6.1 0 1 0 12.2 0a6.1 6.1 0 1 0 -12.2 0M1607.1 774.6a6.1 6.1 0 1 0 12.2 0a6.1 6.1 0 1 0 -12.2 0M1608.7 760.8a6.1 6.1 0 1 0 12.2 0a6.1 6.1 0 1 0 -12.2 0M1609.9 758.8a6.1 6.1 0 1 0 12.2 0a6.1 6.1 0 1 0 -12.2 0M1609.5 778.8a6.1 6.1 0 1 0 12.2 0a6.1 6.1 0 1 0 -12.2 0M1610.4 765.4a6.1 6.1 0 1 0 12.2 0a6.1 6.1 0 1 0 -12.2 0M1611.5 776.7a6.1 6.1 0 1 0 12.2 0a6.1 6.1 0 1 0 -12.2 0M1612.7 759.9a6.1 6.1 0 1 0 12.2 0a6.1 6.1 0 1 0 -12.2 0M1611.7 779.5a6.1 6.1 0 1 0 12.2 0a6.1 6.1 0 1 0 -12.2 0M1610.1 762.6a6.1 6.1 0 1 0 12.2 0a6.1 6.1 0 1 0 -12.2 0M1614.4 761.9a6.1 6.1 0 1 0 12.2 0a6.1 6.1 0 1 0 -12.2 0M1614.8 761.8a6.1 6.1 0 1 0 12.2 0a6.1 6.1 0 1 0 -12.2 0M1615.6 781.3a6.1 6.1 0 1 0 12.2 0a6.1 6.1 0 1 0 -12.2 0M1616.7 770.6a6.1 6.1 0 1 0 12.2 0a6.1 6.1 0 1 0 -12.2 0M1613.0 779.6a6.1 6.1 0 1 0 12.2 0a6.1 6.1 0 1 0 -12.2 0M1617.6 763.8a6.1 6.1 0 1 0 12.2 0a6.1 6.1 0 1 0 -12.2 0M1618.2 780.6a6.1 6.1 0 1 0 12.2 0a6.1 6.1 0 1 0 -12.2 0M1620.1 779.3a6.1 6.1 0 1 0 12.2 0a6.1 6.1 0 1 0 -12.2 0M1617.1 775.5a6.1 6.1 0 1 0 12.2 0a6.1 6.1 0 1 0 -12.2 0M1620.2 764.6a6.1 6.1 0 1 0 12.2 0a6.1 6.1 0 1 0 -12.2 0M1620.9 779.6a6.1 6.1 0 1 0 12.2 0a6.1 6.1 0 1 0 -12.2 0M1620.0 776.2a6.1 6.1 0 1 0 12.2 0a6.1 6.1 0 1 0 -12.2 0M1619.1 778.6a6.1 6.1 0 1 0 12.2 0a6.1 6.1 0 1 0 -12.2 0M1623.1 764.3a6.1 6.1 0 1 0 12.2 0a6.1 6.1 0 1 0 -12.2 0M1623.6 779.0a6.1 6.1 0 1 0 12.2 0a6.1 6.1 0 1 0 -12.2 0M1625.4 770.1a6.1 6.1 0 1 0 12.2 0a6.1 6.1 0 1 0 -12.2 0M1621.4 774.5a6.1 6.1 0 1 0 12.2 0a6.1 6.1 0 1 0 -12.2 0M1626.2 765.0a6.1 6.1 0 1 0 12.2 0a6.1 6.1 0 1 0 -12.2 0M1625.8 779.0a6.1 6.1 0 1 0 12.2 0a6.1 6.1 0 1 0 -12.2 0M1625.2 772.5a6.1 6.1 0 1 0 12.2 0a6.1 6.1 0 1 0 -12.2 0M1624.6 768.1a6.1 6.1 0 1 0 12.2 0a6.1 6.1 0 1 0 -12.2 0M1629.5 764.3a6.1 6.1 0 1 0 12.2 0a6.1 6.1 0 1 0 -12.2 0M1628.9 781.5a6.1 6.1 0 1 0 12.2 0a6.1 6.1 0 1 0 -12.2 0M1631.9 777.0a6.1 6.1 0 1 0 12.2 0a6.1 6.1 0 1 0 -12.2 0M1627.1 776.9a6.1 6.1 0 1 0 12.2 0a6.1 6.1 0 1 0 -12.2 0M1631.4 765.3a6.1 6.1 0 1 0 12.2 0a6.1 6.1 0 1 0 -12.2 0M1631.6 781.3a6.1 6.1 0 1 0 12.2 0a6.1 6.1 0 1 0 -12.2 0M1631.5 767.4a6.1 6.1 0 1 0 12.2 0a6.1 6.1 0 1 0 -12.2 0M1632.8 778.6a6.1 6.1 0 1 0 12.2 0a6.1 6.1 0 1 0 -12.2 0M1634.9 765.7a6.1 6.1 0 1 0 12.2 0a6.1 6.1 0 1 0 -12.2 0M1634.3 782.4a6.1 6.1 0 1 0 12.2 0a6.1 6.1 0 1 0 -12.2 0M1636.6 771.0a6.1 6.1 0 1 0 12.2 0a6.1 6.1 0 1 0 -12.2 0M1636.1 775.1a6.1 6.1 0 1 0 12.2 0a6.1 6.1 0 1 0 -12.2 0M1637.1 765.4a6.1 6.1 0 1 0 12.2 0a6.1 6.1 0 1 0 -12.2 0M1638.0 784.5a6.1 6.1 0 1 0 12.2 0a6.1 6.1 0 1 0 -12.2 0M1638.0 766.4a6.1 6.1 0 1 0 12.2 0a6.1 6.1 0 1 0 -12.2 0M1634.8 782.4a6.1 6.1 0 1 0 12.2 0a6.1 6.1 0 1 0 -12.2 0M1640.7 766.9a6.1 6.1 0 1 0 12.2 0a6.1 6.1 0 1 0 -12.2 0M1640.0 785.5a6.1 6.1 0 1 0 12.2 0a6.1 6.1 0 1 0 -12.2 0M1637.9 779.0a6.1 6.1 0 1 0 12.2 0a6.1 6.1 0 1 0 -12.2 0M1641.4 773.4a6.1 6.1 0 1 0 12.2 0a6.1 6.1 0 1 0 -12.2 0M1643.5 766.7a6.1 6.1 0 1 0 12.2 0a6.1 6.1 0 1 0 -12.2 0M1643.7 785.5a6.1 6.1 0 1 0 12.2 0a6.1 6.1 0 1 0 -12.2 0M1642.2 773.2a6.1 6.1 0 1 0 12.2 0a6.1 6.1 0 1 0 -12.2 0M1644.8 773.4a6.1 6.1 0 1 0 12.2 0a6.1 6.1 0 1 0 -12.2 0M1646.0 768.4a6.1 6.1 0 1 0 12.2 0a6.1 6.1 0 1 0 -12.2 0M1646.4 784.3a6.1 6.1 0 1 0 12.2 0a6.1 6.1 0 1 0 -12.2 0M1644.6 773.7a6.1 6.1 0 1 0 12.2 0a6.1 6.1 0 1 0 -12.2 0M1643.5 780.6a6.1 6.1 0 1 0 12.2 0a6.1 6.1 0 1 0 -12.2 0M1649.1 768.2a6.1 6.1 0 1 0 12.2 0a6.1 6.1 0 1 0 -12.2 0M1648.7 782.7a6.1 6.1 0 1 0 12.2 0a6.1 6.1 0 1 0 -12.2 0M1647.5 769.4a6.1 6.1 0 1 0 12.2 0a6.1 6.1 0 1 0 -12.2 0M1651.6 769.7a6.1 6.1 0 1 0 12.2 0a6.1 6.1 0 1 0 -12.2 0M1651.1 782.7a6.1 6.1 0 1 0 12.2 0a6.1 6.1 0 1 0 -12.2 0M1653.0 776.0a6.1 6.1 0 1 0 12.2 0a6.1 6.1 0 1 0 -12.2 0M1654.7 768.5a6.1 6.1 0 1 0 12.2 0a6.1 6.1 0 1 0 -12.2 0M1654.4 780.9a6.1 6.1 0 1 0 12.2 0a6.1 6.1 0 1 0 -12.2 0M1652.4 776.2a6.1 6.1 0 1 0 12.2 0a6.1 6.1 0 1 0 -12.2 0M1657.5 768.3a6.1 6.1 0 1 0 12.2 0a6.1 6.1 0 1 0 -12.2 0M1657.6 781.2a6.1 6.1 0 1 0 12.2 0a6.1 6.1 0 1 0 -12.2 0M1656.6 778.2a6.1 6.1 0 1 0 12.2 0a6.1 6.1 0 1 0 -12.2 0M1660.4 769.2a6.1 6.1 0 1 0 12.2 0a6.1 6.1 0 1 0 -12.2 0M1660.1 780.1a6.1 6.1 0 1 0 12.2 0a6.1 6.1 0 1 0 -12.2 0M1658.8 775.2a6.1 6.1 0 1 0 12.2 0a6.1 6.1 0 1 0 -12.2 0M1662.1 768.6a6.1 6.1 0 1 0 12.2 0a6.1 6.1 0 1 0 -12.2 0M1663.0 779.6a6.1 6.1 0 1 0 12.2 0a6.1 6.1 0 1 0 -12.2 0M1663.5 772.5a6.1 6.1 0 1 0 12.2 0a6.1 6.1 0 1 0 -12.2 0M1665.1 769.3a6.1 6.1 0 1 0 12.2 0a6.1 6.1 0 1 0 -12.2 0M1665.3 779.1a6.1 6.1 0 1 0 12.2 0a6.1 6.1 0 1 0 -12.2 0M1664.4 778.5a6.1 6.1 0 1 0 12.2 0a6.1 6.1 0 1 0 -12.2 0M1668.4 770.1a6.1 6.1 0 1 0 12.2 0a6.1 6.1 0 1 0 -12.2 0M1668.0 778.4a6.1 6.1 0 1 0 12.2 0a6.1 6.1 0 1 0 -12.2 0M1670.0 773.1a6.1 6.1 0 1 0 12.2 0a6.1 6.1 0 1 0 -12.2 0M1670.7 770.5a6.1 6.1 0 1 0 12.2 0a6.1 6.1 0 1 0 -12.2 0M1671.3 778.8a6.1 6.1 0 1 0 12.2 0a6.1 6.1 0 1 0 -12.2 0M1674.3 771.2a6.1 6.1 0 1 0 12.2 0a6.1 6.1 0 1 0 -12.2 0M1673.5 777.8a6.1 6.1 0 1 0 12.2 0a6.1 6.1 0 1 0 -12.2 0M1676.1 771.7a6.1 6.1 0 1 0 12.2 0a6.1 6.1 0 1 0 -12.2 0M1677.3 776.0a6.1 6.1 0 1 0 12.2 0a6.1 6.1 0 1 0 -12.2 0M1679.5 771.3a6.1 6.1 0 1 0 12.2 0a6.1 6.1 0 1 0 -12.2 0M1679.4 775.1a6.1 6.1 0 1 0 12.2 0a6.1 6.1 0 1 0 -12.2 0M1682.4 772.2a6.1 6.1 0 1 0 12.2 0a6.1 6.1 0 1 0 -12.2 0M1681.9 774.3a6.1 6.1 0 1 0 12.2 0a6.1 6.1 0 1 0 -12.2 0M1684.8 771.6a6.1 6.1 0 1 0 12.2 0a6.1 6.1 0 1 0 -12.2 0M1685.0 774.9a6.1 6.1 0 1 0 12.2 0a6.1 6.1 0 1 0 -12.2 0M1687.9 771.2a6.1 6.1 0 1 0 12.2 0a6.1 6.1 0 1 0 -12.2 0M1687.3 774.1a6.1 6.1 0 1 0 12.2 0a6.1 6.1 0 1 0 -12.2 0M1690.3 772.7a6.1 6.1 0 1 0 12.2 0a6.1 6.1 0 1 0 -12.2 0M1691.0 774.5a6.1 6.1 0 1 0 12.2 0a6.1 6.1 0 1 0 -12.2 0M1693.6 772.5a6.1 6.1 0 1 0 12.2 0a6.1 6.1 0 1 0 -12.2 0M1693.9 773.2a6.1 6.1 0 1 0 12.2 0a6.1 6.1 0 1 0 -12.2 0M1695.9 772.7a6.1 6.1 0 1 0 12.2 0a6.1 6.1 0 1 0 -12.2 0M1696.2 775.0a6.1 6.1 0 1 0 12.2 0a6.1 6.1 0 1 0 -12.2 0" stroke="#000" stroke-width="1.9" fill="none"/>
<path d="M172.3 302.3a3.0 3.0 0 1 0 6.0 0a3.0 3.0 0 1 0 -6.0 0M179.9 295.5a3.0 3.0 0 1 0 6.0 0a3.0 3.0 0 1 0 -6.0 0M184.6 308.8a3.0 3.0 0 1 0 6.0 0a3.0 3.0 0 1 0 -6.0 0M192.6 306.6a3.0 3.0 0 1 0 6.0 0a3.0 3.0 0 1 0 -6.0 0M194.0 307.2a3.0 3.0 0 1 0 6.0 0a3.0 3.0 0 1 0 -6.0 0M207.5 320.4a3.0 3.0 0 1 0 6.0 0a3.0 3.0 0 1 0 -6.0 0M212.1 317.4a3.0 3.0 0 1 0 6.0 0a3.0 3.0 0 1 0 -6.0 0M215.5 315.7a3.0 3.0 0 1 0 6.0 0a3.0 3.0 0 1 0 -6.0 0M221.9 311.0a3.0 3.0 0 1 0 6.0 0a3.0 3.0 0 1 0 -6.0 0M221.5 296.6a3.0 3.0 0 1 0 6.0 0a3.0 3.0 0 1 0 -6.0 0M232.9 305.1a3.0 3.0 0 1 0 6.0 0a3.0 3.0 0 1 0 -6.0 0M238.0 322.9a3.0 3.0 0 1 0 6.0 0a3.0 3.0 0 1 0 -6.0 0M247.8 298.6a3.0 3.0 0 1 0 6.0 0a3.0 3.0 0 1 0 -6.0 0M250.3 318.3a3.0 3.0 0 1 0 6.0 0a3.0 3.0 0 1 0 -6.0 0M249.0 337.8a3.0 3.0 0 1 0 6.0 0a3.0 3.0 0 1 0 -6.0 0M255.0 302.1a3.0 3.0 0 1 0 6.0 0a3.0 3.0 0 1 0 -6.0 0M253.7 304.7a3.0 3.0 0 1 0 6.0 0a3.0 3.0 0 1 0 -6.0 0M255.4 311.0a3.0 3.0 0 1 0 6.0 0a3.0 3.0 0 1 0 -6.0 0M260.1 313.6a3.0 3.0 0 1 0 6.0 0a3.0 3.0 0 1 0 -6.0 0M260.5 320.0a3.0 3.0 0 1 0 6.0 0a3.0 3.0 0 1 0 -6.0 0M264.3 305.5a3.0 3.0 0 1 0 6.0 0a3.0 3.0 0 1 0 -6.0 0M272.4 312.3a3.0 3.0 0 1 0 6.0 0a3.0 3.0 0 1 0 -6.0 0M275.3 316.6a3.0 3.0 0 1 0 6.0 0a3.0 3.0 0 1 0 -6.0 0M280.4 314.0a3.0 3.0 0 1 0 6.0 0a3.0 3.0 0 1 0 -6.0 0M279.6 295.4a3.0 3.0 0 1 0 6.0 0a3.0 3.0 0 1 0 -6.0 0M282.1 292.8a3.0 3.0 0 1 0 6.0 0a3.0 3.0 0 1 0 -6.0 0M294.8 299.2a3.0 3.0 0 1 0 6.0 0a3.0 3.0 0 1 0 -6.0 0M296.5 308.5a3.0 3.0 0 1 0 6.0 0a3.0 3.0 0 1 0 -6.0 0M298.2 314.9a3.0 3.0 0 1 0 6.0 0a3.0 3.0 0 1 0 -6.0 0M302.9 308.9a3.0 3.0 0 1 0 6.0 0a3.0 3.0 0 1 0 -6.0 0M304.6 320.8a3.0 3.0 0 1 0 6.0 0a3.0 3.0 0 1 0 -6.0 0M312.3 301.4a3.0 3.0 0 1 0 6.0 0a3.0 3.0 0 1 0 -6.0 0M308.0 304.8a3.0 3.0 0 1 0 6.0 0a3.0 3.0 0 1 0 -6.0 0M309.7 311.6a3.0 3.0 0 1 0 6.0 0a3.0 3.0 0 1 0 -6.0 0M325.0 310.7a3.0 3.0 0 1 0 6.0 0a3.0 3.0 0 1 0 -6.0 0M322.4 310.7a3.0 3.0 0 1 0 6.0 0a3.0 3.0 0 1 0 -6.0 0M331.4 303.9a3.0 3.0 0 1 0 6.0 0a3.0 3.0 0 1 0 -6.0 0M341.5 309.0a3.0 3.0 0 1 0 6.0 0a3.0 3.0 0 1 0 -6.0 0M346.2 313.3a3.0 3.0 0 1 0 6.0 0a3.0 3.0 0 1 0 -6.0 0M349.6 314.1a3.0 3.0 0 1 0 6.0 0a3.0 3.0 0 1 0 -6.0 0M354.7 314.5a3.0 3.0 0 1 0 6.0 0a3.0 3.0 0 1 0 -6.0 0M347.9 332.8a3.0 3.0 0 1 0 6.0 0a3.0 3.0 0 1 0 -6.0 0M361.5 304.8a3.0 3.0 0 1 0 6.0 0a3.0 3.0 0 1 0 -6.0 0M364.9 309.9a3.0 3.0 0 1 0 6.0 0a3.0 3.0 0 1 0 -6.0 0M369.1 303.9a3.0 3.0 0 1 0 6.0 0a3.0 3.0 0 1 0 -6.0 0M372.5 304.8a3.0 3.0 0 1 0 6.0 0a3.0 3.0 0 1 0 -6.0 0M381.0 313.3a3.0 3.0 0 1 0 6.0 0a3.0 3.0 0 1 0 -6.0 0M384.4 305.6a3.0 3.0 0 1 0 6.0 0a3.0 3.0 0 1 0 -6.0 0M387.8 310.7a3.0 3.0 0 1 0 6.0 0a3.0 3.0 0 1 0 -6.0 0M393.7 303.9a3.0 3.0 0 1 0 6.0 0a3.0 3.0 0 1 0 -6.0 0M402.2 302.2a3.0 3.0 0 1 0 6.0 0a3.0 3.0 0 1 0 -6.0 0M404.7 312.4a3.0 3.0 0 1 0 6.0 0a3.0 3.0 0 1 0 -6.0 0M410.7 300.5a3.0 3.0 0 1 0 6.0 0a3.0 3.0 0 1 0 -6.0 0M529.6 299.3a3.0 3.0 0 1 0 6.0 0a3.0 3.0 0 1 0 -6.0 0M536.0 304.8a3.0 3.0 0 1 0 6.0 0a3.0 3.0 0 1 0 -6.0 0M544.5 300.1a3.0 3.0 0 1 0 6.0 0a3.0 3.0 0 1 0 -6.0 0M509.0 303.0a3.0 3.0 0 1 0 6.0 0a3.0 3.0 0 1 0 -6.0 0M514.0 306.0a3.0 3.0 0 1 0 6.0 0a3.0 3.0 0 1 0 -6.0 0M518.0 303.5a3.0 3.0 0 1 0 6.0 0a3.0 3.0 0 1 0 -6.0 0M521.0 307.5a3.0 3.0 0 1 0 6.0 0a3.0 3.0 0 1 0 -6.0 0M368.8 301.3a3.0 3.0 0 1 0 6.0 0a3.0 3.0 0 1 0 -6.0 0M368.7 305.5a3.0 3.0 0 1 0 6.0 0a3.0 3.0 0 1 0 -6.0 0M373.3 300.8a3.0 3.0 0 1 0 6.0 0a3.0 3.0 0 1 0 -6.0 0M372.5 305.1a3.0 3.0 0 1 0 6.0 0a3.0 3.0 0 1 0 -6.0 0M377.0 300.5a3.0 3.0 0 1 0 6.0 0a3.0 3.0 0 1 0 -6.0 0M376.6 304.7a3.0 3.0 0 1 0 6.0 0a3.0 3.0 0 1 0 -6.0 0M381.1 301.5a3.0 3.0 0 1 0 6.0 0a3.0 3.0 0 1 0 -6.0 0M380.7 304.6a3.0 3.0 0 1 0 6.0 0a3.0 3.0 0 1 0 -6.0 0M385.2 301.4a3.0 3.0 0 1 0 6.0 0a3.0 3.0 0 1 0 -6.0 0M385.6 305.3a3.0 3.0 0 1 0 6.0 0a3.0 3.0 0 1 0 -6.0 0M388.8 301.4a3.0 3.0 0 1 0 6.0 0a3.0 3.0 0 1 0 -6.0 0M388.5 305.4a3.0 3.0 0 1 0 6.0 0a3.0 3.0 0 1 0 -6.0 0M392.5 300.9a3.0 3.0 0 1 0 6.0 0a3.0 3.0 0 1 0 -6.0 0M393.0 305.1a3.0 3.0 0 1 0 6.0 0a3.0 3.0 0 1 0 -6.0 0M396.6 300.7a3.0 3.0 0 1 0 6.0 0a3.0 3.0 0 1 0 -6.0 0M397.4 305.2a3.0 3.0 0 1 0 6.0 0a3.0 3.0 0 1 0 -6.0 0M401.1 300.7a3.0 3.0 0 1 0 6.0 0a3.0 3.0 0 1 0 -6.0 0M401.3 305.0a3.0 3.0 0 1 0 6.0 0a3.0 3.0 0 1 0 -6.0 0M405.1 301.5a3.0 3.0 0 1 0 6.0 0a3.0 3.0 0 1 0 -6.0 0M405.6 304.7a3.0 3.0 0 1 0 6.0 0a3.0 3.0 0 1 0 -6.0 0M409.4 301.4a3.0 3.0 0 1 0 6.0 0a3.0 3.0 0 1 0 -6.0 0M408.8 305.1a3.0 3.0 0 1 0 6.0 0a3.0 3.0 0 1 0 -6.0 0M413.1 301.5a3.0 3.0 0 1 0 6.0 0a3.0 3.0 0 1 0 -6.0 0M412.9 305.7a3.0 3.0 0 1 0 6.0 0a3.0 3.0 0 1 0 -6.0 0M417.3 300.6a3.0 3.0 0 1 0 6.0 0a3.0 3.0 0 1 0 -6.0 0M417.5 304.6a3.0 3.0 0 1 0 6.0 0a3.0 3.0 0 1 0 -6.0 0M420.6 301.2a3.0 3.0 0 1 0 6.0 0a3.0 3.0 0 1 0 -6.0 0M420.5 305.1a3.0 3.0 0 1 0 6.0 0a3.0 3.0 0 1 0 -6.0 0M424.6 301.0a3.0 3.0 0 1 0 6.0 0a3.0 3.0 0 1 0 -6.0 0M425.4 305.7a3.0 3.0 0 1 0 6.0 0a3.0 3.0 0 1 0 -6.0 0M428.4 300.5a3.0 3.0 0 1 0 6.0 0a3.0 3.0 0 1 0 -6.0 0M429.4 304.7a3.0 3.0 0 1 0 6.0 0a3.0 3.0 0 1 0 -6.0 0M431.7 300.3a3.0 3.0 0 1 0 6.0 0a3.0 3.0 0 1 0 -6.0 0M431.5 304.0a3.0 3.0 0 1 0 6.0 0a3.0 3.0 0 1 0 -6.0 0M434.6 301.1a3.0 3.0 0 1 0 6.0 0a3.0 3.0 0 1 0 -6.0 0M434.6 305.0a3.0 3.0 0 1 0 6.0 0a3.0 3.0 0 1 0 -6.0 0M437.0 300.7a3.0 3.0 0 1 0 6.0 0a3.0 3.0 0 1 0 -6.0 0M437.0 305.2a3.0 3.0 0 1 0 6.0 0a3.0 3.0 0 1 0 -6.0 0M439.4 300.5a3.0 3.0 0 1 0 6.0 0a3.0 3.0 0 1 0 -6.0 0M438.7 305.1a3.0 3.0 0 1 0 6.0 0a3.0 3.0 0 1 0 -6.0 0M441.7 300.6a3.0 3.0 0 1 0 6.0 0a3.0 3.0 0 1 0 -6.0 0M441.7 304.7a3.0 3.0 0 1 0 6.0 0a3.0 3.0 0 1 0 -6.0 0M444.0 300.3a3.0 3.0 0 1 0 6.0 0a3.0 3.0 0 1 0 -6.0 0M443.8 304.5a3.0 3.0 0 1 0 6.0 0a3.0 3.0 0 1 0 -6.0 0M446.0 301.3a3.0 3.0 0 1 0 6.0 0a3.0 3.0 0 1 0 -6.0 0M446.3 304.8a3.0 3.0 0 1 0 6.0 0a3.0 3.0 0 1 0 -6.0 0M449.1 301.1a3.0 3.0 0 1 0 6.0 0a3.0 3.0 0 1 0 -6.0 0M449.1 304.9a3.0 3.0 0 1 0 6.0 0a3.0 3.0 0 1 0 -6.0 0M450.9 301.4a3.0 3.0 0 1 0 6.0 0a3.0 3.0 0 1 0 -6.0 0M450.8 305.1a3.0 3.0 0 1 0 6.0 0a3.0 3.0 0 1 0 -6.0 0M454.0 301.2a3.0 3.0 0 1 0 6.0 0a3.0 3.0 0 1 0 -6.0 0M453.1 304.1a3.0 3.0 0 1 0 6.0 0a3.0 3.0 0 1 0 -6.0 0M456.4 300.8a3.0 3.0 0 1 0 6.0 0a3.0 3.0 0 1 0 -6.0 0M455.8 305.2a3.0 3.0 0 1 0 6.0 0a3.0 3.0 0 1 0 -6.0 0M457.8 300.8a3.0 3.0 0 1 0 6.0 0a3.0 3.0 0 1 0 -6.0 0M458.3 304.2a3.0 3.0 0 1 0 6.0 0a3.0 3.0 0 1 0 -6.0 0M460.7 301.0a3.0 3.0 0 1 0 6.0 0a3.0 3.0 0 1 0 -6.0 0M461.3 304.0a3.0 3.0 0 1 0 6.0 0a3.0 3.0 0 1 0 -6.0 0M463.2 300.3a3.0 3.0 0 1 0 6.0 0a3.0 3.0 0 1 0 -6.0 0M463.6 304.1a3.0 3.0 0 1 0 6.0 0a3.0 3.0 0 1 0 -6.0 0M465.0 300.7a3.0 3.0 0 1 0 6.0 0a3.0 3.0 0 1 0 -6.0 0M465.9 304.4a3.0 3.0 0 1 0 6.0 0a3.0 3.0 0 1 0 -6.0 0M467.6 301.2a3.0 3.0 0 1 0 6.0 0a3.0 3.0 0 1 0 -6.0 0M468.4 305.0a3.0 3.0 0 1 0 6.0 0a3.0 3.0 0 1 0 -6.0 0M470.2 300.7a3.0 3.0 0 1 0 6.0 0a3.0 3.0 0 1 0 -6.0 0M470.1 304.7a3.0 3.0 0 1 0 6.0 0a3.0 3.0 0 1 0 -6.0 0M472.6 300.6a3.0 3.0 0 1 0 6.0 0a3.0 3.0 0 1 0 -6.0 0M473.1 305.1a3.0 3.0 0 1 0 6.0 0a3.0 3.0 0 1 0 -6.0 0M475.3 300.3a3.0 3.0 0 1 0 6.0 0a3.0 3.0 0 1 0 -6.0 0M475.4 304.5a3.0 3.0 0 1 0 6.0 0a3.0 3.0 0 1 0 -6.0 0M478.2 301.1a3.0 3.0 0 1 0 6.0 0a3.0 3.0 0 1 0 -6.0 0M478.0 304.8a3.0 3.0 0 1 0 6.0 0a3.0 3.0 0 1 0 -6.0 0M480.0 301.3a3.0 3.0 0 1 0 6.0 0a3.0 3.0 0 1 0 -6.0 0M480.4 304.3a3.0 3.0 0 1 0 6.0 0a3.0 3.0 0 1 0 -6.0 0M482.0 300.6a3.0 3.0 0 1 0 6.0 0a3.0 3.0 0 1 0 -6.0 0M482.4 304.1a3.0 3.0 0 1 0 6.0 0a3.0 3.0 0 1 0 -6.0 0M484.6 300.9a3.0 3.0 0 1 0 6.0 0a3.0 3.0 0 1 0 -6.0 0M484.3 305.0a3.0 3.0 0 1 0 6.0 0a3.0 3.0 0 1 0 -6.0 0M487.4 300.6a3.0 3.0 0 1 0 6.0 0a3.0 3.0 0 1 0 -6.0 0M487.0 304.4a3.0 3.0 0 1 0 6.0 0a3.0 3.0 0 1 0 -6.0 0M489.4 301.1a3.0 3.0 0 1 0 6.0 0a3.0 3.0 0 1 0 -6.0 0M489.6 304.6a3.0 3.0 0 1 0 6.0 0a3.0 3.0 0 1 0 -6.0 0M491.6 301.3a3.0 3.0 0 1 0 6.0 0a3.0 3.0 0 1 0 -6.0 0M491.8 304.4a3.0 3.0 0 1 0 6.0 0a3.0 3.0 0 1 0 -6.0 0M493.9 301.4a3.0 3.0 0 1 0 6.0 0a3.0 3.0 0 1 0 -6.0 0M494.4 305.1a3.0 3.0 0 1 0 6.0 0a3.0 3.0 0 1 0 -6.0 0M497.3 301.4a3.0 3.0 0 1 0 6.0 0a3.0 3.0 0 1 0 -6.0 0M497.2 305.1a3.0 3.0 0 1 0 6.0 0a3.0 3.0 0 1 0 -6.0 0M499.7 301.2a3.0 3.0 0 1 0 6.0 0a3.0 3.0 0 1 0 -6.0 0M498.8 304.6a3.0 3.0 0 1 0 6.0 0a3.0 3.0 0 1 0 -6.0 0M509.1 301.4a3.0 3.0 0 1 0 6.0 0a3.0 3.0 0 1 0 -6.0 0M509.3 304.8a3.0 3.0 0 1 0 6.0 0a3.0 3.0 0 1 0 -6.0 0M512.1 300.6a3.0 3.0 0 1 0 6.0 0a3.0 3.0 0 1 0 -6.0 0M512.3 304.8a3.0 3.0 0 1 0 6.0 0a3.0 3.0 0 1 0 -6.0 0M514.5 300.8a3.0 3.0 0 1 0 6.0 0a3.0 3.0 0 1 0 -6.0 0M515.2 304.6a3.0 3.0 0 1 0 6.0 0a3.0 3.0 0 1 0 -6.0 0M517.0 300.4a3.0 3.0 0 1 0 6.0 0a3.0 3.0 0 1 0 -6.0 0M517.6 304.7a3.0 3.0 0 1 0 6.0 0a3.0 3.0 0 1 0 -6.0 0" stroke="#f00" stroke-width="1.75" fill="none"/>
<path d="M811.1 200.7a3.0 3.0 0 1 0 6.0 0a3.0 3.0 0 1 0 -6.0 0M837.7 222.6a3.0 3.0 0 1 0 6.0 0a3.0 3.0 0 1 0 -6.0 0M853.7 239.7a3.0 3.0 0 1 0 6.0 0a3.0 3.0 0 1 0 -6.0 0M864.8 249.6a3.0 3.0 0 1 0 6.0 0a3.0 3.0 0 1 0 -6.0 0M838.9 259.6a3.0 3.0 0 1 0 6.0 0a3.0 3.0 0 1 0 -6.0 0M884.3 248.4a3.0 3.0 0 1 0 6.0 0a3.0 3.0 0 1 0 -6.0 0M888.0 266.6a3.0 3.0 0 1 0 6.0 0a3.0 3.0 0 1 0 -6.0 0M897.4 254.0a3.0 3.0 0 1 0 6.0 0a3.0 3.0 0 1 0 -6.0 0M901.4 259.9a3.0 3.0 0 1 0 6.0 0a3.0 3.0 0 1 0 -6.0 0M916.6 270.6a3.0 3.0 0 1 0 6.0 0a3.0 3.0 0 1 0 -6.0 0M936.2 280.7a3.0 3.0 0 1 0 6.0 0a3.0 3.0 0 1 0 -6.0 0M936.2 284.4a3.0 3.0 0 1 0 6.0 0a3.0 3.0 0 1 0 -6.0 0M937.6 306.1a3.0 3.0 0 1 0 6.0 0a3.0 3.0 0 1 0 -6.0 0M951.7 282.9a3.0 3.0 0 1 0 6.0 0a3.0 3.0 0 1 0 -6.0 0M959.8 286.6a3.0 3.0 0 1 0 6.0 0a3.0 3.0 0 1 0 -6.0 0M962.1 291.0a3.0 3.0 0 1 0 6.0 0a3.0 3.0 0 1 0 -6.0 0M976.9 298.4a3.0 3.0 0 1 0 6.0 0a3.0 3.0 0 1 0 -6.0 0M974.6 291.0a3.0 3.0 0 1 0 6.0 0a3.0 3.0 0 1 0 -6.0 0M984.3 293.2a3.0 3.0 0 1 0 6.0 0a3.0 3.0 0 1 0 -6.0 0M993.9 296.2a3.0 3.0 0 1 0 6.0 0a3.0 3.0 0 1 0 -6.0 0M937.8 282.2a3.0 3.0 0 1 0 6.0 0a3.0 3.0 0 1 0 -6.0 0M951.4 283.1a3.0 3.0 0 1 0 6.0 0a3.0 3.0 0 1 0 -6.0 0M959.9 288.2a3.0 3.0 0 1 0 6.0 0a3.0 3.0 0 1 0 -6.0 0M974.3 290.7a3.0 3.0 0 1 0 6.0 0a3.0 3.0 0 1 0 -6.0 0M976.9 299.2a3.0 3.0 0 1 0 6.0 0a3.0 3.0 0 1 0 -6.0 0M983.6 292.4a3.0 3.0 0 1 0 6.0 0a3.0 3.0 0 1 0 -6.0 0M996.4 294.1a3.0 3.0 0 1 0 6.0 0a3.0 3.0 0 1 0 -6.0 0M1000.6 292.4a3.0 3.0 0 1 0 6.0 0a3.0 3.0 0 1 0 -6.0 0M999.8 297.5a3.0 3.0 0 1 0 6.0 0a3.0 3.0 0 1 0 -6.0 0M989.0 295.0a3.0 3.0 0 1 0 6.0 0a3.0 3.0 0 1 0 -6.0 0M1005.0 296.0a3.0 3.0 0 1 0 6.0 0a3.0 3.0 0 1 0 -6.0 0M1102.1 298.6a3.0 3.0 0 1 0 6.0 0a3.0 3.0 0 1 0 -6.0 0M1108.8 301.6a3.0 3.0 0 1 0 6.0 0a3.0 3.0 0 1 0 -6.0 0M1134.3 289.7a3.0 3.0 0 1 0 6.0 0a3.0 3.0 0 1 0 -6.0 0M1010.0 298.0a3.0 3.0 0 1 0 6.0 0a3.0 3.0 0 1 0 -6.0 0M1015.0 300.0a3.0 3.0 0 1 0 6.0 0a3.0 3.0 0 1 0 -6.0 0M1001.5 300.1a3.0 3.0 0 1 0 6.0 0a3.0 3.0 0 1 0 -6.0 0M1002.2 304.8a3.0 3.0 0 1 0 6.0 0a3.0 3.0 0 1 0 -6.0 0M1004.9 300.8a3.0 3.0 0 1 0 6.0 0a3.0 3.0 0 1 0 -6.0 0M1005.1 305.0a3.0 3.0 0 1 0 6.0 0a3.0 3.0 0 1 0 -6.0 0M1007.0 300.0a3.0 3.0 0 1 0 6.0 0a3.0 3.0 0 1 0 -6.0 0M1007.8 304.2a3.0 3.0 0 1 0 6.0 0a3.0 3.0 0 1 0 -6.0 0M1010.9 299.7a3.0 3.0 0 1 0 6.0 0a3.0 3.0 0 1 0 -6.0 0M1010.9 304.3a3.0 3.0 0 1 0 6.0 0a3.0 3.0 0 1 0 -6.0 0M1013.6 300.8a3.0 3.0 0 1 0 6.0 0a3.0 3.0 0 1 0 -6.0 0M1013.0 305.3a3.0 3.0 0 1 0 6.0 0a3.0 3.0 0 1 0 -6.0 0M1015.6 300.8a3.0 3.0 0 1 0 6.0 0a3.0 3.0 0 1 0 -6.0 0M1015.9 304.7a3.0 3.0 0 1 0 6.0 0a3.0 3.0 0 1 0 -6.0 0M1018.3 300.4a3.0 3.0 0 1 0 6.0 0a3.0 3.0 0 1 0 -6.0 0M1018.5 305.0a3.0 3.0 0 1 0 6.0 0a3.0 3.0 0 1 0 -6.0 0M1022.0 300.4a3.0 3.0 0 1 0 6.0 0a3.0 3.0 0 1 0 -6.0 0M1021.0 305.4a3.0 3.0 0 1 0 6.0 0a3.0 3.0 0 1 0 -6.0 0M1024.9 300.5a3.0 3.0 0 1 0 6.0 0a3.0 3.0 0 1 0 -6.0 0M1024.3 304.8a3.0 3.0 0 1 0 6.0 0a3.0 3.0 0 1 0 -6.0 0M1027.7 300.2a3.0 3.0 0 1 0 6.0 0a3.0 3.0 0 1 0 -6.0 0M1027.5 304.9a3.0 3.0 0 1 0 6.0 0a3.0 3.0 0 1 0 -6.0 0M1029.9 300.9a3.0 3.0 0 1 0 6.0 0a3.0 3.0 0 1 0 -6.0 0M1029.9 304.9a3.0 3.0 0 1 0 6.0 0a3.0 3.0 0 1 0 -6.0 0M1032.3 300.2a3.0 3.0 0 1 0 6.0 0a3.0 3.0 0 1 0 -6.0 0M1032.2 305.1a3.0 3.0 0 1 0 6.0 0a3.0 3.0 0 1 0 -6.0 0M1035.0 299.6a3.0 3.0 0 1 0 6.0 0a3.0 3.0 0 1 0 -6.0 0M1035.1 304.2a3.0 3.0 0 1 0 6.0 0a3.0 3.0 0 1 0 -6.0 0M1038.4 300.0a3.0 3.0 0 1 0 6.0 0a3.0 3.0 0 1 0 -6.0 0M1038.1 305.5a3.0 3.0 0 1 0 6.0 0a3.0 3.0 0 1 0 -6.0 0M1041.7 300.5a3.0 3.0 0 1 0 6.0 0a3.0 3.0 0 1 0 -6.0 0M1041.6 305.2a3.0 3.0 0 1 0 6.0 0a3.0 3.0 0 1 0 -6.0 0M1043.7 300.7a3.0 3.0 0 1 0 6.0 0a3.0 3.0 0 1 0 -6.0 0M1043.7 304.8a3.0 3.0 0 1 0 6.0 0a3.0 3.0 0 1 0 -6.0 0M1046.6 299.7a3.0 3.0 0 1 0 6.0 0a3.0 3.0 0 1 0 -6.0 0M1047.1 305.4a3.0 3.0 0 1 0 6.0 0a3.0 3.0 0 1 0 -6.0 0M1049.4 300.8a3.0 3.0 0 1 0 6.0 0a3.0 3.0 0 1 0 -6.0 0M1049.4 305.0a3.0 3.0 0 1 0 6.0 0a3.0 3.0 0 1 0 -6.0 0M1053.0 300.7a3.0 3.0 0 1 0 6.0 0a3.0 3.0 0 1 0 -6.0 0M1051.9 304.7a3.0 3.0 0 1 0 6.0 0a3.0 3.0 0 1 0 -6.0 0M1055.1 299.9a3.0 3.0 0 1 0 6.0 0a3.0 3.0 0 1 0 -6.0 0M1055.6 304.7a3.0 3.0 0 1 0 6.0 0a3.0 3.0 0 1 0 -6.0 0M1058.2 300.5a3.0 3.0 0 1 0 6.0 0a3.0 3.0 0 1 0 -6.0 0M1058.0 304.1a3.0 3.0 0 1 0 6.0 0a3.0 3.0 0 1 0 -6.0 0M1061.0 300.8a3.0 3.0 0 1 0 6.0 0a3.0 3.0 0 1 0 -6.0 0M1060.4 305.0a3.0 3.0 0 1 0 6.0 0a3.0 3.0 0 1 0 -6.0 0M1063.6 300.0a3.0 3.0 0 1 0 6.0 0a3.0 3.0 0 1 0 -6.0 0M1063.9 305.5a3.0 3.0 0 1 0 6.0 0a3.0 3.0 0 1 0 -6.0 0M1065.8 300.8a3.0 3.0 0 1 0 6.0 0a3.0 3.0 0 1 0 -6.0 0M1066.3 305.3a3.0 3.0 0 1 0 6.0 0a3.0 3.0 0 1 0 -6.0 0M1068.8 300.6a3.0 3.0 0 1 0 6.0 0a3.0 3.0 0 1 0 -6.0 0M1068.7 304.5a3.0 3.0 0 1 0 6.0 0a3.0 3.0 0 1 0 -6.0 0M1072.6 300.5a3.0 3.0 0 1 0 6.0 0a3.0 3.0 0 1 0 -6.0 0M1072.3 304.7a3.0 3.0 0 1 0 6.0 0a3.0 3.0 0 1 0 -6.0 0M1074.8 300.2a3.0 3.0 0 1 0 6.0 0a3.0 3.0 0 1 0 -6.0 0M1075.1 305.1a3.0 3.0 0 1 0 6.0 0a3.0 3.0 0 1 0 -6.0 0M1077.2 300.2a3.0 3.0 0 1 0 6.0 0a3.0 3.0 0 1 0 -6.0 0M1077.7 304.9a3.0 3.0 0 1 0 6.0 0a3.0 3.0 0 1 0 -6.0 0M1080.9 300.8a3.0 3.0 0 1 0 6.0 0a3.0 3.0 0 1 0 -6.0 0M1080.0 304.6a3.0 3.0 0 1 0 6.0 0a3.0 3.0 0 1 0 -6.0 0M1082.7 299.5a3.0 3.0 0 1 0 6.0 0a3.0 3.0 0 1 0 -6.0 0M1082.7 304.3a3.0 3.0 0 1 0 6.0 0a3.0 3.0 0 1 0 -6.0 0" stroke="#f00" stroke-width="1.75" fill="none"/>
<path d="M1351.7 273.6a3.0 3.0 0 1 0 6.0 0a3.0 3.0 0 1 0 -6.0 0M1359.4 268.9a3.0 3.0 0 1 0 6.0 0a3.0 3.0 0 1 0 -6.0 0M1364.1 281.7a3.0 3.0 0 1 0 6.0 0a3.0 3.0 0 1 0 -6.0 0M1371.2 279.6a3.0 3.0 0 1 0 6.0 0a3.0 3.0 0 1 0 -6.0 0M1372.4 279.9a3.0 3.0 0 1 0 6.0 0a3.0 3.0 0 1 0 -6.0 0M1400.4 276.1a3.0 3.0 0 1 0 6.0 0a3.0 3.0 0 1 0 -6.0 0M1386.8 295.0a3.0 3.0 0 1 0 6.0 0a3.0 3.0 0 1 0 -6.0 0M1391.7 292.3a3.0 3.0 0 1 0 6.0 0a3.0 3.0 0 1 0 -6.0 0M1394.8 294.2a3.0 3.0 0 1 0 6.0 0a3.0 3.0 0 1 0 -6.0 0M1401.4 290.0a3.0 3.0 0 1 0 6.0 0a3.0 3.0 0 1 0 -6.0 0M1411.6 283.0a3.0 3.0 0 1 0 6.0 0a3.0 3.0 0 1 0 -6.0 0M1417.2 298.8a3.0 3.0 0 1 0 6.0 0a3.0 3.0 0 1 0 -6.0 0M1427.2 281.7a3.0 3.0 0 1 0 6.0 0a3.0 3.0 0 1 0 -6.0 0M1428.4 320.9a3.0 3.0 0 1 0 6.0 0a3.0 3.0 0 1 0 -6.0 0M1429.7 297.3a3.0 3.0 0 1 0 6.0 0a3.0 3.0 0 1 0 -6.0 0M1433.4 284.2a3.0 3.0 0 1 0 6.0 0a3.0 3.0 0 1 0 -6.0 0M1435.3 286.1a3.0 3.0 0 1 0 6.0 0a3.0 3.0 0 1 0 -6.0 0M1434.0 292.9a3.0 3.0 0 1 0 6.0 0a3.0 3.0 0 1 0 -6.0 0M1438.4 294.8a3.0 3.0 0 1 0 6.0 0a3.0 3.0 0 1 0 -6.0 0M1439.6 301.6a3.0 3.0 0 1 0 6.0 0a3.0 3.0 0 1 0 -6.0 0M1442.7 290.4a3.0 3.0 0 1 0 6.0 0a3.0 3.0 0 1 0 -6.0 0M1450.8 297.0a3.0 3.0 0 1 0 6.0 0a3.0 3.0 0 1 0 -6.0 0M1454.5 301.6a3.0 3.0 0 1 0 6.0 0a3.0 3.0 0 1 0 -6.0 0M1459.5 299.8a3.0 3.0 0 1 0 6.0 0a3.0 3.0 0 1 0 -6.0 0M1458.3 280.5a3.0 3.0 0 1 0 6.0 0a3.0 3.0 0 1 0 -6.0 0M1461.4 278.6a3.0 3.0 0 1 0 6.0 0a3.0 3.0 0 1 0 -6.0 0M1473.8 287.3a3.0 3.0 0 1 0 6.0 0a3.0 3.0 0 1 0 -6.0 0M1475.7 295.4a3.0 3.0 0 1 0 6.0 0a3.0 3.0 0 1 0 -6.0 0M1478.2 304.7a3.0 3.0 0 1 0 6.0 0a3.0 3.0 0 1 0 -6.0 0M1482.5 297.9a3.0 3.0 0 1 0 6.0 0a3.0 3.0 0 1 0 -6.0 0M1484.4 307.8a3.0 3.0 0 1 0 6.0 0a3.0 3.0 0 1 0 -6.0 0M1487.5 294.8a3.0 3.0 0 1 0 6.0 0a3.0 3.0 0 1 0 -6.0 0M1490.0 291.7a3.0 3.0 0 1 0 6.0 0a3.0 3.0 0 1 0 -6.0 0M1488.1 297.9a3.0 3.0 0 1 0 6.0 0a3.0 3.0 0 1 0 -6.0 0M1503.7 300.4a3.0 3.0 0 1 0 6.0 0a3.0 3.0 0 1 0 -6.0 0M1506.2 302.2a3.0 3.0 0 1 0 6.0 0a3.0 3.0 0 1 0 -6.0 0M1511.1 296.6a3.0 3.0 0 1 0 6.0 0a3.0 3.0 0 1 0 -6.0 0M1527.3 325.2a3.0 3.0 0 1 0 6.0 0a3.0 3.0 0 1 0 -6.0 0M1521.1 299.8a3.0 3.0 0 1 0 6.0 0a3.0 3.0 0 1 0 -6.0 0M1524.8 306.0a3.0 3.0 0 1 0 6.0 0a3.0 3.0 0 1 0 -6.0 0M1528.5 306.0a3.0 3.0 0 1 0 6.0 0a3.0 3.0 0 1 0 -6.0 0M1533.5 306.0a3.0 3.0 0 1 0 6.0 0a3.0 3.0 0 1 0 -6.0 0M1542.3 299.9a3.0 3.0 0 1 0 6.0 0a3.0 3.0 0 1 0 -6.0 0M1546.5 298.2a3.0 3.0 0 1 0 6.0 0a3.0 3.0 0 1 0 -6.0 0M1551.6 296.5a3.0 3.0 0 1 0 6.0 0a3.0 3.0 0 1 0 -6.0 0M1551.6 304.1a3.0 3.0 0 1 0 6.0 0a3.0 3.0 0 1 0 -6.0 0M1560.9 309.2a3.0 3.0 0 1 0 6.0 0a3.0 3.0 0 1 0 -6.0 0M1563.5 301.6a3.0 3.0 0 1 0 6.0 0a3.0 3.0 0 1 0 -6.0 0M1566.9 306.2a3.0 3.0 0 1 0 6.0 0a3.0 3.0 0 1 0 -6.0 0M1573.6 300.7a3.0 3.0 0 1 0 6.0 0a3.0 3.0 0 1 0 -6.0 0M1534.6 305.8a3.0 3.0 0 1 0 6.0 0a3.0 3.0 0 1 0 -6.0 0M1528.7 307.5a3.0 3.0 0 1 0 6.0 0a3.0 3.0 0 1 0 -6.0 0M1690.3 302.2a3.0 3.0 0 1 0 6.0 0a3.0 3.0 0 1 0 -6.0 0M1694.7 300.0a3.0 3.0 0 1 0 6.0 0a3.0 3.0 0 1 0 -6.0 0M1698.4 307.3a3.0 3.0 0 1 0 6.0 0a3.0 3.0 0 1 0 -6.0 0M1696.0 303.5a3.0 3.0 0 1 0 6.0 0a3.0 3.0 0 1 0 -6.0 0M1708.7 299.2a3.0 3.0 0 1 0 6.0 0a3.0 3.0 0 1 0 -6.0 0M1715.0 304.4a3.0 3.0 0 1 0 6.0 0a3.0 3.0 0 1 0 -6.0 0M1723.5 300.3a3.0 3.0 0 1 0 6.0 0a3.0 3.0 0 1 0 -6.0 0M1557.2 300.5a3.0 3.0 0 1 0 6.0 0a3.0 3.0 0 1 0 -6.0 0M1557.5 305.1a3.0 3.0 0 1 0 6.0 0a3.0 3.0 0 1 0 -6.0 0M1560.7 300.0a3.0 3.0 0 1 0 6.0 0a3.0 3.0 0 1 0 -6.0 0M1560.0 305.1a3.0 3.0 0 1 0 6.0 0a3.0 3.0 0 1 0 -6.0 0M1564.2 300.7a3.0 3.0 0 1 0 6.0 0a3.0 3.0 0 1 0 -6.0 0M1564.5 305.7a3.0 3.0 0 1 0 6.0 0a3.0 3.0 0 1 0 -6.0 0M1567.6 300.3a3.0 3.0 0 1 0 6.0 0a3.0 3.0 0 1 0 -6.0 0M1567.5 305.2a3.0 3.0 0 1 0 6.0 0a3.0 3.0 0 1 0 -6.0 0M1571.2 300.4a3.0 3.0 0 1 0 6.0 0a3.0 3.0 0 1 0 -6.0 0M1571.4 305.2a3.0 3.0 0 1 0 6.0 0a3.0 3.0 0 1 0 -6.0 0M1574.5 300.7a3.0 3.0 0 1 0 6.0 0a3.0 3.0 0 1 0 -6.0 0M1574.7 305.3a3.0 3.0 0 1 0 6.0 0a3.0 3.0 0 1 0 -6.0 0M1578.1 300.7a3.0 3.0 0 1 0 6.0 0a3.0 3.0 0 1 0 -6.0 0M1578.1 304.9a3.0 3.0 0 1 0 6.0 0a3.0 3.0 0 1 0 -6.0 0M1581.3 300.4a3.0 3.0 0 1 0 6.0 0a3.0 3.0 0 1 0 -6.0 0M1581.0 305.2a3.0 3.0 0 1 0 6.0 0a3.0 3.0 0 1 0 -6.0 0M1585.5 299.8a3.0 3.0 0 1 0 6.0 0a3.0 3.0 0 1 0 -6.0 0M1584.9 305.5a3.0 3.0 0 1 0 6.0 0a3.0 3.0 0 1 0 -6.0 0M1589.0 300.5a3.0 3.0 0 1 0 6.0 0a3.0 3.0 0 1 0 -6.0 0M1588.7 305.1a3.0 3.0 0 1 0 6.0 0a3.0 3.0 0 1 0 -6.0 0M1591.9 300.5a3.0 3.0 0 1 0 6.0 0a3.0 3.0 0 1 0 -6.0 0M1591.8 305.7a3.0 3.0 0 1 0 6.0 0a3.0 3.0 0 1 0 -6.0 0M1594.9 300.6a3.0 3.0 0 1 0 6.0 0a3.0 3.0 0 1 0 -6.0 0M1595.8 305.0a3.0 3.0 0 1 0 6.0 0a3.0 3.0 0 1 0 -6.0 0M1598.4 300.0a3.0 3.0 0 1 0 6.0 0a3.0 3.0 0 1 0 -6.0 0M1599.1 305.7a3.0 3.0 0 1 0 6.0 0a3.0 3.0 0 1 0 -6.0 0M1602.9 299.8a3.0 3.0 0 1 0 6.0 0a3.0 3.0 0 1 0 -6.0 0M1602.0 304.7a3.0 3.0 0 1 0 6.0 0a3.0 3.0 0 1 0 -6.0 0M1606.6 300.5a3.0 3.0 0 1 0 6.0 0a3.0 3.0 0 1 0 -6.0 0M1605.6 305.5a3.0 3.0 0 1 0 6.0 0a3.0 3.0 0 1 0 -6.0 0M1610.1 300.4a3.0 3.0 0 1 0 6.0 0a3.0 3.0 0 1 0 -6.0 0M1609.2 305.9a3.0 3.0 0 1 0 6.0 0a3.0 3.0 0 1 0 -6.0 0M1612.2 299.8a3.0 3.0 0 1 0 6.0 0a3.0 3.0 0 1 0 -6.0 0M1612.3 304.8a3.0 3.0 0 1 0 6.0 0a3.0 3.0 0 1 0 -6.0 0M1614.7 300.0a3.0 3.0 0 1 0 6.0 0a3.0 3.0 0 1 0 -6.0 0M1614.4 304.6a3.0 3.0 0 1 0 6.0 0a3.0 3.0 0 1 0 -6.0 0M1617.2 300.2a3.0 3.0 0 1 0 6.0 0a3.0 3.0 0 1 0 -6.0 0M1617.6 304.1a3.0 3.0 0 1 0 6.0 0a3.0 3.0 0 1 0 -6.0 0M1619.4 300.9a3.0 3.0 0 1 0 6.0 0a3.0 3.0 0 1 0 -6.0 0M1619.9 304.9a3.0 3.0 0 1 0 6.0 0a3.0 3.0 0 1 0 -6.0 0M1622.6 299.9a3.0 3.0 0 1 0 6.0 0a3.0 3.0 0 1 0 -6.0 0M1622.3 304.3a3.0 3.0 0 1 0 6.0 0a3.0 3.0 0 1 0 -6.0 0M1624.6 301.0a3.0 3.0 0 1 0 6.0 0a3.0 3.0 0 1 0 -6.0 0M1625.3 305.3a3.0 3.0 0 1 0 6.0 0a3.0 3.0 0 1 0 -6.0 0M1627.0 300.6a3.0 3.0 0 1 0 6.0 0a3.0 3.0 0 1 0 -6.0 0M1627.4 304.7a3.0 3.0 0 1 0 6.0 0a3.0 3.0 0 1 0 -6.0 0M1630.4 299.5a3.0 3.0 0 1 0 6.0 0a3.0 3.0 0 1 0 -6.0 0M1630.0 304.8a3.0 3.0 0 1 0 6.0 0a3.0 3.0 0 1 0 -6.0 0M1633.2 300.3a3.0 3.0 0 1 0 6.0 0a3.0 3.0 0 1 0 -6.0 0M1632.6 304.9a3.0 3.0 0 1 0 6.0 0a3.0 3.0 0 1 0 -6.0 0M1635.5 299.9a3.0 3.0 0 1 0 6.0 0a3.0 3.0 0 1 0 -6.0 0M1635.5 304.4a3.0 3.0 0 1 0 6.0 0a3.0 3.0 0 1 0 -6.0 0M1637.4 300.0a3.0 3.0 0 1 0 6.0 0a3.0 3.0 0 1 0 -6.0 0M1637.5 304.7a3.0 3.0 0 1 0 6.0 0a3.0 3.0 0 1 0 -6.0 0M1640.6 300.8a3.0 3.0 0 1 0 6.0 0a3.0 3.0 0 1 0 -6.0 0M1640.9 305.1a3.0 3.0 0 1 0 6.0 0a3.0 3.0 0 1 0 -6.0 0M1643.8 299.9a3.0 3.0 0 1 0 6.0 0a3.0 3.0 0 1 0 -6.0 0M1643.0 304.3a3.0 3.0 0 1 0 6.0 0a3.0 3.0 0 1 0 -6.0 0M1645.3 300.3a3.0 3.0 0 1 0 6.0 0a3.0 3.0 0 1 0 -6.0 0M1645.8 304.2a3.0 3.0 0 1 0 6.0 0a3.0 3.0 0 1 0 -6.0 0M1648.9 301.0a3.0 3.0 0 1 0 6.0 0a3.0 3.0 0 1 0 -6.0 0M1647.9 304.0a3.0 3.0 0 1 0 6.0 0a3.0 3.0 0 1 0 -6.0 0M1650.5 300.6a3.0 3.0 0 1 0 6.0 0a3.0 3.0 0 1 0 -6.0 0M1651.4 304.1a3.0 3.0 0 1 0 6.0 0a3.0 3.0 0 1 0 -6.0 0M1653.0 300.3a3.0 3.0 0 1 0 6.0 0a3.0 3.0 0 1 0 -6.0 0M1653.4 304.0a3.0 3.0 0 1 0 6.0 0a3.0 3.0 0 1 0 -6.0 0M1655.6 299.8a3.0 3.0 0 1 0 6.0 0a3.0 3.0 0 1 0 -6.0 0M1655.8 304.4a3.0 3.0 0 1 0 6.0 0a3.0 3.0 0 1 0 -6.0 0M1658.9 299.9a3.0 3.0 0 1 0 6.0 0a3.0 3.0 0 1 0 -6.0 0M1658.5 304.3a3.0 3.0 0 1 0 6.0 0a3.0 3.0 0 1 0 -6.0 0M1661.9 299.9a3.0 3.0 0 1 0 6.0 0a3.0 3.0 0 1 0 -6.0 0M1661.5 304.7a3.0 3.0 0 1 0 6.0 0a3.0 3.0 0 1 0 -6.0 0M1663.8 300.1a3.0 3.0 0 1 0 6.0 0a3.0 3.0 0 1 0 -6.0 0M1663.4 304.3a3.0 3.0 0 1 0 6.0 0a3.0 3.0 0 1 0 -6.0 0M1666.8 300.6a3.0 3.0 0 1 0 6.0 0a3.0 3.0 0 1 0 -6.0 0M1666.3 304.3a3.0 3.0 0 1 0 6.0 0a3.0 3.0 0 1 0 -6.0 0M1669.7 299.6a3.0 3.0 0 1 0 6.0 0a3.0 3.0 0 1 0 -6.0 0M1669.6 305.3a3.0 3.0 0 1 0 6.0 0a3.0 3.0 0 1 0 -6.0 0M1671.4 300.7a3.0 3.0 0 1 0 6.0 0a3.0 3.0 0 1 0 -6.0 0M1671.4 304.1a3.0 3.0 0 1 0 6.0 0a3.0 3.0 0 1 0 -6.0 0M1674.1 300.0a3.0 3.0 0 1 0 6.0 0a3.0 3.0 0 1 0 -6.0 0M1674.5 304.7a3.0 3.0 0 1 0 6.0 0a3.0 3.0 0 1 0 -6.0 0M1677.4 300.5a3.0 3.0 0 1 0 6.0 0a3.0 3.0 0 1 0 -6.0 0M1676.5 304.3a3.0 3.0 0 1 0 6.0 0a3.0 3.0 0 1 0 -6.0 0M1679.9 299.7a3.0 3.0 0 1 0 6.0 0a3.0 3.0 0 1 0 -6.0 0M1680.1 305.2a3.0 3.0 0 1 0 6.0 0a3.0 3.0 0 1 0 -6.0 0" stroke="#f00" stroke-width="1.75" fill="none"/>
<path d="M172.2 768.4a3.0 3.0 0 1 0 6.0 0a3.0 3.0 0 1 0 -6.0 0M180.2 769.3a3.0 3.0 0 1 0 6.0 0a3.0 3.0 0 1 0 -6.0 0M192.8 763.6a3.0 3.0 0 1 0 6.0 0a3.0 3.0 0 1 0 -6.0 0M193.5 764.2a3.0 3.0 0 1 0 6.0 0a3.0 3.0 0 1 0 -6.0 0M184.7 787.1a3.0 3.0 0 1 0 6.0 0a3.0 3.0 0 1 0 -6.0 0M212.5 759.8a3.0 3.0 0 1 0 6.0 0a3.0 3.0 0 1 0 -6.0 0M221.5 735.9a3.0 3.0 0 1 0 6.0 0a3.0 3.0 0 1 0 -6.0 0M207.8 792.2a3.0 3.0 0 1 0 6.0 0a3.0 3.0 0 1 0 -6.0 0M215.1 796.9a3.0 3.0 0 1 0 6.0 0a3.0 3.0 0 1 0 -6.0 0M222.0 802.7a3.0 3.0 0 1 0 6.0 0a3.0 3.0 0 1 0 -6.0 0M232.8 782.3a3.0 3.0 0 1 0 6.0 0a3.0 3.0 0 1 0 -6.0 0M237.8 765.1a3.0 3.0 0 1 0 6.0 0a3.0 3.0 0 1 0 -6.0 0M248.4 781.4a3.0 3.0 0 1 0 6.0 0a3.0 3.0 0 1 0 -6.0 0M250.9 781.4a3.0 3.0 0 1 0 6.0 0a3.0 3.0 0 1 0 -6.0 0M249.0 797.0a3.0 3.0 0 1 0 6.0 0a3.0 3.0 0 1 0 -6.0 0M253.7 743.6a3.0 3.0 0 1 0 6.0 0a3.0 3.0 0 1 0 -6.0 0M255.1 766.4a3.0 3.0 0 1 0 6.0 0a3.0 3.0 0 1 0 -6.0 0M255.7 788.0a3.0 3.0 0 1 0 6.0 0a3.0 3.0 0 1 0 -6.0 0M259.8 776.0a3.0 3.0 0 1 0 6.0 0a3.0 3.0 0 1 0 -6.0 0M264.0 728.5a3.0 3.0 0 1 0 6.0 0a3.0 3.0 0 1 0 -6.0 0M272.2 757.0a3.0 3.0 0 1 0 6.0 0a3.0 3.0 0 1 0 -6.0 0M275.0 778.8a3.0 3.0 0 1 0 6.0 0a3.0 3.0 0 1 0 -6.0 0M280.1 760.4a3.0 3.0 0 1 0 6.0 0a3.0 3.0 0 1 0 -6.0 0M282.0 759.2a3.0 3.0 0 1 0 6.0 0a3.0 3.0 0 1 0 -6.0 0M280.1 787.1a3.0 3.0 0 1 0 6.0 0a3.0 3.0 0 1 0 -6.0 0M294.7 724.3a3.0 3.0 0 1 0 6.0 0a3.0 3.0 0 1 0 -6.0 0M296.0 726.2a3.0 3.0 0 1 0 6.0 0a3.0 3.0 0 1 0 -6.0 0M298.5 756.0a3.0 3.0 0 1 0 6.0 0a3.0 3.0 0 1 0 -6.0 0M302.9 749.0a3.0 3.0 0 1 0 6.0 0a3.0 3.0 0 1 0 -6.0 0M308.0 745.2a3.0 3.0 0 1 0 6.0 0a3.0 3.0 0 1 0 -6.0 0M304.8 771.9a3.0 3.0 0 1 0 6.0 0a3.0 3.0 0 1 0 -6.0 0M309.0 786.1a3.0 3.0 0 1 0 6.0 0a3.0 3.0 0 1 0 -6.0 0M311.6 733.1a3.0 3.0 0 1 0 6.0 0a3.0 3.0 0 1 0 -6.0 0M298.2 725.6a3.0 3.0 0 1 0 6.0 0a3.0 3.0 0 1 0 -6.0 0M311.5 733.1a3.0 3.0 0 1 0 6.0 0a3.0 3.0 0 1 0 -6.0 0M308.0 744.8a3.0 3.0 0 1 0 6.0 0a3.0 3.0 0 1 0 -6.0 0M302.8 748.8a3.0 3.0 0 1 0 6.0 0a3.0 3.0 0 1 0 -6.0 0M299.3 755.8a3.0 3.0 0 1 0 6.0 0a3.0 3.0 0 1 0 -6.0 0M305.1 772.1a3.0 3.0 0 1 0 6.0 0a3.0 3.0 0 1 0 -6.0 0M309.2 786.0a3.0 3.0 0 1 0 6.0 0a3.0 3.0 0 1 0 -6.0 0M362.1 717.4a3.0 3.0 0 1 0 6.0 0a3.0 3.0 0 1 0 -6.0 0M347.0 727.9a3.0 3.0 0 1 0 6.0 0a3.0 3.0 0 1 0 -6.0 0M327.2 751.7a3.0 3.0 0 1 0 6.0 0a3.0 3.0 0 1 0 -6.0 0M323.7 762.8a3.0 3.0 0 1 0 6.0 0a3.0 3.0 0 1 0 -6.0 0M331.9 768.6a3.0 3.0 0 1 0 6.0 0a3.0 3.0 0 1 0 -6.0 0M348.2 753.5a3.0 3.0 0 1 0 6.0 0a3.0 3.0 0 1 0 -6.0 0M345.3 756.4a3.0 3.0 0 1 0 6.0 0a3.0 3.0 0 1 0 -6.0 0M348.2 766.3a3.0 3.0 0 1 0 6.0 0a3.0 3.0 0 1 0 -6.0 0M342.9 779.1a3.0 3.0 0 1 0 6.0 0a3.0 3.0 0 1 0 -6.0 0M354.6 783.7a3.0 3.0 0 1 0 6.0 0a3.0 3.0 0 1 0 -6.0 0M363.9 766.3a3.0 3.0 0 1 0 6.0 0a3.0 3.0 0 1 0 -6.0 0M370.3 746.5a3.0 3.0 0 1 0 6.0 0a3.0 3.0 0 1 0 -6.0 0M372.0 761.6a3.0 3.0 0 1 0 6.0 0a3.0 3.0 0 1 0 -6.0 0M373.2 773.3a3.0 3.0 0 1 0 6.0 0a3.0 3.0 0 1 0 -6.0 0M381.9 762.2a3.0 3.0 0 1 0 6.0 0a3.0 3.0 0 1 0 -6.0 0M383.6 777.3a3.0 3.0 0 1 0 6.0 0a3.0 3.0 0 1 0 -6.0 0M387.7 732.0a3.0 3.0 0 1 0 6.0 0a3.0 3.0 0 1 0 -6.0 0M394.1 738.4a3.0 3.0 0 1 0 6.0 0a3.0 3.0 0 1 0 -6.0 0M386.0 744.8a3.0 3.0 0 1 0 6.0 0a3.0 3.0 0 1 0 -6.0 0M402.8 744.2a3.0 3.0 0 1 0 6.0 0a3.0 3.0 0 1 0 -6.0 0M402.2 757.0a3.0 3.0 0 1 0 6.0 0a3.0 3.0 0 1 0 -6.0 0M406.3 760.5a3.0 3.0 0 1 0 6.0 0a3.0 3.0 0 1 0 -6.0 0M409.2 777.3a3.0 3.0 0 1 0 6.0 0a3.0 3.0 0 1 0 -6.0 0M404.0 792.4a3.0 3.0 0 1 0 6.0 0a3.0 3.0 0 1 0 -6.0 0M412.1 757.0a3.0 3.0 0 1 0 6.0 0a3.0 3.0 0 1 0 -6.0 0M403.2 744.3a3.0 3.0 0 1 0 6.0 0a3.0 3.0 0 1 0 -6.0 0M408.4 777.6a3.0 3.0 0 1 0 6.0 0a3.0 3.0 0 1 0 -6.0 0M403.7 792.8a3.0 3.0 0 1 0 6.0 0a3.0 3.0 0 1 0 -6.0 0M467.4 760.9a3.0 3.0 0 1 0 6.0 0a3.0 3.0 0 1 0 -6.0 0M492.2 769.0a3.0 3.0 0 1 0 6.0 0a3.0 3.0 0 1 0 -6.0 0M535.8 770.0a3.0 3.0 0 1 0 6.0 0a3.0 3.0 0 1 0 -6.0 0M529.9 779.2a3.0 3.0 0 1 0 6.0 0a3.0 3.0 0 1 0 -6.0 0M544.4 777.4a3.0 3.0 0 1 0 6.0 0a3.0 3.0 0 1 0 -6.0 0M519.2 781.8a3.0 3.0 0 1 0 6.0 0a3.0 3.0 0 1 0 -6.0 0M369.0 750.0a3.0 3.0 0 1 0 6.0 0a3.0 3.0 0 1 0 -6.0 0M372.0 748.0a3.0 3.0 0 1 0 6.0 0a3.0 3.0 0 1 0 -6.0 0M398.4 756.1a3.0 3.0 0 1 0 6.0 0a3.0 3.0 0 1 0 -6.0 0M398.4 761.0a3.0 3.0 0 1 0 6.0 0a3.0 3.0 0 1 0 -6.0 0M403.5 757.9a3.0 3.0 0 1 0 6.0 0a3.0 3.0 0 1 0 -6.0 0M403.0 763.2a3.0 3.0 0 1 0 6.0 0a3.0 3.0 0 1 0 -6.0 0M409.6 760.8a3.0 3.0 0 1 0 6.0 0a3.0 3.0 0 1 0 -6.0 0M408.9 764.3a3.0 3.0 0 1 0 6.0 0a3.0 3.0 0 1 0 -6.0 0M415.0 761.8a3.0 3.0 0 1 0 6.0 0a3.0 3.0 0 1 0 -6.0 0M414.1 766.5a3.0 3.0 0 1 0 6.0 0a3.0 3.0 0 1 0 -6.0 0M420.0 764.0a3.0 3.0 0 1 0 6.0 0a3.0 3.0 0 1 0 -6.0 0M420.1 766.2a3.0 3.0 0 1 0 6.0 0a3.0 3.0 0 1 0 -6.0 0M425.5 764.0a3.0 3.0 0 1 0 6.0 0a3.0 3.0 0 1 0 -6.0 0M425.2 769.9a3.0 3.0 0 1 0 6.0 0a3.0 3.0 0 1 0 -6.0 0M431.2 766.9a3.0 3.0 0 1 0 6.0 0a3.0 3.0 0 1 0 -6.0 0M430.5 770.9a3.0 3.0 0 1 0 6.0 0a3.0 3.0 0 1 0 -6.0 0M436.6 768.8a3.0 3.0 0 1 0 6.0 0a3.0 3.0 0 1 0 -6.0 0M436.7 773.2a3.0 3.0 0 1 0 6.0 0a3.0 3.0 0 1 0 -6.0 0M436.9 771.9a3.0 3.0 0 1 0 6.0 0a3.0 3.0 0 1 0 -6.0 0M437.0 776.6a3.0 3.0 0 1 0 6.0 0a3.0 3.0 0 1 0 -6.0 0M441.4 770.9a3.0 3.0 0 1 0 6.0 0a3.0 3.0 0 1 0 -6.0 0M440.7 775.5a3.0 3.0 0 1 0 6.0 0a3.0 3.0 0 1 0 -6.0 0M444.9 771.7a3.0 3.0 0 1 0 6.0 0a3.0 3.0 0 1 0 -6.0 0M445.2 777.0a3.0 3.0 0 1 0 6.0 0a3.0 3.0 0 1 0 -6.0 0M449.2 770.8a3.0 3.0 0 1 0 6.0 0a3.0 3.0 0 1 0 -6.0 0M450.0 775.5a3.0 3.0 0 1 0 6.0 0a3.0 3.0 0 1 0 -6.0 0M453.6 772.1a3.0 3.0 0 1 0 6.0 0a3.0 3.0 0 1 0 -6.0 0M453.9 775.9a3.0 3.0 0 1 0 6.0 0a3.0 3.0 0 1 0 -6.0 0M457.6 771.8a3.0 3.0 0 1 0 6.0 0a3.0 3.0 0 1 0 -6.0 0M457.7 777.2a3.0 3.0 0 1 0 6.0 0a3.0 3.0 0 1 0 -6.0 0M461.9 772.6a3.0 3.0 0 1 0 6.0 0a3.0 3.0 0 1 0 -6.0 0M461.6 776.6a3.0 3.0 0 1 0 6.0 0a3.0 3.0 0 1 0 -6.0 0M466.1 771.6a3.0 3.0 0 1 0 6.0 0a3.0 3.0 0 1 0 -6.0 0M466.3 777.1a3.0 3.0 0 1 0 6.0 0a3.0 3.0 0 1 0 -6.0 0M470.2 772.2a3.0 3.0 0 1 0 6.0 0a3.0 3.0 0 1 0 -6.0 0M470.0 776.7a3.0 3.0 0 1 0 6.0 0a3.0 3.0 0 1 0 -6.0 0M475.2 771.5a3.0 3.0 0 1 0 6.0 0a3.0 3.0 0 1 0 -6.0 0M475.2 776.0a3.0 3.0 0 1 0 6.0 0a3.0 3.0 0 1 0 -6.0 0M478.8 772.5a3.0 3.0 0 1 0 6.0 0a3.0 3.0 0 1 0 -6.0 0M479.6 777.0a3.0 3.0 0 1 0 6.0 0a3.0 3.0 0 1 0 -6.0 0M482.9 772.6a3.0 3.0 0 1 0 6.0 0a3.0 3.0 0 1 0 -6.0 0M483.0 777.2a3.0 3.0 0 1 0 6.0 0a3.0 3.0 0 1 0 -6.0 0M487.2 771.0a3.0 3.0 0 1 0 6.0 0a3.0 3.0 0 1 0 -6.0 0M487.1 776.8a3.0 3.0 0 1 0 6.0 0a3.0 3.0 0 1 0 -6.0 0M492.2 771.7a3.0 3.0 0 1 0 6.0 0a3.0 3.0 0 1 0 -6.0 0M491.1 776.8a3.0 3.0 0 1 0 6.0 0a3.0 3.0 0 1 0 -6.0 0M496.3 772.3a3.0 3.0 0 1 0 6.0 0a3.0 3.0 0 1 0 -6.0 0M495.2 776.0a3.0 3.0 0 1 0 6.0 0a3.0 3.0 0 1 0 -6.0 0M500.3 772.1a3.0 3.0 0 1 0 6.0 0a3.0 3.0 0 1 0 -6.0 0M500.6 777.3a3.0 3.0 0 1 0 6.0 0a3.0 3.0 0 1 0 -6.0 0M510.4 774.5a3.0 3.0 0 1 0 6.0 0a3.0 3.0 0 1 0 -6.0 0M509.9 777.1a3.0 3.0 0 1 0 6.0 0a3.0 3.0 0 1 0 -6.0 0M512.8 774.2a3.0 3.0 0 1 0 6.0 0a3.0 3.0 0 1 0 -6.0 0M512.9 777.3a3.0 3.0 0 1 0 6.0 0a3.0 3.0 0 1 0 -6.0 0M515.4 774.5a3.0 3.0 0 1 0 6.0 0a3.0 3.0 0 1 0 -6.0 0M515.5 777.9a3.0 3.0 0 1 0 6.0 0a3.0 3.0 0 1 0 -6.0 0M517.4 774.3a3.0 3.0 0 1 0 6.0 0a3.0 3.0 0 1 0 -6.0 0M517.0 777.4a3.0 3.0 0 1 0 6.0 0a3.0 3.0 0 1 0 -6.0 0" stroke="#f00" stroke-width="1.75" fill="none"/>
<path d="M837.7 734.8a3.0 3.0 0 1 0 6.0 0a3.0 3.0 0 1 0 -6.0 0M838.9 760.0a3.0 3.0 0 1 0 6.0 0a3.0 3.0 0 1 0 -6.0 0M864.7 724.7a3.0 3.0 0 1 0 6.0 0a3.0 3.0 0 1 0 -6.0 0M888.0 675.9a3.0 3.0 0 1 0 6.0 0a3.0 3.0 0 1 0 -6.0 0M897.2 652.9a3.0 3.0 0 1 0 6.0 0a3.0 3.0 0 1 0 -6.0 0M901.1 669.2a3.0 3.0 0 1 0 6.0 0a3.0 3.0 0 1 0 -6.0 0M916.6 674.1a3.0 3.0 0 1 0 6.0 0a3.0 3.0 0 1 0 -6.0 0M936.6 647.0a3.0 3.0 0 1 0 6.0 0a3.0 3.0 0 1 0 -6.0 0M936.2 711.4a3.0 3.0 0 1 0 6.0 0a3.0 3.0 0 1 0 -6.0 0M937.6 720.3a3.0 3.0 0 1 0 6.0 0a3.0 3.0 0 1 0 -6.0 0M959.1 718.5a3.0 3.0 0 1 0 6.0 0a3.0 3.0 0 1 0 -6.0 0M962.1 743.2a3.0 3.0 0 1 0 6.0 0a3.0 3.0 0 1 0 -6.0 0M962.5 756.6a3.0 3.0 0 1 0 6.0 0a3.0 3.0 0 1 0 -6.0 0M974.6 715.1a3.0 3.0 0 1 0 6.0 0a3.0 3.0 0 1 0 -6.0 0M960.7 683.8a3.0 3.0 0 1 0 6.0 0a3.0 3.0 0 1 0 -6.0 0M977.7 678.5a3.0 3.0 0 1 0 6.0 0a3.0 3.0 0 1 0 -6.0 0M983.5 690.1a3.0 3.0 0 1 0 6.0 0a3.0 3.0 0 1 0 -6.0 0M993.5 706.5a3.0 3.0 0 1 0 6.0 0a3.0 3.0 0 1 0 -6.0 0M975.0 715.0a3.0 3.0 0 1 0 6.0 0a3.0 3.0 0 1 0 -6.0 0M958.6 718.2a3.0 3.0 0 1 0 6.0 0a3.0 3.0 0 1 0 -6.0 0M995.1 715.0a3.0 3.0 0 1 0 6.0 0a3.0 3.0 0 1 0 -6.0 0M1000.9 720.3a3.0 3.0 0 1 0 6.0 0a3.0 3.0 0 1 0 -6.0 0M1002.0 729.8a3.0 3.0 0 1 0 6.0 0a3.0 3.0 0 1 0 -6.0 0M1009.9 727.1a3.0 3.0 0 1 0 6.0 0a3.0 3.0 0 1 0 -6.0 0M991.4 738.8a3.0 3.0 0 1 0 6.0 0a3.0 3.0 0 1 0 -6.0 0M1004.6 740.9a3.0 3.0 0 1 0 6.0 0a3.0 3.0 0 1 0 -6.0 0M961.8 743.0a3.0 3.0 0 1 0 6.0 0a3.0 3.0 0 1 0 -6.0 0M962.3 756.2a3.0 3.0 0 1 0 6.0 0a3.0 3.0 0 1 0 -6.0 0M1014.7 747.8a3.0 3.0 0 1 0 6.0 0a3.0 3.0 0 1 0 -6.0 0M1015.7 752.0a3.0 3.0 0 1 0 6.0 0a3.0 3.0 0 1 0 -6.0 0M1027.4 758.3a3.0 3.0 0 1 0 6.0 0a3.0 3.0 0 1 0 -6.0 0M1032.6 756.2a3.0 3.0 0 1 0 6.0 0a3.0 3.0 0 1 0 -6.0 0M1001.0 720.8a3.0 3.0 0 1 0 6.0 0a3.0 3.0 0 1 0 -6.0 0M1002.2 729.7a3.0 3.0 0 1 0 6.0 0a3.0 3.0 0 1 0 -6.0 0M1009.8 727.6a3.0 3.0 0 1 0 6.0 0a3.0 3.0 0 1 0 -6.0 0M991.2 739.0a3.0 3.0 0 1 0 6.0 0a3.0 3.0 0 1 0 -6.0 0M1004.8 740.7a3.0 3.0 0 1 0 6.0 0a3.0 3.0 0 1 0 -6.0 0M1014.9 748.8a3.0 3.0 0 1 0 6.0 0a3.0 3.0 0 1 0 -6.0 0M1015.8 753.8a3.0 3.0 0 1 0 6.0 0a3.0 3.0 0 1 0 -6.0 0M998.0 763.1a3.0 3.0 0 1 0 6.0 0a3.0 3.0 0 1 0 -6.0 0M1036.9 764.8a3.0 3.0 0 1 0 6.0 0a3.0 3.0 0 1 0 -6.0 0M1102.9 775.0a3.0 3.0 0 1 0 6.0 0a3.0 3.0 0 1 0 -6.0 0M1102.5 774.8a3.0 3.0 0 1 0 6.0 0a3.0 3.0 0 1 0 -6.0 0M1108.4 784.7a3.0 3.0 0 1 0 6.0 0a3.0 3.0 0 1 0 -6.0 0M1134.3 792.5a3.0 3.0 0 1 0 6.0 0a3.0 3.0 0 1 0 -6.0 0M1016.9 751.9a3.0 3.0 0 1 0 6.0 0a3.0 3.0 0 1 0 -6.0 0M1016.5 756.8a3.0 3.0 0 1 0 6.0 0a3.0 3.0 0 1 0 -6.0 0M1021.6 755.5a3.0 3.0 0 1 0 6.0 0a3.0 3.0 0 1 0 -6.0 0M1021.0 759.3a3.0 3.0 0 1 0 6.0 0a3.0 3.0 0 1 0 -6.0 0M1026.1 756.9a3.0 3.0 0 1 0 6.0 0a3.0 3.0 0 1 0 -6.0 0M1026.3 763.6a3.0 3.0 0 1 0 6.0 0a3.0 3.0 0 1 0 -6.0 0M1030.7 761.7a3.0 3.0 0 1 0 6.0 0a3.0 3.0 0 1 0 -6.0 0M1031.0 765.7a3.0 3.0 0 1 0 6.0 0a3.0 3.0 0 1 0 -6.0 0M1035.0 765.1a3.0 3.0 0 1 0 6.0 0a3.0 3.0 0 1 0 -6.0 0M1035.2 768.5a3.0 3.0 0 1 0 6.0 0a3.0 3.0 0 1 0 -6.0 0M1037.1 771.2a3.0 3.0 0 1 0 6.0 0a3.0 3.0 0 1 0 -6.0 0M1037.4 774.5a3.0 3.0 0 1 0 6.0 0a3.0 3.0 0 1 0 -6.0 0M1040.4 771.2a3.0 3.0 0 1 0 6.0 0a3.0 3.0 0 1 0 -6.0 0M1041.1 776.0a3.0 3.0 0 1 0 6.0 0a3.0 3.0 0 1 0 -6.0 0M1044.6 770.7a3.0 3.0 0 1 0 6.0 0a3.0 3.0 0 1 0 -6.0 0M1045.2 775.0a3.0 3.0 0 1 0 6.0 0a3.0 3.0 0 1 0 -6.0 0M1048.1 770.1a3.0 3.0 0 1 0 6.0 0a3.0 3.0 0 1 0 -6.0 0M1047.9 775.9a3.0 3.0 0 1 0 6.0 0a3.0 3.0 0 1 0 -6.0 0M1052.4 770.7a3.0 3.0 0 1 0 6.0 0a3.0 3.0 0 1 0 -6.0 0M1052.5 775.0a3.0 3.0 0 1 0 6.0 0a3.0 3.0 0 1 0 -6.0 0M1055.8 771.8a3.0 3.0 0 1 0 6.0 0a3.0 3.0 0 1 0 -6.0 0M1056.3 775.7a3.0 3.0 0 1 0 6.0 0a3.0 3.0 0 1 0 -6.0 0M1060.2 771.6a3.0 3.0 0 1 0 6.0 0a3.0 3.0 0 1 0 -6.0 0M1060.0 776.6a3.0 3.0 0 1 0 6.0 0a3.0 3.0 0 1 0 -6.0 0M1063.7 771.9a3.0 3.0 0 1 0 6.0 0a3.0 3.0 0 1 0 -6.0 0M1064.1 774.9a3.0 3.0 0 1 0 6.0 0a3.0 3.0 0 1 0 -6.0 0M1066.8 770.9a3.0 3.0 0 1 0 6.0 0a3.0 3.0 0 1 0 -6.0 0M1067.2 776.1a3.0 3.0 0 1 0 6.0 0a3.0 3.0 0 1 0 -6.0 0M1071.3 772.5a3.0 3.0 0 1 0 6.0 0a3.0 3.0 0 1 0 -6.0 0M1070.6 777.0a3.0 3.0 0 1 0 6.0 0a3.0 3.0 0 1 0 -6.0 0M1074.7 773.3a3.0 3.0 0 1 0 6.0 0a3.0 3.0 0 1 0 -6.0 0M1074.8 777.0a3.0 3.0 0 1 0 6.0 0a3.0 3.0 0 1 0 -6.0 0M1079.1 771.4a3.0 3.0 0 1 0 6.0 0a3.0 3.0 0 1 0 -6.0 0M1078.8 776.0a3.0 3.0 0 1 0 6.0 0a3.0 3.0 0 1 0 -6.0 0M1083.2 772.0a3.0 3.0 0 1 0 6.0 0a3.0 3.0 0 1 0 -6.0 0M1082.5 775.6a3.0 3.0 0 1 0 6.0 0a3.0 3.0 0 1 0 -6.0 0" stroke="#f00" stroke-width="1.75" fill="none"/>
<path d="M1351.4 754.9a3.0 3.0 0 1 0 6.0 0a3.0 3.0 0 1 0 -6.0 0M1359.3 754.6a3.0 3.0 0 1 0 6.0 0a3.0 3.0 0 1 0 -6.0 0M1371.6 742.5a3.0 3.0 0 1 0 6.0 0a3.0 3.0 0 1 0 -6.0 0M1372.2 743.1a3.0 3.0 0 1 0 6.0 0a3.0 3.0 0 1 0 -6.0 0M1364.2 781.0a3.0 3.0 0 1 0 6.0 0a3.0 3.0 0 1 0 -6.0 0M1391.7 731.1a3.0 3.0 0 1 0 6.0 0a3.0 3.0 0 1 0 -6.0 0M1400.5 711.3a3.0 3.0 0 1 0 6.0 0a3.0 3.0 0 1 0 -6.0 0M1387.2 789.7a3.0 3.0 0 1 0 6.0 0a3.0 3.0 0 1 0 -6.0 0M1394.7 794.1a3.0 3.0 0 1 0 6.0 0a3.0 3.0 0 1 0 -6.0 0M1401.2 803.7a3.0 3.0 0 1 0 6.0 0a3.0 3.0 0 1 0 -6.0 0M1416.7 730.2a3.0 3.0 0 1 0 6.0 0a3.0 3.0 0 1 0 -6.0 0M1411.6 775.9a3.0 3.0 0 1 0 6.0 0a3.0 3.0 0 1 0 -6.0 0M1432.9 712.7a3.0 3.0 0 1 0 6.0 0a3.0 3.0 0 1 0 -6.0 0M1442.8 706.5a3.0 3.0 0 1 0 6.0 0a3.0 3.0 0 1 0 -6.0 0M1434.6 744.3a3.0 3.0 0 1 0 6.0 0a3.0 3.0 0 1 0 -6.0 0M1439.0 753.8a3.0 3.0 0 1 0 6.0 0a3.0 3.0 0 1 0 -6.0 0M1439.6 754.4a3.0 3.0 0 1 0 6.0 0a3.0 3.0 0 1 0 -6.0 0M1427.4 770.7a3.0 3.0 0 1 0 6.0 0a3.0 3.0 0 1 0 -6.0 0M1429.4 769.3a3.0 3.0 0 1 0 6.0 0a3.0 3.0 0 1 0 -6.0 0M1434.9 776.2a3.0 3.0 0 1 0 6.0 0a3.0 3.0 0 1 0 -6.0 0M1428.4 788.6a3.0 3.0 0 1 0 6.0 0a3.0 3.0 0 1 0 -6.0 0M1451.1 735.0a3.0 3.0 0 1 0 6.0 0a3.0 3.0 0 1 0 -6.0 0M1459.1 741.2a3.0 3.0 0 1 0 6.0 0a3.0 3.0 0 1 0 -6.0 0M1461.4 745.7a3.0 3.0 0 1 0 6.0 0a3.0 3.0 0 1 0 -6.0 0M1454.1 767.3a3.0 3.0 0 1 0 6.0 0a3.0 3.0 0 1 0 -6.0 0M1459.6 774.2a3.0 3.0 0 1 0 6.0 0a3.0 3.0 0 1 0 -6.0 0M1474.5 699.2a3.0 3.0 0 1 0 6.0 0a3.0 3.0 0 1 0 -6.0 0M1475.8 696.5a3.0 3.0 0 1 0 6.0 0a3.0 3.0 0 1 0 -6.0 0M1477.9 737.0a3.0 3.0 0 1 0 6.0 0a3.0 3.0 0 1 0 -6.0 0M1482.0 728.4a3.0 3.0 0 1 0 6.0 0a3.0 3.0 0 1 0 -6.0 0M1486.8 724.3a3.0 3.0 0 1 0 6.0 0a3.0 3.0 0 1 0 -6.0 0M1491.0 718.2a3.0 3.0 0 1 0 6.0 0a3.0 3.0 0 1 0 -6.0 0M1484.4 759.5a3.0 3.0 0 1 0 6.0 0a3.0 3.0 0 1 0 -6.0 0M1488.5 766.9a3.0 3.0 0 1 0 6.0 0a3.0 3.0 0 1 0 -6.0 0M1491.3 718.0a3.0 3.0 0 1 0 6.0 0a3.0 3.0 0 1 0 -6.0 0M1487.0 723.8a3.0 3.0 0 1 0 6.0 0a3.0 3.0 0 1 0 -6.0 0M1482.3 728.1a3.0 3.0 0 1 0 6.0 0a3.0 3.0 0 1 0 -6.0 0M1478.6 737.0a3.0 3.0 0 1 0 6.0 0a3.0 3.0 0 1 0 -6.0 0M1477.0 697.4a3.0 3.0 0 1 0 6.0 0a3.0 3.0 0 1 0 -6.0 0M1541.5 694.8a3.0 3.0 0 1 0 6.0 0a3.0 3.0 0 1 0 -6.0 0M1526.7 709.0a3.0 3.0 0 1 0 6.0 0a3.0 3.0 0 1 0 -6.0 0M1528.8 718.5a3.0 3.0 0 1 0 6.0 0a3.0 3.0 0 1 0 -6.0 0M1505.5 734.4a3.0 3.0 0 1 0 6.0 0a3.0 3.0 0 1 0 -6.0 0M1502.9 738.1a3.0 3.0 0 1 0 6.0 0a3.0 3.0 0 1 0 -6.0 0M1525.6 746.0a3.0 3.0 0 1 0 6.0 0a3.0 3.0 0 1 0 -6.0 0M1527.2 755.6a3.0 3.0 0 1 0 6.0 0a3.0 3.0 0 1 0 -6.0 0M1534.1 761.4a3.0 3.0 0 1 0 6.0 0a3.0 3.0 0 1 0 -6.0 0M1510.8 759.8a3.0 3.0 0 1 0 6.0 0a3.0 3.0 0 1 0 -6.0 0M1484.4 759.3a3.0 3.0 0 1 0 6.0 0a3.0 3.0 0 1 0 -6.0 0M1488.6 766.7a3.0 3.0 0 1 0 6.0 0a3.0 3.0 0 1 0 -6.0 0M1521.9 769.3a3.0 3.0 0 1 0 6.0 0a3.0 3.0 0 1 0 -6.0 0M1542.6 740.8a3.0 3.0 0 1 0 6.0 0a3.0 3.0 0 1 0 -6.0 0M1548.9 741.8a3.0 3.0 0 1 0 6.0 0a3.0 3.0 0 1 0 -6.0 0M1551.0 729.1a3.0 3.0 0 1 0 6.0 0a3.0 3.0 0 1 0 -6.0 0M1566.9 717.5a3.0 3.0 0 1 0 6.0 0a3.0 3.0 0 1 0 -6.0 0M1573.2 726.0a3.0 3.0 0 1 0 6.0 0a3.0 3.0 0 1 0 -6.0 0M1564.2 737.0a3.0 3.0 0 1 0 6.0 0a3.0 3.0 0 1 0 -6.0 0M1582.7 734.4a3.0 3.0 0 1 0 6.0 0a3.0 3.0 0 1 0 -6.0 0M1560.5 753.4a3.0 3.0 0 1 0 6.0 0a3.0 3.0 0 1 0 -6.0 0M1551.5 757.1a3.0 3.0 0 1 0 6.0 0a3.0 3.0 0 1 0 -6.0 0M1563.2 764.0a3.0 3.0 0 1 0 6.0 0a3.0 3.0 0 1 0 -6.0 0M1552.1 769.3a3.0 3.0 0 1 0 6.0 0a3.0 3.0 0 1 0 -6.0 0M1580.6 752.4a3.0 3.0 0 1 0 6.0 0a3.0 3.0 0 1 0 -6.0 0M1587.0 749.2a3.0 3.0 0 1 0 6.0 0a3.0 3.0 0 1 0 -6.0 0M1593.3 749.2a3.0 3.0 0 1 0 6.0 0a3.0 3.0 0 1 0 -6.0 0M1588.0 773.5a3.0 3.0 0 1 0 6.0 0a3.0 3.0 0 1 0 -6.0 0M1583.3 782.0a3.0 3.0 0 1 0 6.0 0a3.0 3.0 0 1 0 -6.0 0M1582.1 734.4a3.0 3.0 0 1 0 6.0 0a3.0 3.0 0 1 0 -6.0 0M1580.4 753.0a3.0 3.0 0 1 0 6.0 0a3.0 3.0 0 1 0 -6.0 0M1588.0 774.1a3.0 3.0 0 1 0 6.0 0a3.0 3.0 0 1 0 -6.0 0M1582.9 782.6a3.0 3.0 0 1 0 6.0 0a3.0 3.0 0 1 0 -6.0 0M1646.3 760.6a3.0 3.0 0 1 0 6.0 0a3.0 3.0 0 1 0 -6.0 0M1692.0 775.0a3.0 3.0 0 1 0 6.0 0a3.0 3.0 0 1 0 -6.0 0M1698.2 781.9a3.0 3.0 0 1 0 6.0 0a3.0 3.0 0 1 0 -6.0 0M1709.0 778.7a3.0 3.0 0 1 0 6.0 0a3.0 3.0 0 1 0 -6.0 0M1714.7 769.8a3.0 3.0 0 1 0 6.0 0a3.0 3.0 0 1 0 -6.0 0M1723.9 776.5a3.0 3.0 0 1 0 6.0 0a3.0 3.0 0 1 0 -6.0 0M1554.0 733.0a3.0 3.0 0 1 0 6.0 0a3.0 3.0 0 1 0 -6.0 0M1550.0 726.0a3.0 3.0 0 1 0 6.0 0a3.0 3.0 0 1 0 -6.0 0M1583.2 750.0a3.0 3.0 0 1 0 6.0 0a3.0 3.0 0 1 0 -6.0 0M1582.9 754.2a3.0 3.0 0 1 0 6.0 0a3.0 3.0 0 1 0 -6.0 0M1587.7 753.1a3.0 3.0 0 1 0 6.0 0a3.0 3.0 0 1 0 -6.0 0M1587.0 756.9a3.0 3.0 0 1 0 6.0 0a3.0 3.0 0 1 0 -6.0 0M1591.4 753.7a3.0 3.0 0 1 0 6.0 0a3.0 3.0 0 1 0 -6.0 0M1591.4 758.2a3.0 3.0 0 1 0 6.0 0a3.0 3.0 0 1 0 -6.0 0M1596.0 756.5a3.0 3.0 0 1 0 6.0 0a3.0 3.0 0 1 0 -6.0 0M1595.8 762.1a3.0 3.0 0 1 0 6.0 0a3.0 3.0 0 1 0 -6.0 0M1599.5 760.1a3.0 3.0 0 1 0 6.0 0a3.0 3.0 0 1 0 -6.0 0M1600.4 763.8a3.0 3.0 0 1 0 6.0 0a3.0 3.0 0 1 0 -6.0 0M1603.5 761.8a3.0 3.0 0 1 0 6.0 0a3.0 3.0 0 1 0 -6.0 0M1604.2 765.6a3.0 3.0 0 1 0 6.0 0a3.0 3.0 0 1 0 -6.0 0M1608.5 763.4a3.0 3.0 0 1 0 6.0 0a3.0 3.0 0 1 0 -6.0 0M1607.9 767.7a3.0 3.0 0 1 0 6.0 0a3.0 3.0 0 1 0 -6.0 0M1612.5 766.8a3.0 3.0 0 1 0 6.0 0a3.0 3.0 0 1 0 -6.0 0M1612.6 770.5a3.0 3.0 0 1 0 6.0 0a3.0 3.0 0 1 0 -6.0 0M1616.4 766.6a3.0 3.0 0 1 0 6.0 0a3.0 3.0 0 1 0 -6.0 0M1616.2 771.8a3.0 3.0 0 1 0 6.0 0a3.0 3.0 0 1 0 -6.0 0M1620.5 767.4a3.0 3.0 0 1 0 6.0 0a3.0 3.0 0 1 0 -6.0 0M1620.7 772.1a3.0 3.0 0 1 0 6.0 0a3.0 3.0 0 1 0 -6.0 0M1625.0 768.2a3.0 3.0 0 1 0 6.0 0a3.0 3.0 0 1 0 -6.0 0M1624.9 773.1a3.0 3.0 0 1 0 6.0 0a3.0 3.0 0 1 0 -6.0 0M1628.8 770.5a3.0 3.0 0 1 0 6.0 0a3.0 3.0 0 1 0 -6.0 0M1628.7 775.5a3.0 3.0 0 1 0 6.0 0a3.0 3.0 0 1 0 -6.0 0M1633.6 771.2a3.0 3.0 0 1 0 6.0 0a3.0 3.0 0 1 0 -6.0 0M1633.4 776.2a3.0 3.0 0 1 0 6.0 0a3.0 3.0 0 1 0 -6.0 0M1637.3 771.4a3.0 3.0 0 1 0 6.0 0a3.0 3.0 0 1 0 -6.0 0M1637.0 775.3a3.0 3.0 0 1 0 6.0 0a3.0 3.0 0 1 0 -6.0 0M1641.7 771.9a3.0 3.0 0 1 0 6.0 0a3.0 3.0 0 1 0 -6.0 0M1642.4 777.2a3.0 3.0 0 1 0 6.0 0a3.0 3.0 0 1 0 -6.0 0M1645.5 772.7a3.0 3.0 0 1 0 6.0 0a3.0 3.0 0 1 0 -6.0 0M1645.9 776.3a3.0 3.0 0 1 0 6.0 0a3.0 3.0 0 1 0 -6.0 0M1649.8 770.9a3.0 3.0 0 1 0 6.0 0a3.0 3.0 0 1 0 -6.0 0M1650.1 776.6a3.0 3.0 0 1 0 6.0 0a3.0 3.0 0 1 0 -6.0 0M1654.8 772.2a3.0 3.0 0 1 0 6.0 0a3.0 3.0 0 1 0 -6.0 0M1654.0 776.8a3.0 3.0 0 1 0 6.0 0a3.0 3.0 0 1 0 -6.0 0M1659.0 771.3a3.0 3.0 0 1 0 6.0 0a3.0 3.0 0 1 0 -6.0 0M1658.4 776.1a3.0 3.0 0 1 0 6.0 0a3.0 3.0 0 1 0 -6.0 0M1663.4 771.1a3.0 3.0 0 1 0 6.0 0a3.0 3.0 0 1 0 -6.0 0M1663.0 776.4a3.0 3.0 0 1 0 6.0 0a3.0 3.0 0 1 0 -6.0 0M1667.3 772.0a3.0 3.0 0 1 0 6.0 0a3.0 3.0 0 1 0 -6.0 0M1666.7 777.5a3.0 3.0 0 1 0 6.0 0a3.0 3.0 0 1 0 -6.0 0M1671.2 771.0a3.0 3.0 0 1 0 6.0 0a3.0 3.0 0 1 0 -6.0 0M1670.9 776.0a3.0 3.0 0 1 0 6.0 0a3.0 3.0 0 1 0 -6.0 0M1675.2 771.3a3.0 3.0 0 1 0 6.0 0a3.0 3.0 0 1 0 -6.0 0M1675.6 777.1a3.0 3.0 0 1 0 6.0 0a3.0 3.0 0 1 0 -6.0 0M1685.9 774.4a3.0 3.0 0 1 0 6.0 0a3.0 3.0 0 1 0 -6.0 0M1686.2 778.1a3.0 3.0 0 1 0 6.0 0a3.0 3.0 0 1 0 -6.0 0M1689.8 775.3a3.0 3.0 0 1 0 6.0 0a3.0 3.0 0 1 0 -6.0 0M1689.8 778.9a3.0 3.0 0 1 0 6.0 0a3.0 3.0 0 1 0 -6.0 0M1692.8 775.3a3.0 3.0 0 1 0 6.0 0a3.0 3.0 0 1 0 -6.0 0M1692.9 778.8a3.0 3.0 0 1 0 6.0 0a3.0 3.0 0 1 0 -6.0 0M1696.6 774.4a3.0 3.0 0 1 0 6.0 0a3.0 3.0 0 1 0 -6.0 0M1696.2 778.8a3.0 3.0 0 1 0 6.0 0a3.0 3.0 0 1 0 -6.0 0" stroke="#f00" stroke-width="1.75" fill="none"/>
<path d="M148.00 375.90V9.00M180.00 375.90V9.00M212.00 375.90V9.00M244.00 375.90V9.00M276.00 375.90V9.00M308.00 375.90V9.00M340.00 375.90V9.00M372.00 375.90V9.00M404.00 375.90V9.00M436.00 375.90V9.00M468.00 375.90V9.00M500.00 375.90V9.00M532.00 375.90V9.00M564.00 375.90V9.00M130.70 362.50H581.00M130.70 331.64H581.00M130.70 300.78H581.00M130.70 269.92H581.00M130.70 239.06H581.00M130.70 208.20H581.00M130.70 177.34H581.00M130.70 146.48H581.00M130.70 115.62H581.00M130.70 84.76H581.00M130.70 53.90H581.00M130.70 23.04H581.00" stroke="#999" stroke-width="1.5" stroke-dasharray="2.5 4.56" fill="none"/>
<path d="M737.67 375.90V9.00M769.67 375.90V9.00M801.67 375.90V9.00M833.67 375.90V9.00M865.67 375.90V9.00M897.67 375.90V9.00M929.67 375.90V9.00M961.67 375.90V9.00M993.67 375.90V9.00M1025.67 375.90V9.00M1057.67 375.90V9.00M1089.67 375.90V9.00M1121.67 375.90V9.00M1153.67 375.90V9.00M720.37 362.50H1170.67M720.37 331.64H1170.67M720.37 300.78H1170.67M720.37 269.92H1170.67M720.37 239.06H1170.67M720.37 208.20H1170.67M720.37 177.34H1170.67M720.37 146.48H1170.67M720.37 115.62H1170.67M720.37 84.76H1170.67M720.37 53.90H1170.67M720.37 23.04H1170.67" stroke="#999" stroke-width="1.5" stroke-dasharray="2.5 4.56" fill="none"/>
<path d="M1327.33 375.90V9.00M1359.33 375.90V9.00M1391.33 375.90V9.00M1423.33 375.90V9.00M1455.33 375.90V9.00M1487.33 375.90V9.00M1519.33 375.90V9.00M1551.33 375.90V9.00M1583.33 375.90V9.00M1615.33 375.90V9.00M1647.33 375.90V9.00M1679.33 375.90V9.00M1711.33 375.90V9.00M1743.33 375.90V9.00M1310.03 362.50H1760.33M1310.03 331.64H1760.33M1310.03 300.78H1760.33M1310.03 269.92H1760.33M1310.03 239.06H1760.33M1310.03 208.20H1760.33M1310.03 177.34H1760.33M1310.03 146.48H1760.33M1310.03 115.62H1760.33M1310.03 84.76H1760.33M1310.03 53.90H1760.33M1310.03 23.04H1760.33" stroke="#999" stroke-width="1.5" stroke-dasharray="2.5 4.56" fill="none"/>
<path d="M148.00 847.90V481.00M180.00 847.90V481.00M212.00 847.90V481.00M244.00 847.90V481.00M276.00 847.90V481.00M308.00 847.90V481.00M340.00 847.90V481.00M372.00 847.90V481.00M404.00 847.90V481.00M436.00 847.90V481.00M468.00 847.90V481.00M500.00 847.90V481.00M532.00 847.90V481.00M564.00 847.90V481.00M130.70 834.50H581.00M130.70 803.64H581.00M130.70 772.78H581.00M130.70 741.92H581.00M130.70 711.06H581.00M130.70 680.20H581.00M130.70 649.34H581.00M130.70 618.48H581.00M130.70 587.62H581.00M130.70 556.76H581.00M130.70 525.90H581.00M130.70 495.04H581.00" stroke="#999" stroke-width="1.5" stroke-dasharray="2.5 4.56" fill="none"/>
<path d="M737.67 847.90V481.00M769.67 847.90V481.00M801.67 847.90V481.00M833.67 847.90V481.00M865.67 847.90V481.00M897.67 847.90V481.00M929.67 847.90V481.00M961.67 847.90V481.00M993.67 847.90V481.00M1025.67 847.90V481.00M1057.67 847.90V481.00M1089.67 847.90V481.00M1121.67 847.90V481.00M1153.67 847.90V481.00M720.37 834.50H1170.67M720.37 803.64H1170.67M720.37 772.78H1170.67M720.37 741.92H1170.67M720.37 711.06H1170.67M720.37 680.20H1170.67M720.37 649.34H1170.67M720.37 618.48H1170.67M720.37 587.62H1170.67M720.37 556.76H1170.67M720.37 525.90H1170.67M720.37 495.04H1170.67" stroke="#999" stroke-width="1.5" stroke-dasharray="2.5 4.56" fill="none"/>
<path d="M1327.33 847.90V481.00M1359.33 847.90V481.00M1391.33 847.90V481.00M1423.33 847.90V481.00M1455.33 847.90V481.00M1487.33 847.90V481.00M1519.33 847.90V481.00M1551.33 847.90V481.00M1583.33 847.90V481.00M1615.33 847.90V481.00M1647.33 847.90V481.00M1679.33 847.90V481.00M1711.33 847.90V481.00M1743.33 847.90V481.00M1310.03 834.50H1760.33M1310.03 803.64H1760.33M1310.03 772.78H1760.33M1310.03 741.92H1760.33M1310.03 711.06H1760.33M1310.03 680.20H1760.33M1310.03 649.34H1760.33M1310.03 618.48H1760.33M1310.03 587.62H1760.33M1310.03 556.76H1760.33M1310.03 525.90H1760.33M1310.03 495.04H1760.33" stroke="#999" stroke-width="1.5" stroke-dasharray="2.5 4.56" fill="none"/>
<text x="77.3" y="31.0" class="L">A</text>
<text x="668.5" y="31.0" class="L">B</text>
<text x="1253.8" y="31.2" class="L">C</text>
<text x="78.0" y="475.2" class="L">D</text>
<text x="668.5" y="475.2" class="L">E</text>
<text x="1254.2" y="475.2" class="L">F</text>
<text transform="translate(49.9 350.60) rotate(-90)" class="t">H</text>
<text transform="translate(55.6 323.90) rotate(-90)" class="s">meas-mod</text>
<text transform="translate(49.9 181.50) rotate(-90)" class="t">[W</text>
<text transform="translate(49.9 115.50) rotate(-90)" class="t">m</text>
<text transform="translate(31.9 84.80) rotate(-90)" class="s">−</text>
<text transform="translate(29.5 69.44) rotate(-90)" class="s">2</text>
<text transform="translate(49.9 45.20) rotate(-90)" class="t">]</text>
<text transform="translate(49.9 832.50) rotate(-90)" class="t">LE</text>
<text transform="translate(55.6 785.80) rotate(-90)" class="s">meas-mod</text>
<text transform="translate(49.9 643.40) rotate(-90)" class="t">[W</text>
<text transform="translate(49.9 577.40) rotate(-90)" class="t">m</text>
<text transform="translate(31.9 546.70) rotate(-90)" class="s">−</text>
<text transform="translate(29.5 531.34) rotate(-90)" class="s">2</text>
<text transform="translate(49.9 507.10) rotate(-90)" class="t">]</text>
<text x="262.00" y="929.2" class="t">T</text>
<text x="285.50" y="935.3" class="s">air-surf</text>
<text x="385.50" y="929.2" class="t">[°C]</text>
<text x="851.67" y="929.2" class="t">T</text>
<text x="875.17" y="935.3" class="s">air-surf</text>
<text x="975.17" y="929.2" class="t">[°C]</text>
<text x="1441.33" y="929.2" class="t">T</text>
<text x="1464.83" y="935.3" class="s">air-surf</text>
<text x="1564.83" y="929.2" class="t">[°C]</text>
</svg>
</body></html>
